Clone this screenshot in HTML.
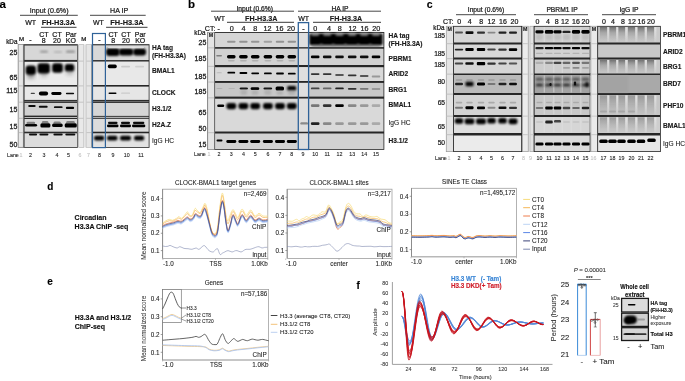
<!DOCTYPE html>
<html><head><meta charset="utf-8"><style>
html,body{margin:0;padding:0;background:#fff;width:685px;height:381px;overflow:hidden}
svg{display:block}
text{font-family:"Liberation Sans", sans-serif}
</style></head><body>
<svg width="685" height="381" viewBox="0 0 685 381" font-family="&quot;Liberation Sans&quot;, sans-serif" style="will-change:transform">
<defs>
<filter id="b0" x="-50%" y="-50%" width="200%" height="200%"><feGaussianBlur stdDeviation="0.35"/></filter>
<filter id="b1" x="-50%" y="-50%" width="200%" height="200%"><feGaussianBlur stdDeviation="0.6"/></filter>
<filter id="b2" x="-50%" y="-50%" width="200%" height="200%"><feGaussianBlur stdDeviation="1.2"/></filter>
<filter id="b3" x="-50%" y="-50%" width="200%" height="200%"><feGaussianBlur stdDeviation="2"/></filter>
<filter id="b4" x="-50%" y="-50%" width="200%" height="200%"><feGaussianBlur stdDeviation="0.8"/></filter>
<linearGradient id="gcol" x1="0" y1="0" x2="0" y2="1"><stop offset="0" stop-color="#666" stop-opacity="0.9"/><stop offset="0.4" stop-color="#888" stop-opacity="0.5"/><stop offset="1" stop-color="#a8a8a8" stop-opacity="0.1"/></linearGradient>
<linearGradient id="glt" x1="0" y1="0" x2="0" y2="1"><stop offset="0" stop-color="#e4e4e4" stop-opacity="0.95"/><stop offset="0.6" stop-color="#e0e0e0" stop-opacity="0.5"/><stop offset="1" stop-color="#e0e0e0" stop-opacity="0.1"/></linearGradient>
<linearGradient id="gcol2" x1="0" y1="0" x2="0" y2="1"><stop offset="0" stop-color="#7a7a7a" stop-opacity="0.6"/><stop offset="1" stop-color="#a0a0a0" stop-opacity="0.1"/></linearGradient>
</defs>
<rect width="685" height="381" fill="#fff"/>
<text x="-0.6" y="7.9" font-size="11.5" font-weight="bold" text-anchor="start" fill="#000" stroke="#000" stroke-width="0.14" >a</text>
<text x="49.2" y="12.7" font-size="7.1" font-weight="normal" text-anchor="middle" fill="#1a1a1a" stroke="#1a1a1a" stroke-width="0.22" >Input (0.6%)</text>
<line x1="20" y1="15.3" x2="77.8" y2="15.3" stroke="#333" stroke-width="0.9" />
<text x="119.1" y="12.7" font-size="7.1" font-weight="normal" text-anchor="middle" fill="#1a1a1a" stroke="#1a1a1a" stroke-width="0.22" >HA IP</text>
<line x1="90" y1="15.3" x2="145.7" y2="15.3" stroke="#333" stroke-width="0.9" />
<text x="30.7" y="25.3" font-size="7.0" font-weight="normal" text-anchor="middle" fill="#1a1a1a" stroke="#1a1a1a" stroke-width="0.22" >WT</text>
<text x="58.4" y="25.3" font-size="7.4" font-weight="bold" text-anchor="middle" fill="#1a1a1a" stroke="#1a1a1a" stroke-width="0.14" >FH-H3.3A</text>
<line x1="41" y1="27.3" x2="76.5" y2="27.3" stroke="#222" stroke-width="0.9" />
<text x="98.4" y="25.3" font-size="7.0" font-weight="normal" text-anchor="middle" fill="#1a1a1a" stroke="#1a1a1a" stroke-width="0.22" >WT</text>
<text x="127" y="25.3" font-size="7.4" font-weight="bold" text-anchor="middle" fill="#1a1a1a" stroke="#1a1a1a" stroke-width="0.14" >FH-H3.3A</text>
<line x1="106.1" y1="27.3" x2="147.5" y2="27.3" stroke="#222" stroke-width="0.9" />
<text x="21.5" y="40.9" font-size="5.3" font-weight="normal" text-anchor="middle" fill="#1a1a1a" stroke="#1a1a1a" stroke-width="0.22" transform="translate(21.5 0) scale(1.15 1) translate(-21.5 0)">M</text>
<text x="30.5" y="42.3" font-size="7" font-weight="normal" text-anchor="middle" fill="#1a1a1a" stroke="#1a1a1a" stroke-width="0.22" >-</text>
<text x="43.8" y="36.7" font-size="7.0" font-weight="normal" text-anchor="middle" fill="#1a1a1a" stroke="#1a1a1a" stroke-width="0.22" >CT</text>
<text x="43.8" y="43.2" font-size="7.0" font-weight="normal" text-anchor="middle" fill="#1a1a1a" stroke="#1a1a1a" stroke-width="0.22" >8</text>
<text x="57" y="36.7" font-size="7.0" font-weight="normal" text-anchor="middle" fill="#1a1a1a" stroke="#1a1a1a" stroke-width="0.22" >CT</text>
<text x="57" y="43.2" font-size="7.0" font-weight="normal" text-anchor="middle" fill="#1a1a1a" stroke="#1a1a1a" stroke-width="0.22" >20</text>
<text x="70.9" y="36.7" font-size="7.0" font-weight="normal" text-anchor="middle" fill="#1a1a1a" stroke="#1a1a1a" stroke-width="0.22" >Par</text>
<text x="70.9" y="43.2" font-size="7.0" font-weight="normal" text-anchor="middle" fill="#1a1a1a" stroke="#1a1a1a" stroke-width="0.22" >KO</text>
<text x="83.8" y="41.0" font-size="5.3" font-weight="normal" text-anchor="middle" fill="#1a1a1a" stroke="#1a1a1a" stroke-width="0.22" transform="translate(83.8 0) scale(1.15 1) translate(-83.8 0)">M</text>
<text x="99.4" y="42.3" font-size="7" font-weight="normal" text-anchor="middle" fill="#1a1a1a" stroke="#1a1a1a" stroke-width="0.22" >-</text>
<text x="113.2" y="36.5" font-size="7.0" font-weight="normal" text-anchor="middle" fill="#1a1a1a" stroke="#1a1a1a" stroke-width="0.22" >CT</text>
<text x="113.2" y="42.5" font-size="7.0" font-weight="normal" text-anchor="middle" fill="#1a1a1a" stroke="#1a1a1a" stroke-width="0.22" >8</text>
<text x="126" y="36.5" font-size="7.0" font-weight="normal" text-anchor="middle" fill="#1a1a1a" stroke="#1a1a1a" stroke-width="0.22" >CT</text>
<text x="126" y="42.5" font-size="7.0" font-weight="normal" text-anchor="middle" fill="#1a1a1a" stroke="#1a1a1a" stroke-width="0.22" >20</text>
<text x="140.2" y="36.5" font-size="7.0" font-weight="normal" text-anchor="middle" fill="#1a1a1a" stroke="#1a1a1a" stroke-width="0.22" >Par</text>
<text x="140.2" y="42.5" font-size="7.0" font-weight="normal" text-anchor="middle" fill="#1a1a1a" stroke="#1a1a1a" stroke-width="0.22" >KO</text>
<text x="17.4" y="44.3" font-size="6.3" font-weight="normal" text-anchor="end" fill="#1a1a1a" stroke="#1a1a1a" stroke-width="0.22" >kDa</text>
<text x="17.3" y="55.2" font-size="7.0" font-weight="normal" text-anchor="end" fill="#1a1a1a" stroke="#1a1a1a" stroke-width="0.26" >25</text>
<text x="17.3" y="79.8" font-size="7.0" font-weight="normal" text-anchor="end" fill="#1a1a1a" stroke="#1a1a1a" stroke-width="0.26" >65</text>
<text x="17.3" y="93.2" font-size="7.0" font-weight="normal" text-anchor="end" fill="#1a1a1a" stroke="#1a1a1a" stroke-width="0.26" >115</text>
<text x="17.3" y="111.7" font-size="7.0" font-weight="normal" text-anchor="end" fill="#1a1a1a" stroke="#1a1a1a" stroke-width="0.26" >15</text>
<text x="17.3" y="129.2" font-size="7.0" font-weight="normal" text-anchor="end" fill="#1a1a1a" stroke="#1a1a1a" stroke-width="0.26" >15</text>
<text x="17.3" y="146.9" font-size="7.0" font-weight="normal" text-anchor="end" fill="#1a1a1a" stroke="#1a1a1a" stroke-width="0.26" >50</text>
<rect x="17.9" y="44.2" width="59.9" height="103.6" fill="#2a2a2a" stroke="none" stroke-width="0" />
<rect x="24.5" y="45.5" width="52.599999999999994" height="14.399999999999999" fill="#d7d7d7" stroke="none" stroke-width="0" />
<rect x="24.5" y="61.8" width="52.599999999999994" height="23.200000000000003" fill="#eaeaea" stroke="none" stroke-width="0" />
<rect x="24.5" y="86.6" width="52.599999999999994" height="13.300000000000011" fill="#e8e8e8" stroke="none" stroke-width="0" />
<rect x="24.5" y="102.9" width="52.599999999999994" height="12.699999999999989" fill="#d0d0d0" stroke="none" stroke-width="0" />
<rect x="24.5" y="119.0" width="52.599999999999994" height="12.699999999999989" fill="#d9d9d9" stroke="none" stroke-width="0" />
<rect x="24.5" y="133.3" width="52.599999999999994" height="13.699999999999989" fill="#dcdcdc" stroke="none" stroke-width="0" />
<rect x="24.5" y="100.9" width="52.599999999999994" height="1.0999999999999943" fill="#6a6a6a" stroke="none" stroke-width="0" />
<rect x="24.5" y="117.0" width="52.599999999999994" height="0.9000000000000057" fill="#cfcfcf" stroke="none" stroke-width="0" />
<rect x="17.9" y="44.2" width="5.9" height="103.6" fill="#a8a8a8" stroke="none" stroke-width="0" />
<rect x="18.9" y="44.9" width="4.0" height="102.0" fill="#e6e6e6" stroke="none" stroke-width="0" />
<rect x="18.9" y="60.599999999999994" width="4.0" height="1.0" fill="#bdbdbd" stroke="none" stroke-width="0" />
<rect x="18.9" y="85.39999999999999" width="4.0" height="1.0" fill="#bdbdbd" stroke="none" stroke-width="0" />
<rect x="18.9" y="101.7" width="4.0" height="1.0" fill="#bdbdbd" stroke="none" stroke-width="0" />
<rect x="18.9" y="117.8" width="4.0" height="1.0" fill="#bdbdbd" stroke="none" stroke-width="0" />
<rect x="18.9" y="132.10000000000002" width="4.0" height="1.0" fill="#bdbdbd" stroke="none" stroke-width="0" />
<rect x="23.2" y="44.2" width="1.0" height="103.6" fill="#6e6e6e" stroke="none" stroke-width="0" />
<rect x="77.2" y="44.2" width="0.8" height="103.6" fill="#6e6e6e" stroke="none" stroke-width="0" />
<rect x="78.3" y="44.4" width="6.0" height="103.2" fill="#a9a9a9" stroke="none" stroke-width="0" />
<rect x="79.0" y="45.0" width="4.6" height="102.0" fill="#e9e9e9" stroke="none" stroke-width="0" />
<rect x="85.6" y="44.4" width="6.2" height="103.2" fill="#a9a9a9" stroke="none" stroke-width="0" />
<rect x="86.3" y="45.0" width="4.8" height="102.0" fill="#e6e6e6" stroke="none" stroke-width="0" />
<rect x="79.0" y="60.599999999999994" width="4.6" height="1.0" fill="#c4c4c4" stroke="none" stroke-width="0" />
<rect x="86.3" y="60.599999999999994" width="4.8" height="1.0" fill="#c4c4c4" stroke="none" stroke-width="0" />
<rect x="79.0" y="85.39999999999999" width="4.6" height="1.0" fill="#c4c4c4" stroke="none" stroke-width="0" />
<rect x="86.3" y="85.39999999999999" width="4.8" height="1.0" fill="#c4c4c4" stroke="none" stroke-width="0" />
<rect x="79.0" y="101.7" width="4.6" height="1.0" fill="#c4c4c4" stroke="none" stroke-width="0" />
<rect x="86.3" y="101.7" width="4.8" height="1.0" fill="#c4c4c4" stroke="none" stroke-width="0" />
<rect x="79.0" y="117.8" width="4.6" height="1.0" fill="#c4c4c4" stroke="none" stroke-width="0" />
<rect x="86.3" y="117.8" width="4.8" height="1.0" fill="#c4c4c4" stroke="none" stroke-width="0" />
<rect x="79.0" y="132.10000000000002" width="4.6" height="1.0" fill="#c4c4c4" stroke="none" stroke-width="0" />
<rect x="86.3" y="132.10000000000002" width="4.8" height="1.0" fill="#c4c4c4" stroke="none" stroke-width="0" />
<rect x="91.8" y="44.2" width="57.7" height="103.6" fill="#262626" stroke="none" stroke-width="0" />
<rect x="92.39999999999999" y="45.3" width="56.300000000000004" height="14.800000000000004" fill="#d8d8d8" stroke="none" stroke-width="0" />
<rect x="92.39999999999999" y="61.5" width="56.300000000000004" height="23.5" fill="#e8e8e8" stroke="none" stroke-width="0" />
<rect x="92.39999999999999" y="86.6" width="56.300000000000004" height="13.300000000000011" fill="#e6e6e6" stroke="none" stroke-width="0" />
<rect x="92.39999999999999" y="102.9" width="56.300000000000004" height="13.0" fill="#d6d6d6" stroke="none" stroke-width="0" />
<rect x="92.39999999999999" y="118.8" width="56.300000000000004" height="12.899999999999991" fill="#dcdcdc" stroke="none" stroke-width="0" />
<rect x="92.39999999999999" y="133.3" width="56.300000000000004" height="13.699999999999989" fill="#e2e2e2" stroke="none" stroke-width="0" />
<rect x="92.39999999999999" y="100.9" width="56.3" height="1.0999999999999943" fill="#6a6a6a" stroke="none" stroke-width="0" />
<rect x="92.39999999999999" y="116.8" width="56.300000000000004" height="1.0" fill="#d4d4d4" stroke="none" stroke-width="0" />
<rect x="40.00" y="50.80" width="8.00" height="1.80" rx="1.50" fill="#777" opacity="0.8" filter="url(#b2)"/>
<rect x="53.50" y="51.20" width="9.00" height="1.60" rx="1.50" fill="#999" opacity="0.7" filter="url(#b2)"/>
<rect x="66.00" y="50.80" width="9.00" height="1.80" rx="1.50" fill="#666" opacity="0.8" filter="url(#b2)"/>
<rect x="28.00" y="71.50" width="6.00" height="6.50" rx="1.50" fill="#555" opacity="0.75" filter="url(#b3)"/>
<rect x="41.00" y="70.00" width="6.00" height="6.50" rx="1.50" fill="#777" opacity="0.6" filter="url(#b3)"/>
<rect x="66.50" y="68.00" width="6.50" height="6.50" rx="1.50" fill="#777" opacity="0.6" filter="url(#b3)"/>
<rect x="25.70" y="65.50" width="10.20" height="9.30" rx="3.00" fill="#000" opacity="1" filter="url(#b4)"/>
<rect x="37.50" y="63.20" width="12.40" height="10.40" rx="3.00" fill="#000" opacity="1" filter="url(#b4)"/>
<rect x="52.10" y="63.20" width="10.80" height="9.50" rx="3.00" fill="#000" opacity="1" filter="url(#b4)"/>
<rect x="64.80" y="63.90" width="9.50" height="7.40" rx="2.60" fill="#000" opacity="1" filter="url(#b4)"/>
<rect x="30.70" y="92.70" width="4.20" height="1.40" rx="0.70" fill="#444" opacity="1" filter="url(#b1)"/>
<rect x="38.90" y="91.50" width="9.20" height="4.00" rx="2.00" fill="#000" opacity="1" filter="url(#b1)"/>
<rect x="51.30" y="92.10" width="10.20" height="2.80" rx="1.40" fill="#000" opacity="1" filter="url(#b1)"/>
<rect x="65.90" y="92.65" width="8.20" height="1.50" rx="0.75" fill="#111" opacity="1" filter="url(#b1)"/>
<rect x="28.20" y="105.00" width="7.40" height="2.00" rx="1.00" fill="#111" opacity="1" filter="url(#b1)"/>
<rect x="38.80" y="105.70" width="8.90" height="2.10" rx="1.00" fill="#111" opacity="1" filter="url(#b1)"/>
<rect x="53.90" y="106.20" width="8.70" height="1.90" rx="1.00" fill="#111" opacity="1" filter="url(#b1)"/>
<rect x="65.90" y="106.70" width="8.20" height="2.30" rx="1.00" fill="#000" opacity="1" filter="url(#b1)"/>
<rect x="25.00" y="124.00" width="12.10" height="2.60" rx="1.50" fill="#000" opacity="1" filter="url(#b1)"/>
<rect x="26.50" y="121.80" width="8.60" height="2.40" rx="1.50" fill="#444" opacity="0.6" filter="url(#b1)"/>
<rect x="40.40" y="123.20" width="10.00" height="4.20" rx="1.50" fill="#000" opacity="1" filter="url(#b1)"/>
<rect x="41.90" y="121.00" width="6.50" height="2.40" rx="1.50" fill="#444" opacity="0.6" filter="url(#b1)"/>
<rect x="52.10" y="123.60" width="10.60" height="3.40" rx="1.50" fill="#000" opacity="1" filter="url(#b1)"/>
<rect x="53.60" y="121.40" width="7.10" height="2.40" rx="1.50" fill="#444" opacity="0.6" filter="url(#b1)"/>
<rect x="64.70" y="123.20" width="12.10" height="4.30" rx="1.50" fill="#000" opacity="1" filter="url(#b1)"/>
<rect x="66.20" y="121.00" width="8.60" height="2.40" rx="1.50" fill="#444" opacity="0.6" filter="url(#b1)"/>
<rect x="29.00" y="133.40" width="8.10" height="2.20" rx="1.00" fill="#111" opacity="1" filter="url(#b1)"/>
<rect x="39.40" y="133.40" width="9.00" height="2.20" rx="1.00" fill="#111" opacity="1" filter="url(#b1)"/>
<rect x="53.40" y="133.40" width="9.30" height="2.20" rx="1.00" fill="#111" opacity="1" filter="url(#b1)"/>
<rect x="65.30" y="133.40" width="10.00" height="2.20" rx="1.00" fill="#111" opacity="1" filter="url(#b1)"/>
<rect x="106.10" y="48.20" width="13.50" height="7.70" rx="3.00" fill="#000" opacity="1" filter="url(#b4)"/>
<rect x="119.00" y="48.60" width="14.40" height="6.80" rx="3.00" fill="#000" opacity="1" filter="url(#b4)"/>
<rect x="133.20" y="48.40" width="12.80" height="7.20" rx="3.00" fill="#000" opacity="1" filter="url(#b4)"/>
<rect x="108.00" y="46.60" width="36.00" height="1.60" rx="1.50" fill="#f2f2f2" opacity="0.7" filter="url(#b1)"/>
<rect x="107.80" y="64.60" width="9.00" height="3.60" rx="1.60" fill="#000" opacity="1" filter="url(#b1)"/>
<rect x="121.10" y="65.70" width="9.00" height="1.80" rx="0.90" fill="#bdbdbd" opacity="0.7" filter="url(#b1)"/>
<rect x="135.10" y="65.70" width="9.00" height="1.80" rx="0.90" fill="#c6c6c6" opacity="0.7" filter="url(#b1)"/>
<rect x="108.50" y="92.45" width="8.00" height="1.50" rx="0.75" fill="#000" opacity="1" filter="url(#b1)"/>
<rect x="121.10" y="92.60" width="9.00" height="1.20" rx="0.60" fill="#b8b8b8" opacity="0.6" filter="url(#b1)"/>
<rect x="108.00" y="121.80" width="9.50" height="2.10" rx="1.00" fill="#111" opacity="1" filter="url(#b1)"/>
<rect x="107.00" y="124.60" width="11.50" height="2.60" rx="1.20" fill="#000" opacity="1" filter="url(#b1)"/>
<rect x="121.00" y="121.80" width="9.00" height="2.10" rx="1.00" fill="#111" opacity="1" filter="url(#b1)"/>
<rect x="120.00" y="124.60" width="11.00" height="2.60" rx="1.20" fill="#000" opacity="1" filter="url(#b1)"/>
<rect x="133.00" y="121.80" width="11.30" height="2.10" rx="1.00" fill="#111" opacity="1" filter="url(#b1)"/>
<rect x="132.00" y="124.60" width="13.30" height="2.60" rx="1.20" fill="#000" opacity="1" filter="url(#b1)"/>
<rect x="94.00" y="135.80" width="10.30" height="4.60" rx="2.00" fill="#000" opacity="1" filter="url(#b4)"/>
<rect x="107.00" y="135.80" width="10.50" height="4.60" rx="2.00" fill="#000" opacity="1" filter="url(#b4)"/>
<rect x="120.00" y="135.80" width="11.00" height="4.60" rx="2.00" fill="#000" opacity="1" filter="url(#b4)"/>
<rect x="134.00" y="135.80" width="10.20" height="4.60" rx="2.00" fill="#000" opacity="1" filter="url(#b4)"/>
<rect x="92.5" y="33.5" width="12.9" height="114.1" fill="none" stroke="#2f6298" stroke-width="1.2" />
<text x="152" y="50" font-size="6.6" font-weight="bold" text-anchor="start" fill="#1a1a1a" stroke="#1a1a1a" stroke-width="0.14" >HA tag</text>
<text x="152" y="57.6" font-size="6.6" font-weight="bold" text-anchor="start" fill="#1a1a1a" stroke="#1a1a1a" stroke-width="0.14" >(FH-H3.3A)</text>
<text x="152" y="73.4" font-size="6.6" font-weight="bold" text-anchor="start" fill="#1a1a1a" stroke="#1a1a1a" stroke-width="0.14" >BMAL1</text>
<text x="152" y="95.2" font-size="6.6" font-weight="bold" text-anchor="start" fill="#1a1a1a" stroke="#1a1a1a" stroke-width="0.14" >CLOCK</text>
<text x="152" y="111.2" font-size="6.6" font-weight="bold" text-anchor="start" fill="#1a1a1a" stroke="#1a1a1a" stroke-width="0.14" >H3.1/2</text>
<text x="152" y="127" font-size="6.6" font-weight="bold" text-anchor="start" fill="#1a1a1a" stroke="#1a1a1a" stroke-width="0.14" >H2A.Z</text>
<text x="152" y="143" font-size="6.6" font-weight="normal" text-anchor="start" fill="#1a1a1a" stroke="#1a1a1a" stroke-width="0.1" >IgG HC</text>
<text x="7" y="156.6" font-size="5.3" font-weight="normal" text-anchor="start" fill="#1a1a1a" stroke="#1a1a1a" stroke-width="0.1" >Lane</text>
<text x="21" y="156.6" font-size="5.3" font-weight="normal" text-anchor="middle" fill="#c4c4c4" stroke="#c4c4c4" stroke-width="0.1" >1</text>
<text x="30.5" y="156.6" font-size="5.3" font-weight="normal" text-anchor="middle" fill="#222" stroke="#222" stroke-width="0.1" >2</text>
<text x="44" y="156.6" font-size="5.3" font-weight="normal" text-anchor="middle" fill="#222" stroke="#222" stroke-width="0.1" >3</text>
<text x="57" y="156.6" font-size="5.3" font-weight="normal" text-anchor="middle" fill="#222" stroke="#222" stroke-width="0.1" >4</text>
<text x="68.5" y="156.6" font-size="5.3" font-weight="normal" text-anchor="middle" fill="#222" stroke="#222" stroke-width="0.1" >5</text>
<text x="80" y="156.6" font-size="5.3" font-weight="normal" text-anchor="middle" fill="#c4c4c4" stroke="#c4c4c4" stroke-width="0.1" >6</text>
<text x="88.5" y="156.6" font-size="5.3" font-weight="normal" text-anchor="middle" fill="#c4c4c4" stroke="#c4c4c4" stroke-width="0.1" >7</text>
<text x="99.5" y="156.6" font-size="5.3" font-weight="normal" text-anchor="middle" fill="#222" stroke="#222" stroke-width="0.1" >8</text>
<text x="113" y="156.6" font-size="5.3" font-weight="normal" text-anchor="middle" fill="#222" stroke="#222" stroke-width="0.1" >9</text>
<text x="126.7" y="156.6" font-size="5.3" font-weight="normal" text-anchor="middle" fill="#222" stroke="#222" stroke-width="0.1" >10</text>
<text x="141" y="156.6" font-size="5.3" font-weight="normal" text-anchor="middle" fill="#222" stroke="#222" stroke-width="0.1" >11</text>
<text x="187.9" y="7.9" font-size="11.5" font-weight="bold" text-anchor="start" fill="#000" stroke="#000" stroke-width="0.14" >b</text>
<text x="254.7" y="10.5" font-size="6.7" font-weight="normal" text-anchor="middle" fill="#1a1a1a" stroke="#1a1a1a" stroke-width="0.22" >Input (0.6%)</text>
<line x1="211" y1="11.2" x2="294" y2="11.2" stroke="#333" stroke-width="0.9" />
<text x="340" y="10.5" font-size="6.7" font-weight="normal" text-anchor="middle" fill="#1a1a1a" stroke="#1a1a1a" stroke-width="0.22" >HA IP</text>
<line x1="298" y1="11.2" x2="381" y2="11.2" stroke="#333" stroke-width="0.9" />
<text x="219.6" y="21.1" font-size="7.0" font-weight="normal" text-anchor="middle" fill="#1a1a1a" stroke="#1a1a1a" stroke-width="0.22" >WT</text>
<text x="261.3" y="21.1" font-size="7.2" font-weight="bold" text-anchor="middle" fill="#1a1a1a" stroke="#1a1a1a" stroke-width="0.14" >FH-H3.3A</text>
<line x1="227" y1="22.3" x2="294" y2="22.3" stroke="#222" stroke-width="0.9" />
<text x="303.6" y="21.1" font-size="7.0" font-weight="normal" text-anchor="middle" fill="#1a1a1a" stroke="#1a1a1a" stroke-width="0.22" >WT</text>
<text x="346" y="21.1" font-size="7.2" font-weight="bold" text-anchor="middle" fill="#1a1a1a" stroke="#1a1a1a" stroke-width="0.14" >FH-H3.3A</text>
<line x1="313" y1="22.3" x2="381" y2="22.3" stroke="#222" stroke-width="0.9" />
<text x="204.8" y="30.7" font-size="7.1" font-weight="normal" text-anchor="start" fill="#1a1a1a" stroke="#1a1a1a" stroke-width="0.22" >CT: -</text>
<text x="231.7" y="30.7" font-size="7.2" font-weight="normal" text-anchor="middle" fill="#1a1a1a" stroke="#1a1a1a" stroke-width="0.22" >0</text>
<text x="243.4" y="30.7" font-size="7.2" font-weight="normal" text-anchor="middle" fill="#1a1a1a" stroke="#1a1a1a" stroke-width="0.22" >4</text>
<text x="255.2" y="30.7" font-size="7.2" font-weight="normal" text-anchor="middle" fill="#1a1a1a" stroke="#1a1a1a" stroke-width="0.22" >8</text>
<text x="267.5" y="30.7" font-size="7.2" font-weight="normal" text-anchor="middle" fill="#1a1a1a" stroke="#1a1a1a" stroke-width="0.22" >12</text>
<text x="279.5" y="30.7" font-size="7.2" font-weight="normal" text-anchor="middle" fill="#1a1a1a" stroke="#1a1a1a" stroke-width="0.22" >16</text>
<text x="291" y="30.7" font-size="7.2" font-weight="normal" text-anchor="middle" fill="#1a1a1a" stroke="#1a1a1a" stroke-width="0.22" >20</text>
<text x="303.4" y="30.7" font-size="7.2" font-weight="normal" text-anchor="middle" fill="#1a1a1a" stroke="#1a1a1a" stroke-width="0.22" >-</text>
<text x="315.3" y="30.7" font-size="7.2" font-weight="normal" text-anchor="middle" fill="#1a1a1a" stroke="#1a1a1a" stroke-width="0.22" >0</text>
<text x="329" y="30.7" font-size="7.2" font-weight="normal" text-anchor="middle" fill="#1a1a1a" stroke="#1a1a1a" stroke-width="0.22" >4</text>
<text x="339.7" y="30.7" font-size="7.2" font-weight="normal" text-anchor="middle" fill="#1a1a1a" stroke="#1a1a1a" stroke-width="0.22" >8</text>
<text x="352.5" y="30.7" font-size="7.2" font-weight="normal" text-anchor="middle" fill="#1a1a1a" stroke="#1a1a1a" stroke-width="0.22" >12</text>
<text x="364.5" y="30.7" font-size="7.2" font-weight="normal" text-anchor="middle" fill="#1a1a1a" stroke="#1a1a1a" stroke-width="0.22" >16</text>
<text x="376.3" y="30.7" font-size="7.2" font-weight="normal" text-anchor="middle" fill="#1a1a1a" stroke="#1a1a1a" stroke-width="0.22" >20</text>
<text x="205.5" y="35.2" font-size="6.3" font-weight="normal" text-anchor="end" fill="#1a1a1a" stroke="#1a1a1a" stroke-width="0.22" >kDa</text>
<text x="206.3" y="45.3" font-size="7.0" font-weight="normal" text-anchor="end" fill="#1a1a1a" stroke="#1a1a1a" stroke-width="0.26" >25</text>
<text x="206.3" y="61.2" font-size="7.0" font-weight="normal" text-anchor="end" fill="#1a1a1a" stroke="#1a1a1a" stroke-width="0.26" >185</text>
<text x="206.3" y="79" font-size="7.0" font-weight="normal" text-anchor="end" fill="#1a1a1a" stroke="#1a1a1a" stroke-width="0.26" >185</text>
<text x="206.3" y="94.2" font-size="7.0" font-weight="normal" text-anchor="end" fill="#1a1a1a" stroke="#1a1a1a" stroke-width="0.26" >185</text>
<text x="206.3" y="115.3" font-size="7.0" font-weight="normal" text-anchor="end" fill="#1a1a1a" stroke="#1a1a1a" stroke-width="0.26" >65</text>
<text x="206.3" y="131.2" font-size="7.0" font-weight="normal" text-anchor="end" fill="#1a1a1a" stroke="#1a1a1a" stroke-width="0.26" >50</text>
<text x="206.3" y="146.5" font-size="7.0" font-weight="normal" text-anchor="end" fill="#1a1a1a" stroke="#1a1a1a" stroke-width="0.26" >15</text>
<rect x="207.4" y="32.0" width="176.9" height="117.8" fill="#262626" stroke="none" stroke-width="0" />
<rect x="214.9" y="32.9" width="168.6" height="14.200000000000003" fill="#d6d6d6" stroke="none" stroke-width="0" />
<rect x="214.9" y="48.7" width="168.6" height="16.299999999999997" fill="#d1d1d1" stroke="none" stroke-width="0" />
<rect x="214.9" y="67.2" width="168.6" height="13.799999999999997" fill="#d9d9d9" stroke="none" stroke-width="0" />
<rect x="214.9" y="82.9" width="168.6" height="13.699999999999989" fill="#c7c7c7" stroke="none" stroke-width="0" />
<rect x="214.9" y="98.7" width="168.6" height="32.8" fill="#d9d9d9" stroke="none" stroke-width="0" />
<rect x="214.9" y="133.5" width="168.6" height="15.5" fill="#d2d2d2" stroke="none" stroke-width="0" />
<rect x="207.4" y="32.0" width="7.4" height="117.8" fill="#9a9a9a" stroke="none" stroke-width="0" />
<rect x="208.1" y="32.8" width="6.0" height="116.4" fill="#e4e4e4" stroke="none" stroke-width="0" />
<rect x="208.1" y="47.300000000000004" width="6.0" height="1.1" fill="#c2c2c2" stroke="none" stroke-width="0" />
<rect x="208.1" y="65.8" width="6.0" height="1.1" fill="#c2c2c2" stroke="none" stroke-width="0" />
<rect x="208.1" y="81.5" width="6.0" height="1.1" fill="#c2c2c2" stroke="none" stroke-width="0" />
<rect x="208.1" y="97.3" width="6.0" height="1.1" fill="#c2c2c2" stroke="none" stroke-width="0" />
<rect x="208.1" y="132.1" width="6.0" height="1.1" fill="#c2c2c2" stroke="none" stroke-width="0" />
<rect x="214.2" y="32.0" width="0.9" height="117.8" fill="#6a6a6a" stroke="none" stroke-width="0" />
<text x="210.9" y="37.3" font-size="5.3" font-weight="bold" text-anchor="middle" fill="#222" stroke="#222" stroke-width="0.14" >M</text>
<rect x="298.5" y="32.9" width="10" height="14.200000000000003" fill="#dfdfdf" stroke="none" stroke-width="0" />
<rect x="298.5" y="48.7" width="10" height="16.299999999999997" fill="#dfdfdf" stroke="none" stroke-width="0" />
<rect x="298.5" y="67.2" width="10" height="13.799999999999997" fill="#dfdfdf" stroke="none" stroke-width="0" />
<rect x="298.5" y="82.9" width="10" height="13.699999999999989" fill="#dfdfdf" stroke="none" stroke-width="0" />
<rect x="298.5" y="98.7" width="10" height="32.8" fill="#dfdfdf" stroke="none" stroke-width="0" />
<rect x="298.5" y="133.5" width="10" height="15.5" fill="#dfdfdf" stroke="none" stroke-width="0" />
<rect x="227.05" y="40.80" width="8.50" height="2.00" rx="1.00" fill="#8a8a8a" opacity="0.85" filter="url(#b1)"/>
<rect x="239.15" y="40.80" width="8.50" height="2.00" rx="1.00" fill="#888" opacity="0.85" filter="url(#b1)"/>
<rect x="250.95" y="40.80" width="8.50" height="2.00" rx="1.00" fill="#8c8c8c" opacity="0.85" filter="url(#b1)"/>
<rect x="263.65" y="40.80" width="8.50" height="2.00" rx="1.00" fill="#999" opacity="0.85" filter="url(#b1)"/>
<rect x="275.75" y="40.80" width="8.50" height="2.00" rx="1.00" fill="#888" opacity="0.85" filter="url(#b1)"/>
<rect x="287.55" y="40.80" width="8.50" height="2.00" rx="1.00" fill="#888" opacity="0.85" filter="url(#b1)"/>
<rect x="309.40" y="33.60" width="73.20" height="11.60" rx="2.00" fill="#000" opacity="1" filter="url(#b4)"/>
<rect x="311.20" y="33.00" width="8.00" height="3.00" rx="1.50" fill="#c8c8c8" opacity="0.6" filter="url(#b2)"/>
<rect x="323.20" y="33.00" width="8.00" height="3.00" rx="1.50" fill="#c8c8c8" opacity="0.6" filter="url(#b2)"/>
<rect x="335.50" y="33.00" width="8.00" height="3.00" rx="1.50" fill="#c8c8c8" opacity="0.6" filter="url(#b2)"/>
<rect x="348.20" y="33.00" width="8.00" height="3.00" rx="1.50" fill="#c8c8c8" opacity="0.6" filter="url(#b2)"/>
<rect x="360.20" y="33.00" width="8.00" height="3.00" rx="1.50" fill="#c8c8c8" opacity="0.6" filter="url(#b2)"/>
<rect x="372.00" y="33.00" width="8.00" height="3.00" rx="1.50" fill="#c8c8c8" opacity="0.6" filter="url(#b2)"/>
<rect x="319.70" y="43.50" width="3.00" height="2.50" rx="1.50" fill="#888" opacity="0.6" filter="url(#b2)"/>
<rect x="331.70" y="43.50" width="3.00" height="2.50" rx="1.50" fill="#888" opacity="0.6" filter="url(#b2)"/>
<rect x="344.00" y="43.50" width="3.00" height="2.50" rx="1.50" fill="#888" opacity="0.6" filter="url(#b2)"/>
<rect x="356.70" y="43.50" width="3.00" height="2.50" rx="1.50" fill="#888" opacity="0.6" filter="url(#b2)"/>
<rect x="368.70" y="43.50" width="3.00" height="2.50" rx="1.50" fill="#888" opacity="0.6" filter="url(#b2)"/>
<rect x="312.00" y="44.50" width="68.00" height="2.50" rx="1.50" fill="#555" opacity="0.5" filter="url(#b2)"/>
<rect x="216.20" y="55.00" width="5.80" height="1.60" rx="0.80" fill="#777" opacity="0.9" filter="url(#b1)"/>
<rect x="227.00" y="54.90" width="8.60" height="3.50" rx="1.60" fill="#000" opacity="1" filter="url(#b1)"/>
<rect x="227.80" y="60.10" width="7.00" height="1.30" rx="1.50" fill="#9a9a9a" opacity="0.6" filter="url(#b1)"/>
<rect x="239.10" y="54.90" width="8.60" height="3.50" rx="1.60" fill="#000" opacity="1" filter="url(#b1)"/>
<rect x="239.90" y="60.10" width="7.00" height="1.30" rx="1.50" fill="#9a9a9a" opacity="0.6" filter="url(#b1)"/>
<rect x="250.90" y="54.90" width="8.60" height="3.50" rx="1.60" fill="#000" opacity="1" filter="url(#b1)"/>
<rect x="251.70" y="60.10" width="7.00" height="1.30" rx="1.50" fill="#9a9a9a" opacity="0.6" filter="url(#b1)"/>
<rect x="263.60" y="54.90" width="8.60" height="3.50" rx="1.60" fill="#000" opacity="1" filter="url(#b1)"/>
<rect x="264.40" y="60.10" width="7.00" height="1.30" rx="1.50" fill="#9a9a9a" opacity="0.6" filter="url(#b1)"/>
<rect x="275.70" y="54.90" width="8.60" height="3.50" rx="1.60" fill="#000" opacity="1" filter="url(#b1)"/>
<rect x="276.50" y="60.10" width="7.00" height="1.30" rx="1.50" fill="#9a9a9a" opacity="0.6" filter="url(#b1)"/>
<rect x="287.50" y="54.90" width="8.60" height="3.50" rx="1.60" fill="#000" opacity="1" filter="url(#b1)"/>
<rect x="288.30" y="60.10" width="7.00" height="1.30" rx="1.50" fill="#9a9a9a" opacity="0.6" filter="url(#b1)"/>
<rect x="310.90" y="55.50" width="8.60" height="2.70" rx="1.20" fill="#000" opacity="1" filter="url(#b1)"/>
<rect x="322.90" y="55.50" width="8.60" height="2.70" rx="1.20" fill="#111" opacity="1" filter="url(#b1)"/>
<rect x="335.20" y="55.50" width="8.60" height="2.70" rx="1.20" fill="#111" opacity="1" filter="url(#b1)"/>
<rect x="347.90" y="55.50" width="8.60" height="2.70" rx="1.20" fill="#111" opacity="1" filter="url(#b1)"/>
<rect x="359.90" y="55.50" width="8.60" height="2.70" rx="1.20" fill="#111" opacity="1" filter="url(#b1)"/>
<rect x="371.70" y="55.50" width="8.60" height="2.70" rx="1.20" fill="#000" opacity="1" filter="url(#b1)"/>
<rect x="216.50" y="72.20" width="5.50" height="1.00" rx="1.50" fill="#aaa" opacity="0.7" filter="url(#b1)"/>
<rect x="227.40" y="71.80" width="7.80" height="1.80" rx="0.90" fill="#000" opacity="1" filter="url(#b1)"/>
<rect x="239.50" y="72.10" width="7.80" height="1.80" rx="0.90" fill="#000" opacity="1" filter="url(#b1)"/>
<rect x="251.30" y="72.40" width="7.80" height="1.80" rx="0.90" fill="#000" opacity="1" filter="url(#b1)"/>
<rect x="264.00" y="72.50" width="7.80" height="1.80" rx="0.90" fill="#000" opacity="1" filter="url(#b1)"/>
<rect x="276.10" y="72.60" width="7.80" height="1.80" rx="0.90" fill="#000" opacity="1" filter="url(#b1)"/>
<rect x="287.90" y="72.80" width="7.80" height="1.80" rx="0.90" fill="#000" opacity="1" filter="url(#b1)"/>
<rect x="310.90" y="73.20" width="8.60" height="1.80" rx="0.90" fill="#333" opacity="1" filter="url(#b1)"/>
<rect x="322.90" y="73.20" width="8.60" height="1.80" rx="0.90" fill="#333" opacity="1" filter="url(#b1)"/>
<rect x="335.20" y="74.10" width="8.60" height="1.80" rx="0.90" fill="#555" opacity="1" filter="url(#b1)"/>
<rect x="347.90" y="74.40" width="8.60" height="1.80" rx="0.90" fill="#333" opacity="1" filter="url(#b1)"/>
<rect x="359.90" y="75.10" width="8.60" height="1.80" rx="0.90" fill="#555" opacity="1" filter="url(#b1)"/>
<rect x="371.70" y="75.60" width="8.60" height="1.80" rx="0.90" fill="#999" opacity="1" filter="url(#b1)"/>
<rect x="216.30" y="87.90" width="6.20" height="1.20" rx="1.50" fill="#aaa" opacity="0.8" filter="url(#b1)"/>
<rect x="228.30" y="88.10" width="6.70" height="1.00" rx="1.50" fill="#b0b0b0" opacity="0.8" filter="url(#b1)"/>
<rect x="239.60" y="87.50" width="8.40" height="2.10" rx="1.60" fill="#111" opacity="1" filter="url(#b1)"/>
<rect x="240.60" y="89.60" width="6.40" height="5.40" rx="1.50" fill="#999" opacity="0.45" filter="url(#b2)"/>
<rect x="250.60" y="87.30" width="8.70" height="2.80" rx="1.60" fill="#000" opacity="1" filter="url(#b1)"/>
<rect x="251.60" y="90.10" width="6.70" height="4.90" rx="1.50" fill="#999" opacity="0.45" filter="url(#b2)"/>
<rect x="263.40" y="87.60" width="8.80" height="2.00" rx="1.60" fill="#111" opacity="1" filter="url(#b1)"/>
<rect x="264.40" y="89.60" width="6.80" height="5.40" rx="1.50" fill="#999" opacity="0.45" filter="url(#b2)"/>
<rect x="275.60" y="86.40" width="8.40" height="4.20" rx="1.60" fill="#000" opacity="1" filter="url(#b1)"/>
<rect x="276.60" y="90.60" width="6.40" height="4.40" rx="1.50" fill="#999" opacity="0.45" filter="url(#b2)"/>
<rect x="287.20" y="86.00" width="9.00" height="4.60" rx="1.60" fill="#000" opacity="1" filter="url(#b4)"/>
<rect x="288.20" y="90.60" width="7.00" height="4.40" rx="1.50" fill="#999" opacity="0.45" filter="url(#b2)"/>
<rect x="310.90" y="87.50" width="8.60" height="1.80" rx="0.90" fill="#444" opacity="1" filter="url(#b1)"/>
<rect x="322.90" y="87.50" width="8.60" height="1.80" rx="0.90" fill="#666" opacity="1" filter="url(#b1)"/>
<rect x="335.20" y="87.50" width="8.60" height="1.80" rx="0.90" fill="#222" opacity="1" filter="url(#b1)"/>
<rect x="347.90" y="87.90" width="8.60" height="1.80" rx="0.90" fill="#333" opacity="1" filter="url(#b1)"/>
<rect x="359.90" y="87.90" width="8.60" height="1.80" rx="0.90" fill="#777" opacity="1" filter="url(#b1)"/>
<rect x="371.70" y="88.10" width="8.60" height="1.80" rx="0.90" fill="#999" opacity="1" filter="url(#b1)"/>
<rect x="217.20" y="104.40" width="7.00" height="2.60" rx="1.20" fill="#000" opacity="1" filter="url(#b1)"/>
<rect x="226.40" y="102.90" width="9.80" height="6.30" rx="2.40" fill="#000" opacity="1" filter="url(#b4)"/>
<rect x="238.50" y="102.90" width="9.80" height="6.30" rx="2.40" fill="#000" opacity="1" filter="url(#b4)"/>
<rect x="250.30" y="102.90" width="9.80" height="6.30" rx="2.40" fill="#000" opacity="1" filter="url(#b4)"/>
<rect x="263.00" y="102.90" width="9.80" height="6.30" rx="2.40" fill="#000" opacity="1" filter="url(#b4)"/>
<rect x="275.10" y="102.90" width="9.80" height="6.30" rx="2.40" fill="#000" opacity="1" filter="url(#b4)"/>
<rect x="286.90" y="102.90" width="9.80" height="6.30" rx="2.40" fill="#000" opacity="1" filter="url(#b4)"/>
<rect x="310.90" y="104.20" width="8.60" height="2.80" rx="1.20" fill="#777" opacity="1" filter="url(#b1)"/>
<rect x="322.90" y="104.20" width="8.60" height="2.80" rx="1.20" fill="#333" opacity="1" filter="url(#b1)"/>
<rect x="335.20" y="104.20" width="8.60" height="2.80" rx="1.20" fill="#000" opacity="1" filter="url(#b1)"/>
<rect x="347.90" y="104.20" width="8.60" height="2.80" rx="1.20" fill="#888" opacity="1" filter="url(#b1)"/>
<rect x="359.90" y="104.20" width="8.60" height="2.80" rx="1.20" fill="#999" opacity="1" filter="url(#b1)"/>
<rect x="371.70" y="104.20" width="8.60" height="2.80" rx="1.20" fill="#aaa" opacity="1" filter="url(#b1)"/>
<rect x="300.30" y="122.20" width="7.70" height="2.40" rx="1.20" fill="#8a8a8a" opacity="1" filter="url(#b1)"/>
<rect x="310.90" y="122.20" width="8.60" height="2.80" rx="1.20" fill="#222" opacity="1" filter="url(#b1)"/>
<rect x="322.90" y="122.20" width="8.60" height="2.80" rx="1.20" fill="#888" opacity="1" filter="url(#b1)"/>
<rect x="335.20" y="122.20" width="8.60" height="2.80" rx="1.20" fill="#999" opacity="1" filter="url(#b1)"/>
<rect x="347.90" y="122.20" width="8.60" height="2.80" rx="1.20" fill="#999" opacity="1" filter="url(#b1)"/>
<rect x="359.90" y="122.20" width="8.60" height="2.80" rx="1.20" fill="#999" opacity="1" filter="url(#b1)"/>
<rect x="371.70" y="122.20" width="8.60" height="2.80" rx="1.20" fill="#aaa" opacity="1" filter="url(#b1)"/>
<rect x="216.50" y="139.60" width="6.00" height="2.00" rx="1.00" fill="#000" opacity="1" filter="url(#b1)"/>
<rect x="226.30" y="140.10" width="10.00" height="2.80" rx="1.30" fill="#000" opacity="1" filter="url(#b1)"/>
<rect x="238.40" y="140.10" width="10.00" height="2.80" rx="1.30" fill="#000" opacity="1" filter="url(#b1)"/>
<rect x="250.20" y="140.10" width="10.00" height="2.80" rx="1.30" fill="#000" opacity="1" filter="url(#b1)"/>
<rect x="262.90" y="140.10" width="10.00" height="2.80" rx="1.30" fill="#000" opacity="1" filter="url(#b1)"/>
<rect x="275.00" y="140.10" width="10.00" height="2.80" rx="1.30" fill="#000" opacity="1" filter="url(#b1)"/>
<rect x="286.80" y="140.10" width="10.00" height="2.80" rx="1.30" fill="#000" opacity="1" filter="url(#b1)"/>
<rect x="298.3" y="22.6" width="10.3" height="126.9" fill="none" stroke="#2f6298" stroke-width="1.3" />
<text x="388.5" y="38.3" font-size="6.6" font-weight="bold" text-anchor="start" fill="#1a1a1a" stroke="#1a1a1a" stroke-width="0.14" >HA tag</text>
<text x="388.5" y="45.9" font-size="6.6" font-weight="bold" text-anchor="start" fill="#1a1a1a" stroke="#1a1a1a" stroke-width="0.14" >(FH-H3.3A)</text>
<text x="388.5" y="60.8" font-size="6.6" font-weight="bold" text-anchor="start" fill="#1a1a1a" stroke="#1a1a1a" stroke-width="0.14" >PBRM1</text>
<text x="388.5" y="76.3" font-size="6.6" font-weight="bold" text-anchor="start" fill="#1a1a1a" stroke="#1a1a1a" stroke-width="0.14" >ARID2</text>
<text x="388.5" y="91.8" font-size="6.6" font-weight="bold" text-anchor="start" fill="#1a1a1a" stroke="#1a1a1a" stroke-width="0.14" >BRG1</text>
<text x="388.5" y="107.0" font-size="6.6" font-weight="bold" text-anchor="start" fill="#1a1a1a" stroke="#1a1a1a" stroke-width="0.14" >BMAL1</text>
<text x="388.5" y="124.8" font-size="6.6" font-weight="normal" text-anchor="start" fill="#1a1a1a" stroke="#1a1a1a" stroke-width="0.1" >IgG HC</text>
<text x="388.5" y="143.0" font-size="6.6" font-weight="bold" text-anchor="start" fill="#1a1a1a" stroke="#1a1a1a" stroke-width="0.14" >H3.1/2</text>
<text x="194" y="156.2" font-size="5.3" font-weight="normal" text-anchor="start" fill="#1a1a1a" stroke="#1a1a1a" stroke-width="0.1" >Lane</text>
<text x="209" y="156.2" font-size="5.3" font-weight="normal" text-anchor="middle" fill="#c4c4c4" stroke="#c4c4c4" stroke-width="0.1" >1</text>
<text x="219" y="156.2" font-size="5.3" font-weight="normal" text-anchor="middle" fill="#222" stroke="#222" stroke-width="0.1" >2</text>
<text x="231.3" y="156.2" font-size="5.3" font-weight="normal" text-anchor="middle" fill="#222" stroke="#222" stroke-width="0.1" >3</text>
<text x="243.4" y="156.2" font-size="5.3" font-weight="normal" text-anchor="middle" fill="#222" stroke="#222" stroke-width="0.1" >4</text>
<text x="255.2" y="156.2" font-size="5.3" font-weight="normal" text-anchor="middle" fill="#222" stroke="#222" stroke-width="0.1" >5</text>
<text x="267.9" y="156.2" font-size="5.3" font-weight="normal" text-anchor="middle" fill="#222" stroke="#222" stroke-width="0.1" >6</text>
<text x="280.0" y="156.2" font-size="5.3" font-weight="normal" text-anchor="middle" fill="#222" stroke="#222" stroke-width="0.1" >7</text>
<text x="291.8" y="156.2" font-size="5.3" font-weight="normal" text-anchor="middle" fill="#222" stroke="#222" stroke-width="0.1" >8</text>
<text x="303" y="156.2" font-size="5.3" font-weight="normal" text-anchor="middle" fill="#222" stroke="#222" stroke-width="0.1" >9</text>
<text x="315.2" y="156.2" font-size="5.3" font-weight="normal" text-anchor="middle" fill="#222" stroke="#222" stroke-width="0.1" >10</text>
<text x="327.2" y="156.2" font-size="5.3" font-weight="normal" text-anchor="middle" fill="#222" stroke="#222" stroke-width="0.1" >11</text>
<text x="339.5" y="156.2" font-size="5.3" font-weight="normal" text-anchor="middle" fill="#222" stroke="#222" stroke-width="0.1" >12</text>
<text x="352.2" y="156.2" font-size="5.3" font-weight="normal" text-anchor="middle" fill="#222" stroke="#222" stroke-width="0.1" >13</text>
<text x="364.2" y="156.2" font-size="5.3" font-weight="normal" text-anchor="middle" fill="#222" stroke="#222" stroke-width="0.1" >14</text>
<text x="376.0" y="156.2" font-size="5.3" font-weight="normal" text-anchor="middle" fill="#222" stroke="#222" stroke-width="0.1" >15</text>
<text x="426.8" y="8" font-size="10.5" font-weight="bold" text-anchor="start" fill="#000" stroke="#000" stroke-width="0.14" >c</text>
<text x="486" y="12.4" font-size="6.7" font-weight="normal" text-anchor="middle" fill="#1a1a1a" stroke="#1a1a1a" stroke-width="0.22" >Input (0.6%)</text>
<line x1="456" y1="14.7" x2="516" y2="14.7" stroke="#333" stroke-width="0.9" />
<text x="562" y="12.4" font-size="6.7" font-weight="normal" text-anchor="middle" fill="#1a1a1a" stroke="#1a1a1a" stroke-width="0.22" >PBRM1 IP</text>
<line x1="534" y1="14.7" x2="588" y2="14.7" stroke="#333" stroke-width="0.9" />
<text x="629" y="12.4" font-size="6.7" font-weight="normal" text-anchor="middle" fill="#1a1a1a" stroke="#1a1a1a" stroke-width="0.22" >IgG IP</text>
<line x1="602" y1="14.7" x2="656" y2="14.7" stroke="#333" stroke-width="0.9" />
<text x="443" y="24.3" font-size="7.0" font-weight="normal" text-anchor="start" fill="#1a1a1a" stroke="#1a1a1a" stroke-width="0.22" >CT:</text>
<text x="459.2" y="24.3" font-size="7.0" font-weight="normal" text-anchor="middle" fill="#1a1a1a" stroke="#1a1a1a" stroke-width="0.22" >0</text>
<text x="469.7" y="24.3" font-size="7.0" font-weight="normal" text-anchor="middle" fill="#1a1a1a" stroke="#1a1a1a" stroke-width="0.22" >4</text>
<text x="481.3" y="24.3" font-size="7.0" font-weight="normal" text-anchor="middle" fill="#1a1a1a" stroke="#1a1a1a" stroke-width="0.22" >8</text>
<text x="491.5" y="24.3" font-size="7.0" font-weight="normal" text-anchor="middle" fill="#1a1a1a" stroke="#1a1a1a" stroke-width="0.22" >12</text>
<text x="503" y="24.3" font-size="7.0" font-weight="normal" text-anchor="middle" fill="#1a1a1a" stroke="#1a1a1a" stroke-width="0.22" >16</text>
<text x="514.5" y="24.3" font-size="7.0" font-weight="normal" text-anchor="middle" fill="#1a1a1a" stroke="#1a1a1a" stroke-width="0.22" >20</text>
<text x="537.5" y="24.3" font-size="7.0" font-weight="normal" text-anchor="middle" fill="#1a1a1a" stroke="#1a1a1a" stroke-width="0.22" >0</text>
<text x="548" y="24.3" font-size="7.0" font-weight="normal" text-anchor="middle" fill="#1a1a1a" stroke="#1a1a1a" stroke-width="0.22" >4</text>
<text x="556.7" y="24.3" font-size="7.0" font-weight="normal" text-anchor="middle" fill="#1a1a1a" stroke="#1a1a1a" stroke-width="0.22" >8</text>
<text x="565" y="24.3" font-size="7.0" font-weight="normal" text-anchor="middle" fill="#1a1a1a" stroke="#1a1a1a" stroke-width="0.22" >12</text>
<text x="576" y="24.3" font-size="7.0" font-weight="normal" text-anchor="middle" fill="#1a1a1a" stroke="#1a1a1a" stroke-width="0.22" >16</text>
<text x="585.5" y="24.3" font-size="7.0" font-weight="normal" text-anchor="middle" fill="#1a1a1a" stroke="#1a1a1a" stroke-width="0.22" >20</text>
<text x="604" y="24.3" font-size="7.0" font-weight="normal" text-anchor="middle" fill="#1a1a1a" stroke="#1a1a1a" stroke-width="0.22" >0</text>
<text x="613" y="24.3" font-size="7.0" font-weight="normal" text-anchor="middle" fill="#1a1a1a" stroke="#1a1a1a" stroke-width="0.22" >4</text>
<text x="623" y="24.3" font-size="7.0" font-weight="normal" text-anchor="middle" fill="#1a1a1a" stroke="#1a1a1a" stroke-width="0.22" >8</text>
<text x="632" y="24.3" font-size="7.0" font-weight="normal" text-anchor="middle" fill="#1a1a1a" stroke="#1a1a1a" stroke-width="0.22" >12</text>
<text x="641.5" y="24.3" font-size="7.0" font-weight="normal" text-anchor="middle" fill="#1a1a1a" stroke="#1a1a1a" stroke-width="0.22" >16</text>
<text x="651" y="24.3" font-size="7.0" font-weight="normal" text-anchor="middle" fill="#1a1a1a" stroke="#1a1a1a" stroke-width="0.22" >20</text>
<text x="444.5" y="29.8" font-size="6.3" font-weight="normal" text-anchor="end" fill="#1a1a1a" stroke="#1a1a1a" stroke-width="0.22" >kDa</text>
<text x="444.6" y="38.2" font-size="6.7" font-weight="normal" text-anchor="end" fill="#1a1a1a" stroke="#1a1a1a" stroke-width="0.22" letter-spacing="-0.3">185</text>
<text x="444.6" y="56.2" font-size="6.7" font-weight="normal" text-anchor="end" fill="#1a1a1a" stroke="#1a1a1a" stroke-width="0.22" letter-spacing="-0.3">185</text>
<text x="444.6" y="67.2" font-size="6.7" font-weight="normal" text-anchor="end" fill="#1a1a1a" stroke="#1a1a1a" stroke-width="0.22" letter-spacing="-0.3">185</text>
<text x="444.6" y="84.2" font-size="6.7" font-weight="normal" text-anchor="end" fill="#1a1a1a" stroke="#1a1a1a" stroke-width="0.22" letter-spacing="-0.3">80</text>
<text x="444.6" y="105.2" font-size="6.7" font-weight="normal" text-anchor="end" fill="#1a1a1a" stroke="#1a1a1a" stroke-width="0.22" letter-spacing="-0.3">65</text>
<text x="444.6" y="129.2" font-size="6.7" font-weight="normal" text-anchor="end" fill="#1a1a1a" stroke="#1a1a1a" stroke-width="0.22" letter-spacing="-0.3">65</text>
<text x="444.6" y="145.2" font-size="6.7" font-weight="normal" text-anchor="end" fill="#1a1a1a" stroke="#1a1a1a" stroke-width="0.22" letter-spacing="-0.3">50</text>
<rect x="445.9" y="25.9" width="8.0" height="126.1" fill="#9a9a9a" stroke="none" stroke-width="0" />
<rect x="446.6" y="26.599999999999998" width="6.4" height="124.69999999999999" fill="#e4e4e4" stroke="none" stroke-width="0" />
<rect x="446.6" y="43.1" width="6.4" height="1.1" fill="#c4c4c4" stroke="none" stroke-width="0" />
<rect x="446.6" y="58.1" width="6.4" height="1.1" fill="#c4c4c4" stroke="none" stroke-width="0" />
<rect x="446.6" y="73.6" width="6.4" height="1.1" fill="#c4c4c4" stroke="none" stroke-width="0" />
<rect x="446.6" y="93.6" width="6.4" height="1.1" fill="#c4c4c4" stroke="none" stroke-width="0" />
<rect x="446.6" y="115.6" width="6.4" height="1.1" fill="#c4c4c4" stroke="none" stroke-width="0" />
<rect x="446.6" y="134.1" width="6.4" height="1.1" fill="#c4c4c4" stroke="none" stroke-width="0" />
<text x="449.8" y="30.8" font-size="5.3" font-weight="bold" text-anchor="middle" fill="#222" stroke="#222" stroke-width="0.14" >M</text>
<rect x="453.2" y="25.9" width="68.80000000000001" height="126.1" fill="#262626" stroke="none" stroke-width="0" />
<rect x="454.0" y="26.7" width="67.20000000000002" height="15.8" fill="#d6d6d6" stroke="none" stroke-width="0" />
<rect x="454.0" y="44.5" width="67.20000000000002" height="13.0" fill="#d8d8d8" stroke="none" stroke-width="0" />
<rect x="454.0" y="59.5" width="67.20000000000002" height="14.0" fill="#d6d6d6" stroke="none" stroke-width="0" />
<rect x="454.0" y="75.0" width="67.20000000000002" height="18.0" fill="#bababa" stroke="none" stroke-width="0" />
<rect x="454.0" y="95.0" width="67.20000000000002" height="20.0" fill="#d3d3d3" stroke="none" stroke-width="0" />
<rect x="454.0" y="117.0" width="67.20000000000002" height="16.0" fill="#dedede" stroke="none" stroke-width="0" />
<rect x="454.0" y="135.5" width="67.20000000000002" height="15.699999999999989" fill="#ebebeb" stroke="none" stroke-width="0" />
<rect x="522.0" y="25.9" width="6.6" height="126.1" fill="#8e8e8e" stroke="none" stroke-width="0" />
<rect x="522.7" y="26.5" width="5.2" height="124.89999999999999" fill="#ececec" stroke="none" stroke-width="0" />
<text x="525.3" y="30.8" font-size="5.3" font-weight="bold" text-anchor="middle" fill="#222" stroke="#222" stroke-width="0.14" >M</text>
<rect x="529.6" y="25.9" width="4.4" height="126.1" fill="#9a9a9a" stroke="none" stroke-width="0" />
<rect x="530.2" y="26.5" width="3.2" height="124.89999999999999" fill="#e2e2e2" stroke="none" stroke-width="0" />
<rect x="533.8" y="25.9" width="56.700000000000045" height="126.1" fill="#262626" stroke="none" stroke-width="0" />
<rect x="534.5999999999999" y="26.7" width="55.100000000000044" height="15.8" fill="#cfcfcf" stroke="none" stroke-width="0" />
<rect x="534.5999999999999" y="44.5" width="55.100000000000044" height="13.0" fill="#d2d2d2" stroke="none" stroke-width="0" />
<rect x="534.5999999999999" y="59.5" width="55.100000000000044" height="14.0" fill="#cdcdcd" stroke="none" stroke-width="0" />
<rect x="534.5999999999999" y="75.0" width="55.100000000000044" height="18.0" fill="#a2a2a2" stroke="none" stroke-width="0" />
<rect x="534.5999999999999" y="95.0" width="55.100000000000044" height="20.0" fill="#c8c8c8" stroke="none" stroke-width="0" />
<rect x="534.5999999999999" y="117.0" width="55.100000000000044" height="16.0" fill="#d6d6d6" stroke="none" stroke-width="0" />
<rect x="534.5999999999999" y="135.5" width="55.100000000000044" height="15.699999999999989" fill="#dcdcdc" stroke="none" stroke-width="0" />
<rect x="590.5" y="25.9" width="7.2" height="126.1" fill="#8e8e8e" stroke="none" stroke-width="0" />
<rect x="591.2" y="26.5" width="5.8" height="124.89999999999999" fill="#eaeaea" stroke="none" stroke-width="0" />
<rect x="522.7" y="43.1" width="5.2" height="1.1" fill="#cacaca" stroke="none" stroke-width="0" />
<rect x="591.2" y="43.1" width="5.8" height="1.1" fill="#cacaca" stroke="none" stroke-width="0" />
<rect x="530.2" y="43.1" width="3.2" height="1.1" fill="#cacaca" stroke="none" stroke-width="0" />
<rect x="522.7" y="58.1" width="5.2" height="1.1" fill="#cacaca" stroke="none" stroke-width="0" />
<rect x="591.2" y="58.1" width="5.8" height="1.1" fill="#cacaca" stroke="none" stroke-width="0" />
<rect x="530.2" y="58.1" width="3.2" height="1.1" fill="#cacaca" stroke="none" stroke-width="0" />
<rect x="522.7" y="73.6" width="5.2" height="1.1" fill="#cacaca" stroke="none" stroke-width="0" />
<rect x="591.2" y="73.6" width="5.8" height="1.1" fill="#cacaca" stroke="none" stroke-width="0" />
<rect x="530.2" y="73.6" width="3.2" height="1.1" fill="#cacaca" stroke="none" stroke-width="0" />
<rect x="522.7" y="93.6" width="5.2" height="1.1" fill="#cacaca" stroke="none" stroke-width="0" />
<rect x="591.2" y="93.6" width="5.8" height="1.1" fill="#cacaca" stroke="none" stroke-width="0" />
<rect x="530.2" y="93.6" width="3.2" height="1.1" fill="#cacaca" stroke="none" stroke-width="0" />
<rect x="522.7" y="115.6" width="5.2" height="1.1" fill="#cacaca" stroke="none" stroke-width="0" />
<rect x="591.2" y="115.6" width="5.8" height="1.1" fill="#cacaca" stroke="none" stroke-width="0" />
<rect x="530.2" y="115.6" width="3.2" height="1.1" fill="#cacaca" stroke="none" stroke-width="0" />
<rect x="522.7" y="134.1" width="5.2" height="1.1" fill="#cacaca" stroke="none" stroke-width="0" />
<rect x="591.2" y="134.1" width="5.8" height="1.1" fill="#cacaca" stroke="none" stroke-width="0" />
<rect x="530.2" y="134.1" width="3.2" height="1.1" fill="#cacaca" stroke="none" stroke-width="0" />
<text x="594" y="30.8" font-size="5.3" font-weight="bold" text-anchor="middle" fill="#222" stroke="#222" stroke-width="0.14" >M</text>
<rect x="597.3" y="25.9" width="63.5" height="126.1" fill="#262626" stroke="none" stroke-width="0" />
<rect x="598.0999999999999" y="26.7" width="61.9" height="15.8" fill="#cacaca" stroke="none" stroke-width="0" />
<rect x="598.0999999999999" y="44.5" width="61.9" height="13.0" fill="#c8c8c8" stroke="none" stroke-width="0" />
<rect x="598.0999999999999" y="59.5" width="61.9" height="14.0" fill="#c8c8c8" stroke="none" stroke-width="0" />
<rect x="598.0999999999999" y="75.0" width="61.9" height="18.0" fill="#a9a9a9" stroke="none" stroke-width="0" />
<rect x="598.0999999999999" y="95.0" width="61.9" height="20.0" fill="#c6c6c6" stroke="none" stroke-width="0" />
<rect x="598.0999999999999" y="117.0" width="61.9" height="16.0" fill="#cecece" stroke="none" stroke-width="0" />
<rect x="598.0999999999999" y="135.5" width="61.9" height="15.699999999999989" fill="#e6e6e6" stroke="none" stroke-width="0" />
<rect x="599.9" y="27.0" width="7.2" height="15.200000000000001" fill="url(#gcol)" stroke="none" stroke-width="0" filter="url(#b1)"/>
<rect x="608.9" y="27.0" width="7.2" height="15.200000000000001" fill="url(#gcol)" stroke="none" stroke-width="0" filter="url(#b1)"/>
<rect x="617.9" y="27.0" width="7.2" height="15.200000000000001" fill="url(#gcol)" stroke="none" stroke-width="0" filter="url(#b1)"/>
<rect x="627.9" y="27.0" width="7.2" height="15.200000000000001" fill="url(#gcol)" stroke="none" stroke-width="0" filter="url(#b1)"/>
<rect x="637.4" y="27.0" width="7.2" height="15.200000000000001" fill="url(#gcol)" stroke="none" stroke-width="0" filter="url(#b1)"/>
<rect x="646.9" y="27.0" width="7.2" height="15.200000000000001" fill="url(#gcol)" stroke="none" stroke-width="0" filter="url(#b1)"/>
<rect x="607.4" y="27.2" width="2.0" height="14.8" fill="url(#glt)" stroke="none" stroke-width="0" filter="url(#b1)"/>
<rect x="616.4" y="27.2" width="2.0" height="14.8" fill="url(#glt)" stroke="none" stroke-width="0" filter="url(#b1)"/>
<rect x="625.4" y="27.2" width="2.0" height="14.8" fill="url(#glt)" stroke="none" stroke-width="0" filter="url(#b1)"/>
<rect x="635.4" y="27.2" width="2.0" height="14.8" fill="url(#glt)" stroke="none" stroke-width="0" filter="url(#b1)"/>
<rect x="644.9" y="27.2" width="2.0" height="14.8" fill="url(#glt)" stroke="none" stroke-width="0" filter="url(#b1)"/>
<rect x="654.4" y="27.2" width="2.0" height="14.8" fill="url(#glt)" stroke="none" stroke-width="0" filter="url(#b1)"/>
<rect x="599.9" y="59.8" width="7.2" height="13.4" fill="url(#gcol)" stroke="none" stroke-width="0" filter="url(#b1)"/>
<rect x="608.9" y="59.8" width="7.2" height="13.4" fill="url(#gcol)" stroke="none" stroke-width="0" filter="url(#b1)"/>
<rect x="617.9" y="59.8" width="7.2" height="13.4" fill="url(#gcol)" stroke="none" stroke-width="0" filter="url(#b1)"/>
<rect x="627.9" y="59.8" width="7.2" height="13.4" fill="url(#gcol)" stroke="none" stroke-width="0" filter="url(#b1)"/>
<rect x="637.4" y="59.8" width="7.2" height="13.4" fill="url(#gcol)" stroke="none" stroke-width="0" filter="url(#b1)"/>
<rect x="646.9" y="59.8" width="7.2" height="13.4" fill="url(#gcol)" stroke="none" stroke-width="0" filter="url(#b1)"/>
<rect x="607.4" y="60.0" width="2.0" height="13.0" fill="url(#glt)" stroke="none" stroke-width="0" filter="url(#b1)"/>
<rect x="616.4" y="60.0" width="2.0" height="13.0" fill="url(#glt)" stroke="none" stroke-width="0" filter="url(#b1)"/>
<rect x="625.4" y="60.0" width="2.0" height="13.0" fill="url(#glt)" stroke="none" stroke-width="0" filter="url(#b1)"/>
<rect x="635.4" y="60.0" width="2.0" height="13.0" fill="url(#glt)" stroke="none" stroke-width="0" filter="url(#b1)"/>
<rect x="644.9" y="60.0" width="2.0" height="13.0" fill="url(#glt)" stroke="none" stroke-width="0" filter="url(#b1)"/>
<rect x="654.4" y="60.0" width="2.0" height="13.0" fill="url(#glt)" stroke="none" stroke-width="0" filter="url(#b1)"/>
<rect x="599.9" y="95.3" width="7.2" height="19.4" fill="url(#gcol2)" stroke="none" stroke-width="0" filter="url(#b1)"/>
<rect x="608.9" y="95.3" width="7.2" height="19.4" fill="url(#gcol2)" stroke="none" stroke-width="0" filter="url(#b1)"/>
<rect x="617.9" y="95.3" width="7.2" height="19.4" fill="url(#gcol2)" stroke="none" stroke-width="0" filter="url(#b1)"/>
<rect x="627.9" y="95.3" width="7.2" height="19.4" fill="url(#gcol2)" stroke="none" stroke-width="0" filter="url(#b1)"/>
<rect x="637.4" y="95.3" width="7.2" height="19.4" fill="url(#gcol2)" stroke="none" stroke-width="0" filter="url(#b1)"/>
<rect x="646.9" y="95.3" width="7.2" height="19.4" fill="url(#gcol2)" stroke="none" stroke-width="0" filter="url(#b1)"/>
<rect x="607.4" y="95.5" width="2.0" height="19.0" fill="url(#glt)" stroke="none" stroke-width="0" filter="url(#b1)"/>
<rect x="616.4" y="95.5" width="2.0" height="19.0" fill="url(#glt)" stroke="none" stroke-width="0" filter="url(#b1)"/>
<rect x="625.4" y="95.5" width="2.0" height="19.0" fill="url(#glt)" stroke="none" stroke-width="0" filter="url(#b1)"/>
<rect x="635.4" y="95.5" width="2.0" height="19.0" fill="url(#glt)" stroke="none" stroke-width="0" filter="url(#b1)"/>
<rect x="644.9" y="95.5" width="2.0" height="19.0" fill="url(#glt)" stroke="none" stroke-width="0" filter="url(#b1)"/>
<rect x="654.4" y="95.5" width="2.0" height="19.0" fill="url(#glt)" stroke="none" stroke-width="0" filter="url(#b1)"/>
<rect x="599.9" y="117.3" width="7.2" height="15.4" fill="url(#gcol2)" stroke="none" stroke-width="0" filter="url(#b1)"/>
<rect x="608.9" y="117.3" width="7.2" height="15.4" fill="url(#gcol2)" stroke="none" stroke-width="0" filter="url(#b1)"/>
<rect x="617.9" y="117.3" width="7.2" height="15.4" fill="url(#gcol2)" stroke="none" stroke-width="0" filter="url(#b1)"/>
<rect x="627.9" y="117.3" width="7.2" height="15.4" fill="url(#gcol2)" stroke="none" stroke-width="0" filter="url(#b1)"/>
<rect x="637.4" y="117.3" width="7.2" height="15.4" fill="url(#gcol2)" stroke="none" stroke-width="0" filter="url(#b1)"/>
<rect x="646.9" y="117.3" width="7.2" height="15.4" fill="url(#gcol2)" stroke="none" stroke-width="0" filter="url(#b1)"/>
<rect x="607.4" y="117.5" width="2.0" height="15.0" fill="url(#glt)" stroke="none" stroke-width="0" filter="url(#b1)"/>
<rect x="616.4" y="117.5" width="2.0" height="15.0" fill="url(#glt)" stroke="none" stroke-width="0" filter="url(#b1)"/>
<rect x="625.4" y="117.5" width="2.0" height="15.0" fill="url(#glt)" stroke="none" stroke-width="0" filter="url(#b1)"/>
<rect x="635.4" y="117.5" width="2.0" height="15.0" fill="url(#glt)" stroke="none" stroke-width="0" filter="url(#b1)"/>
<rect x="644.9" y="117.5" width="2.0" height="15.0" fill="url(#glt)" stroke="none" stroke-width="0" filter="url(#b1)"/>
<rect x="654.4" y="117.5" width="2.0" height="15.0" fill="url(#glt)" stroke="none" stroke-width="0" filter="url(#b1)"/>
<rect x="598.5" y="75.5" width="30" height="17.0" fill="#a0a0a0" stroke="none" stroke-width="0" filter="url(#b2)" opacity="0.6"/>
<rect x="543.7" y="27.2" width="1.2" height="14.8" fill="#e2e2e2" stroke="none" stroke-width="0" filter="url(#b1)" opacity="0.55"/>
<rect x="553.2" y="27.2" width="1.2" height="14.8" fill="#e2e2e2" stroke="none" stroke-width="0" filter="url(#b1)" opacity="0.55"/>
<rect x="561.7" y="27.2" width="1.2" height="14.8" fill="#e2e2e2" stroke="none" stroke-width="0" filter="url(#b1)" opacity="0.55"/>
<rect x="570.7" y="27.2" width="1.2" height="14.8" fill="#e2e2e2" stroke="none" stroke-width="0" filter="url(#b1)" opacity="0.55"/>
<rect x="580.2" y="27.2" width="1.2" height="14.8" fill="#e2e2e2" stroke="none" stroke-width="0" filter="url(#b1)" opacity="0.55"/>
<rect x="589.7" y="27.2" width="1.2" height="14.8" fill="#e2e2e2" stroke="none" stroke-width="0" filter="url(#b1)" opacity="0.55"/>
<rect x="543.7" y="60.0" width="1.2" height="13.0" fill="#e2e2e2" stroke="none" stroke-width="0" filter="url(#b1)" opacity="0.55"/>
<rect x="553.2" y="60.0" width="1.2" height="13.0" fill="#e2e2e2" stroke="none" stroke-width="0" filter="url(#b1)" opacity="0.55"/>
<rect x="561.7" y="60.0" width="1.2" height="13.0" fill="#e2e2e2" stroke="none" stroke-width="0" filter="url(#b1)" opacity="0.55"/>
<rect x="570.7" y="60.0" width="1.2" height="13.0" fill="#e2e2e2" stroke="none" stroke-width="0" filter="url(#b1)" opacity="0.55"/>
<rect x="580.2" y="60.0" width="1.2" height="13.0" fill="#e2e2e2" stroke="none" stroke-width="0" filter="url(#b1)" opacity="0.55"/>
<rect x="589.7" y="60.0" width="1.2" height="13.0" fill="#e2e2e2" stroke="none" stroke-width="0" filter="url(#b1)" opacity="0.55"/>
<rect x="543.7" y="75.5" width="1.2" height="17.0" fill="#e2e2e2" stroke="none" stroke-width="0" filter="url(#b1)" opacity="0.55"/>
<rect x="553.2" y="75.5" width="1.2" height="17.0" fill="#e2e2e2" stroke="none" stroke-width="0" filter="url(#b1)" opacity="0.55"/>
<rect x="561.7" y="75.5" width="1.2" height="17.0" fill="#e2e2e2" stroke="none" stroke-width="0" filter="url(#b1)" opacity="0.55"/>
<rect x="570.7" y="75.5" width="1.2" height="17.0" fill="#e2e2e2" stroke="none" stroke-width="0" filter="url(#b1)" opacity="0.55"/>
<rect x="580.2" y="75.5" width="1.2" height="17.0" fill="#e2e2e2" stroke="none" stroke-width="0" filter="url(#b1)" opacity="0.55"/>
<rect x="589.7" y="75.5" width="1.2" height="17.0" fill="#e2e2e2" stroke="none" stroke-width="0" filter="url(#b1)" opacity="0.55"/>
<rect x="543.7" y="95.5" width="1.2" height="19.0" fill="#e2e2e2" stroke="none" stroke-width="0" filter="url(#b1)" opacity="0.55"/>
<rect x="553.2" y="95.5" width="1.2" height="19.0" fill="#e2e2e2" stroke="none" stroke-width="0" filter="url(#b1)" opacity="0.55"/>
<rect x="561.7" y="95.5" width="1.2" height="19.0" fill="#e2e2e2" stroke="none" stroke-width="0" filter="url(#b1)" opacity="0.55"/>
<rect x="570.7" y="95.5" width="1.2" height="19.0" fill="#e2e2e2" stroke="none" stroke-width="0" filter="url(#b1)" opacity="0.55"/>
<rect x="580.2" y="95.5" width="1.2" height="19.0" fill="#e2e2e2" stroke="none" stroke-width="0" filter="url(#b1)" opacity="0.55"/>
<rect x="589.7" y="95.5" width="1.2" height="19.0" fill="#e2e2e2" stroke="none" stroke-width="0" filter="url(#b1)" opacity="0.55"/>
<rect x="543.7" y="117.5" width="1.2" height="15.0" fill="#e2e2e2" stroke="none" stroke-width="0" filter="url(#b1)" opacity="0.55"/>
<rect x="553.2" y="117.5" width="1.2" height="15.0" fill="#e2e2e2" stroke="none" stroke-width="0" filter="url(#b1)" opacity="0.55"/>
<rect x="561.7" y="117.5" width="1.2" height="15.0" fill="#e2e2e2" stroke="none" stroke-width="0" filter="url(#b1)" opacity="0.55"/>
<rect x="570.7" y="117.5" width="1.2" height="15.0" fill="#e2e2e2" stroke="none" stroke-width="0" filter="url(#b1)" opacity="0.55"/>
<rect x="580.2" y="117.5" width="1.2" height="15.0" fill="#e2e2e2" stroke="none" stroke-width="0" filter="url(#b1)" opacity="0.55"/>
<rect x="589.7" y="117.5" width="1.2" height="15.0" fill="#e2e2e2" stroke="none" stroke-width="0" filter="url(#b1)" opacity="0.55"/>
<rect x="455.00" y="31.60" width="8.00" height="2.00" rx="1.00" fill="#555" opacity="1" filter="url(#b1)"/>
<rect x="465.50" y="31.30" width="8.00" height="2.60" rx="1.00" fill="#111" opacity="1" filter="url(#b1)"/>
<rect x="477.00" y="31.45" width="8.00" height="2.30" rx="1.00" fill="#333" opacity="1" filter="url(#b1)"/>
<rect x="487.50" y="31.70" width="8.00" height="1.80" rx="1.00" fill="#888" opacity="1" filter="url(#b1)"/>
<rect x="498.50" y="31.40" width="8.00" height="2.40" rx="1.00" fill="#222" opacity="1" filter="url(#b1)"/>
<rect x="509.00" y="31.40" width="8.00" height="2.40" rx="1.00" fill="#222" opacity="1" filter="url(#b1)"/>
<rect x="535.40" y="30.30" width="8.20" height="3.20" rx="1.40" fill="#000" opacity="1" filter="url(#b1)"/>
<rect x="536.00" y="34.00" width="7.00" height="6.00" rx="1.50" fill="#aaa" opacity="0.45" filter="url(#b2)"/>
<rect x="544.90" y="30.00" width="8.20" height="3.80" rx="1.40" fill="#000" opacity="1" filter="url(#b1)"/>
<rect x="545.50" y="34.00" width="7.00" height="6.00" rx="1.50" fill="#aaa" opacity="0.45" filter="url(#b2)"/>
<rect x="553.40" y="30.30" width="8.20" height="3.20" rx="1.40" fill="#000" opacity="1" filter="url(#b1)"/>
<rect x="554.00" y="34.00" width="7.00" height="6.00" rx="1.50" fill="#aaa" opacity="0.45" filter="url(#b2)"/>
<rect x="562.40" y="30.70" width="8.20" height="2.40" rx="1.40" fill="#222" opacity="1" filter="url(#b1)"/>
<rect x="563.00" y="34.00" width="7.00" height="6.00" rx="1.50" fill="#aaa" opacity="0.45" filter="url(#b2)"/>
<rect x="571.90" y="30.10" width="8.20" height="3.60" rx="1.40" fill="#000" opacity="1" filter="url(#b1)"/>
<rect x="572.50" y="34.00" width="7.00" height="6.00" rx="1.50" fill="#aaa" opacity="0.45" filter="url(#b2)"/>
<rect x="581.40" y="30.10" width="8.20" height="3.60" rx="1.40" fill="#000" opacity="1" filter="url(#b1)"/>
<rect x="582.00" y="34.00" width="7.00" height="6.00" rx="1.50" fill="#aaa" opacity="0.45" filter="url(#b2)"/>
<rect x="454.80" y="48.70" width="8.40" height="1.80" rx="1.00" fill="#222" opacity="1" filter="url(#b1)"/>
<rect x="465.30" y="48.10" width="8.40" height="3.00" rx="1.00" fill="#000" opacity="1" filter="url(#b1)"/>
<rect x="476.80" y="48.10" width="8.40" height="3.00" rx="1.00" fill="#000" opacity="1" filter="url(#b1)"/>
<rect x="487.30" y="48.60" width="8.40" height="2.00" rx="1.00" fill="#444" opacity="1" filter="url(#b1)"/>
<rect x="498.30" y="48.50" width="8.40" height="2.20" rx="1.00" fill="#333" opacity="1" filter="url(#b1)"/>
<rect x="508.80" y="48.30" width="8.40" height="2.60" rx="1.00" fill="#000" opacity="1" filter="url(#b1)"/>
<rect x="535.40" y="47.10" width="8.20" height="2.20" rx="1.00" fill="#222" opacity="1" filter="url(#b1)"/>
<rect x="536.00" y="52.75" width="7.00" height="1.30" rx="0.65" fill="#a0a0a0" opacity="0.6" filter="url(#b1)"/>
<rect x="544.90" y="47.10" width="8.20" height="2.20" rx="1.00" fill="#000" opacity="1" filter="url(#b1)"/>
<rect x="545.50" y="52.75" width="7.00" height="1.30" rx="0.65" fill="#a0a0a0" opacity="0.6" filter="url(#b1)"/>
<rect x="553.40" y="47.10" width="8.20" height="2.20" rx="1.00" fill="#000" opacity="1" filter="url(#b1)"/>
<rect x="554.00" y="52.75" width="7.00" height="1.30" rx="0.65" fill="#a0a0a0" opacity="0.6" filter="url(#b1)"/>
<rect x="562.40" y="47.10" width="8.20" height="2.20" rx="1.00" fill="#111" opacity="1" filter="url(#b1)"/>
<rect x="563.00" y="52.75" width="7.00" height="1.30" rx="0.65" fill="#a0a0a0" opacity="0.6" filter="url(#b1)"/>
<rect x="571.90" y="47.10" width="8.20" height="2.20" rx="1.00" fill="#000" opacity="1" filter="url(#b1)"/>
<rect x="572.50" y="52.75" width="7.00" height="1.30" rx="0.65" fill="#a0a0a0" opacity="0.6" filter="url(#b1)"/>
<rect x="581.40" y="47.10" width="8.20" height="2.20" rx="1.00" fill="#111" opacity="1" filter="url(#b1)"/>
<rect x="582.00" y="52.75" width="7.00" height="1.30" rx="0.65" fill="#a0a0a0" opacity="0.6" filter="url(#b1)"/>
<rect x="454.80" y="62.60" width="8.40" height="2.00" rx="1.00" fill="#444" opacity="1" filter="url(#b1)"/>
<rect x="465.30" y="62.35" width="8.40" height="2.50" rx="1.00" fill="#111" opacity="1" filter="url(#b1)"/>
<rect x="476.80" y="62.00" width="8.40" height="3.20" rx="1.00" fill="#000" opacity="1" filter="url(#b1)"/>
<rect x="487.30" y="62.50" width="8.40" height="2.20" rx="1.00" fill="#333" opacity="1" filter="url(#b1)"/>
<rect x="498.30" y="62.60" width="8.40" height="2.00" rx="1.00" fill="#444" opacity="1" filter="url(#b1)"/>
<rect x="508.80" y="62.60" width="8.40" height="2.00" rx="1.00" fill="#555" opacity="1" filter="url(#b1)"/>
<rect x="535.60" y="61.80" width="7.80" height="2.20" rx="1.00" fill="#b0b0b0" opacity="1" filter="url(#b1)"/>
<rect x="545.10" y="61.80" width="7.80" height="2.20" rx="1.00" fill="#888" opacity="1" filter="url(#b1)"/>
<rect x="553.60" y="61.80" width="7.80" height="2.20" rx="1.00" fill="#444" opacity="1" filter="url(#b1)"/>
<rect x="562.60" y="61.80" width="7.80" height="2.20" rx="1.00" fill="#666" opacity="1" filter="url(#b1)"/>
<rect x="572.10" y="61.80" width="7.80" height="2.20" rx="1.00" fill="#555" opacity="1" filter="url(#b1)"/>
<rect x="581.60" y="61.80" width="7.80" height="2.20" rx="1.00" fill="#777" opacity="1" filter="url(#b1)"/>
<rect x="563.00" y="67.10" width="7.00" height="1.60" rx="0.80" fill="#999" opacity="0.8" filter="url(#b1)"/>
<rect x="572.50" y="67.10" width="7.00" height="1.60" rx="0.80" fill="#777" opacity="0.8" filter="url(#b1)"/>
<rect x="582.00" y="67.10" width="7.00" height="1.60" rx="0.80" fill="#999" opacity="0.8" filter="url(#b1)"/>
<rect x="455.00" y="82.80" width="8.00" height="2.40" rx="1.20" fill="#222" opacity="1" filter="url(#b1)"/>
<rect x="455.75" y="79.20" width="6.50" height="1.60" rx="0.80" fill="#888" opacity="0.6" filter="url(#b1)"/>
<rect x="465.50" y="81.70" width="8.00" height="4.60" rx="1.20" fill="#000" opacity="1" filter="url(#b4)"/>
<rect x="466.25" y="79.20" width="6.50" height="1.60" rx="0.80" fill="#888" opacity="0.6" filter="url(#b1)"/>
<rect x="477.00" y="82.60" width="8.00" height="2.80" rx="1.20" fill="#000" opacity="1" filter="url(#b1)"/>
<rect x="477.75" y="79.20" width="6.50" height="1.60" rx="0.80" fill="#888" opacity="0.6" filter="url(#b1)"/>
<rect x="487.50" y="83.00" width="8.00" height="2.00" rx="1.20" fill="#777" opacity="1" filter="url(#b1)"/>
<rect x="488.25" y="79.20" width="6.50" height="1.60" rx="0.80" fill="#888" opacity="0.6" filter="url(#b1)"/>
<rect x="498.50" y="82.70" width="8.00" height="2.60" rx="1.20" fill="#222" opacity="1" filter="url(#b1)"/>
<rect x="499.25" y="79.20" width="6.50" height="1.60" rx="0.80" fill="#888" opacity="0.6" filter="url(#b1)"/>
<rect x="509.00" y="82.70" width="8.00" height="2.60" rx="1.20" fill="#111" opacity="1" filter="url(#b1)"/>
<rect x="509.75" y="79.20" width="6.50" height="1.60" rx="0.80" fill="#888" opacity="0.6" filter="url(#b1)"/>
<rect x="535.75" y="77.70" width="7.50" height="3.00" rx="1.50" fill="#444" opacity="0.8" filter="url(#b2)"/>
<rect x="535.75" y="83.40" width="7.50" height="3.20" rx="1.60" fill="#222" opacity="0.85" filter="url(#b2)"/>
<rect x="545.25" y="77.70" width="7.50" height="3.00" rx="1.50" fill="#444" opacity="0.8" filter="url(#b2)"/>
<rect x="545.25" y="83.40" width="7.50" height="3.20" rx="1.60" fill="#222" opacity="0.85" filter="url(#b2)"/>
<rect x="553.75" y="77.70" width="7.50" height="3.00" rx="1.50" fill="#444" opacity="0.8" filter="url(#b2)"/>
<rect x="553.75" y="83.40" width="7.50" height="3.20" rx="1.60" fill="#222" opacity="0.85" filter="url(#b2)"/>
<rect x="562.75" y="77.70" width="7.50" height="3.00" rx="1.50" fill="#444" opacity="0.8" filter="url(#b2)"/>
<rect x="562.75" y="83.40" width="7.50" height="3.20" rx="1.60" fill="#222" opacity="0.85" filter="url(#b2)"/>
<rect x="572.25" y="77.70" width="7.50" height="3.00" rx="1.50" fill="#444" opacity="0.8" filter="url(#b2)"/>
<rect x="572.25" y="83.40" width="7.50" height="3.20" rx="1.60" fill="#222" opacity="0.85" filter="url(#b2)"/>
<rect x="581.75" y="77.70" width="7.50" height="3.00" rx="1.50" fill="#444" opacity="0.8" filter="url(#b2)"/>
<rect x="581.75" y="83.40" width="7.50" height="3.20" rx="1.60" fill="#222" opacity="0.85" filter="url(#b2)"/>
<rect x="585.70" y="82.00" width="2.60" height="5.00" rx="1.30" fill="#000" opacity="1" filter="url(#b4)"/>
<rect x="573.90" y="81.50" width="2.20" height="4.00" rx="1.10" fill="#111" opacity="1" filter="url(#b1)"/>
<rect x="549.40" y="83.00" width="2.20" height="3.00" rx="1.10" fill="#111" opacity="1" filter="url(#b1)"/>
<rect x="455.00" y="106.80" width="8.00" height="2.00" rx="1.00" fill="#777" opacity="1" filter="url(#b1)"/>
<rect x="455.75" y="101.70" width="6.50" height="1.80" rx="0.90" fill="#999" opacity="0.7" filter="url(#b1)"/>
<rect x="465.50" y="106.30" width="8.00" height="3.00" rx="1.00" fill="#000" opacity="1" filter="url(#b1)"/>
<rect x="466.25" y="101.70" width="6.50" height="1.80" rx="0.90" fill="#999" opacity="0.7" filter="url(#b1)"/>
<rect x="477.00" y="106.40" width="8.00" height="2.80" rx="1.00" fill="#000" opacity="1" filter="url(#b1)"/>
<rect x="477.75" y="101.70" width="6.50" height="1.80" rx="0.90" fill="#999" opacity="0.7" filter="url(#b1)"/>
<rect x="487.50" y="106.80" width="8.00" height="2.00" rx="1.00" fill="#888" opacity="1" filter="url(#b1)"/>
<rect x="488.25" y="101.70" width="6.50" height="1.80" rx="0.90" fill="#999" opacity="0.7" filter="url(#b1)"/>
<rect x="498.50" y="106.50" width="8.00" height="2.60" rx="1.00" fill="#111" opacity="1" filter="url(#b1)"/>
<rect x="499.25" y="101.70" width="6.50" height="1.80" rx="0.90" fill="#999" opacity="0.7" filter="url(#b1)"/>
<rect x="509.00" y="106.70" width="8.00" height="2.20" rx="1.00" fill="#333" opacity="1" filter="url(#b1)"/>
<rect x="509.75" y="101.70" width="6.50" height="1.80" rx="0.90" fill="#999" opacity="0.7" filter="url(#b1)"/>
<rect x="535.75" y="107.00" width="7.50" height="2.00" rx="1.00" fill="#777" opacity="1" filter="url(#b1)"/>
<rect x="536.50" y="101.80" width="6.00" height="1.40" rx="0.70" fill="#999" opacity="0.6" filter="url(#b1)"/>
<rect x="545.25" y="106.60" width="7.50" height="2.80" rx="1.00" fill="#000" opacity="1" filter="url(#b1)"/>
<rect x="546.00" y="101.80" width="6.00" height="1.40" rx="0.70" fill="#999" opacity="0.6" filter="url(#b1)"/>
<rect x="553.75" y="106.50" width="7.50" height="3.00" rx="1.00" fill="#000" opacity="1" filter="url(#b1)"/>
<rect x="554.50" y="101.80" width="6.00" height="1.40" rx="0.70" fill="#999" opacity="0.6" filter="url(#b1)"/>
<rect x="562.75" y="106.80" width="7.50" height="2.40" rx="1.00" fill="#444" opacity="1" filter="url(#b1)"/>
<rect x="563.50" y="101.80" width="6.00" height="1.40" rx="0.70" fill="#999" opacity="0.6" filter="url(#b1)"/>
<rect x="572.25" y="106.90" width="7.50" height="2.20" rx="1.00" fill="#666" opacity="1" filter="url(#b1)"/>
<rect x="573.00" y="101.80" width="6.00" height="1.40" rx="0.70" fill="#999" opacity="0.6" filter="url(#b1)"/>
<rect x="581.75" y="106.70" width="7.50" height="2.60" rx="1.00" fill="#222" opacity="1" filter="url(#b1)"/>
<rect x="582.50" y="101.80" width="6.00" height="1.40" rx="0.70" fill="#999" opacity="0.6" filter="url(#b1)"/>
<rect x="600.00" y="110.50" width="7.00" height="2.00" rx="1.00" fill="#999" opacity="0.6" filter="url(#b1)"/>
<rect x="609.00" y="110.50" width="7.00" height="2.00" rx="1.00" fill="#999" opacity="0.6" filter="url(#b1)"/>
<rect x="618.00" y="110.50" width="7.00" height="2.00" rx="1.00" fill="#999" opacity="0.6" filter="url(#b1)"/>
<rect x="628.00" y="110.50" width="7.00" height="2.00" rx="1.00" fill="#999" opacity="0.6" filter="url(#b1)"/>
<rect x="454.75" y="118.20" width="8.50" height="5.60" rx="2.20" fill="#000" opacity="1" filter="url(#b4)"/>
<rect x="464.60" y="118.60" width="9.80" height="5.60" rx="2.20" fill="#000" opacity="1" filter="url(#b4)"/>
<rect x="476.00" y="118.60" width="10.00" height="5.60" rx="2.20" fill="#000" opacity="1" filter="url(#b4)"/>
<rect x="487.25" y="118.00" width="8.50" height="5.60" rx="2.20" fill="#000" opacity="1" filter="url(#b4)"/>
<rect x="498.25" y="118.00" width="8.50" height="5.60" rx="2.20" fill="#000" opacity="1" filter="url(#b4)"/>
<rect x="508.50" y="118.60" width="9.00" height="5.60" rx="2.20" fill="#000" opacity="1" filter="url(#b4)"/>
<rect x="545.25" y="120.50" width="7.50" height="3.00" rx="1.20" fill="#222" opacity="1" filter="url(#b1)"/>
<rect x="554.00" y="120.00" width="7.00" height="2.60" rx="1.20" fill="#444" opacity="1" filter="url(#b1)"/>
<rect x="536.00" y="121.00" width="7.00" height="2.00" rx="1.00" fill="#c0c0c0" opacity="0.6" filter="url(#b1)"/>
<rect x="563.00" y="121.00" width="7.00" height="2.00" rx="1.00" fill="#c0c0c0" opacity="0.6" filter="url(#b1)"/>
<rect x="572.50" y="121.00" width="7.00" height="2.00" rx="1.00" fill="#c0c0c0" opacity="0.6" filter="url(#b1)"/>
<rect x="582.00" y="121.00" width="7.00" height="2.00" rx="1.00" fill="#c0c0c0" opacity="0.6" filter="url(#b1)"/>
<rect x="535.50" y="142.40" width="8.00" height="3.20" rx="1.30" fill="#000" opacity="1" filter="url(#b1)"/>
<rect x="545.00" y="142.40" width="8.00" height="3.20" rx="1.30" fill="#000" opacity="1" filter="url(#b1)"/>
<rect x="553.50" y="142.40" width="8.00" height="3.20" rx="1.30" fill="#000" opacity="1" filter="url(#b1)"/>
<rect x="562.50" y="142.40" width="8.00" height="3.20" rx="1.30" fill="#000" opacity="1" filter="url(#b1)"/>
<rect x="572.00" y="142.40" width="8.00" height="3.20" rx="1.30" fill="#000" opacity="1" filter="url(#b1)"/>
<rect x="581.50" y="142.40" width="8.00" height="3.20" rx="1.30" fill="#000" opacity="1" filter="url(#b1)"/>
<rect x="599.25" y="139.50" width="8.50" height="3.40" rx="1.50" fill="#000" opacity="1" filter="url(#b1)"/>
<rect x="608.25" y="139.50" width="8.50" height="3.40" rx="1.50" fill="#000" opacity="1" filter="url(#b1)"/>
<rect x="617.25" y="139.50" width="8.50" height="3.40" rx="1.50" fill="#000" opacity="1" filter="url(#b1)"/>
<rect x="627.25" y="139.50" width="8.50" height="3.40" rx="1.50" fill="#000" opacity="1" filter="url(#b1)"/>
<rect x="636.75" y="139.50" width="8.50" height="3.40" rx="1.50" fill="#000" opacity="1" filter="url(#b1)"/>
<rect x="647.25" y="138.50" width="8.50" height="3.40" rx="1.50" fill="#000" opacity="1" filter="url(#b1)"/>
<text x="663" y="37.2" font-size="6.6" font-weight="bold" text-anchor="start" fill="#1a1a1a" stroke="#1a1a1a" stroke-width="0.14" >PBRM1</text>
<text x="663" y="54.2" font-size="6.6" font-weight="bold" text-anchor="start" fill="#1a1a1a" stroke="#1a1a1a" stroke-width="0.14" >ARID2</text>
<text x="663" y="68.6" font-size="6.6" font-weight="bold" text-anchor="start" fill="#1a1a1a" stroke="#1a1a1a" stroke-width="0.14" >BRG1</text>
<text x="663" y="86" font-size="6.6" font-weight="bold" text-anchor="start" fill="#1a1a1a" stroke="#1a1a1a" stroke-width="0.14" >BRD7</text>
<text x="663" y="108" font-size="6.6" font-weight="bold" text-anchor="start" fill="#1a1a1a" stroke="#1a1a1a" stroke-width="0.14" >PHF10</text>
<text x="663" y="127.5" font-size="6.6" font-weight="bold" text-anchor="start" fill="#1a1a1a" stroke="#1a1a1a" stroke-width="0.14" >BMAL1</text>
<text x="663" y="145.8" font-size="6.6" font-weight="normal" text-anchor="start" fill="#1a1a1a" stroke="#1a1a1a" stroke-width="0.1" >IgG HC</text>
<text x="435" y="160" font-size="5.3" font-weight="normal" text-anchor="start" fill="#1a1a1a" stroke="#1a1a1a" stroke-width="0.1" >Lane</text>
<text x="449" y="160" font-size="5.3" font-weight="normal" text-anchor="middle" fill="#c4c4c4" stroke="#c4c4c4" stroke-width="0.1" >1</text>
<text x="459" y="160" font-size="5.3" font-weight="normal" text-anchor="middle" fill="#222" stroke="#222" stroke-width="0.1" >2</text>
<text x="469.5" y="160" font-size="5.3" font-weight="normal" text-anchor="middle" fill="#222" stroke="#222" stroke-width="0.1" >3</text>
<text x="481" y="160" font-size="5.3" font-weight="normal" text-anchor="middle" fill="#222" stroke="#222" stroke-width="0.1" >4</text>
<text x="491.5" y="160" font-size="5.3" font-weight="normal" text-anchor="middle" fill="#222" stroke="#222" stroke-width="0.1" >5</text>
<text x="502.5" y="160" font-size="5.3" font-weight="normal" text-anchor="middle" fill="#222" stroke="#222" stroke-width="0.1" >6</text>
<text x="513" y="160" font-size="5.3" font-weight="normal" text-anchor="middle" fill="#222" stroke="#222" stroke-width="0.1" >7</text>
<text x="523.5" y="160" font-size="5.3" font-weight="normal" text-anchor="middle" fill="#c4c4c4" stroke="#c4c4c4" stroke-width="0.1" >8</text>
<text x="530.5" y="160" font-size="5.3" font-weight="normal" text-anchor="middle" fill="#c4c4c4" stroke="#c4c4c4" stroke-width="0.1" >9</text>
<text x="539.5" y="160" font-size="5.3" font-weight="normal" text-anchor="middle" fill="#222" stroke="#222" stroke-width="0.1" >10</text>
<text x="549" y="160" font-size="5.3" font-weight="normal" text-anchor="middle" fill="#222" stroke="#222" stroke-width="0.1" >11</text>
<text x="557.5" y="160" font-size="5.3" font-weight="normal" text-anchor="middle" fill="#222" stroke="#222" stroke-width="0.1" >12</text>
<text x="566.5" y="160" font-size="5.3" font-weight="normal" text-anchor="middle" fill="#222" stroke="#222" stroke-width="0.1" >13</text>
<text x="576" y="160" font-size="5.3" font-weight="normal" text-anchor="middle" fill="#222" stroke="#222" stroke-width="0.1" >14</text>
<text x="585.5" y="160" font-size="5.3" font-weight="normal" text-anchor="middle" fill="#222" stroke="#222" stroke-width="0.1" >15</text>
<text x="593.5" y="160" font-size="5.3" font-weight="normal" text-anchor="middle" fill="#c4c4c4" stroke="#c4c4c4" stroke-width="0.1" >16</text>
<text x="603.5" y="160" font-size="5.3" font-weight="normal" text-anchor="middle" fill="#222" stroke="#222" stroke-width="0.1" >17</text>
<text x="612.5" y="160" font-size="5.3" font-weight="normal" text-anchor="middle" fill="#222" stroke="#222" stroke-width="0.1" >18</text>
<text x="621.5" y="160" font-size="5.3" font-weight="normal" text-anchor="middle" fill="#222" stroke="#222" stroke-width="0.1" >19</text>
<text x="631.5" y="160" font-size="5.3" font-weight="normal" text-anchor="middle" fill="#222" stroke="#222" stroke-width="0.1" >20</text>
<text x="641" y="160" font-size="5.3" font-weight="normal" text-anchor="middle" fill="#222" stroke="#222" stroke-width="0.1" >21</text>
<text x="650.5" y="160" font-size="5.3" font-weight="normal" text-anchor="middle" fill="#222" stroke="#222" stroke-width="0.1" >22</text>
<text x="47.3" y="190" font-size="10" font-weight="bold" text-anchor="start" fill="#000" stroke="#000" stroke-width="0.14" >d</text>
<text x="74.6" y="220" font-size="7.0" font-weight="bold" text-anchor="start" fill="#111" stroke="#111" stroke-width="0.14" >Circadian</text>
<text x="74.6" y="229.2" font-size="7.0" font-weight="bold" text-anchor="start" fill="#111" stroke="#111" stroke-width="0.14" >H3.3A ChIP -seq</text>
<rect x="162.6" y="189.2" width="105.20000000000002" height="69.30000000000001" fill="none" stroke="#a0a0a0" stroke-width="0.8"/>
<line x1="162.6" y1="189.2" x2="162.6" y2="258.5" stroke="#888" stroke-width="0.9" />
<line x1="162.6" y1="258.5" x2="267.8" y2="258.5" stroke="#b0b0b0" stroke-width="0.9" />
<line x1="160.79999999999998" y1="198.54999999999998" x2="162.6" y2="198.54999999999998" stroke="#777" stroke-width="0.7" />
<text x="159.6" y="200.74999999999997" font-size="6.3" font-weight="normal" text-anchor="end" fill="#222" stroke="#222" stroke-width="0.08" >0.4</text>
<line x1="160.79999999999998" y1="215.9" x2="162.6" y2="215.9" stroke="#777" stroke-width="0.7" />
<text x="159.6" y="218.1" font-size="6.3" font-weight="normal" text-anchor="end" fill="#222" stroke="#222" stroke-width="0.08" >0.3</text>
<line x1="160.79999999999998" y1="233.25" x2="162.6" y2="233.25" stroke="#777" stroke-width="0.7" />
<text x="159.6" y="235.45" font-size="6.3" font-weight="normal" text-anchor="end" fill="#222" stroke="#222" stroke-width="0.08" >0.2</text>
<line x1="160.79999999999998" y1="250.6" x2="162.6" y2="250.6" stroke="#777" stroke-width="0.7" />
<text x="159.6" y="252.79999999999998" font-size="6.3" font-weight="normal" text-anchor="end" fill="#222" stroke="#222" stroke-width="0.08" >0.1</text>
<line x1="162.9" y1="258.5" x2="162.9" y2="260.0" stroke="#999" stroke-width="0.6" />
<text x="162.9" y="265.5" font-size="6.3" font-weight="normal" text-anchor="start" fill="#222" stroke="#222" stroke-width="0.08" >-1.0</text>
<line x1="215.5" y1="258.5" x2="215.5" y2="260.0" stroke="#999" stroke-width="0.6" />
<text x="215.5" y="265.5" font-size="6.3" font-weight="normal" text-anchor="middle" fill="#222" stroke="#222" stroke-width="0.08" >TSS</text>
<line x1="267.8" y1="258.5" x2="267.8" y2="260.0" stroke="#999" stroke-width="0.6" />
<text x="267.8" y="265.5" font-size="6.3" font-weight="normal" text-anchor="end" fill="#222" stroke="#222" stroke-width="0.08" >1.0Kb</text>
<text x="266.6" y="195.89999999999998" font-size="6.3" font-weight="normal" text-anchor="end" fill="#222" stroke="#222" stroke-width="0.08" >n=2,469</text>
<text x="215.6" y="184.5" font-size="6.3" font-weight="normal" text-anchor="middle" fill="#1a1a1a" stroke="#1a1a1a" stroke-width="0.08" >CLOCK-BMAL1 target genes</text>
<text x="146.4" y="225.5" font-size="6.6" text-anchor="middle" fill="#222" transform="rotate(-90 146.4 225.5)">Mean normalized score</text>
<path d="M163.00,228.20 C163.50,227.97 164.83,227.22 166.00,226.80 C167.17,226.38 168.67,226.03 170.00,225.70 C171.33,225.37 172.67,225.22 174.00,224.80 C175.33,224.38 176.83,223.32 178.00,223.20 C179.17,223.08 180.00,224.28 181.00,224.10 C182.00,223.92 182.92,222.83 184.00,222.10 C185.08,221.37 186.50,219.77 187.50,219.70 C188.50,219.63 189.08,221.60 190.00,221.70 C190.92,221.80 192.08,221.22 193.00,220.30 C193.92,219.38 194.67,216.58 195.50,216.20 C196.33,215.82 197.08,217.70 198.00,218.00 C198.92,218.30 199.92,219.25 201.00,218.00 C202.08,216.75 203.50,210.73 204.50,210.50 C205.50,210.27 206.17,213.98 207.00,216.60 C207.83,219.22 208.67,223.13 209.50,226.20 C210.33,229.27 211.08,233.08 212.00,235.00 C212.92,236.92 214.08,237.92 215.00,237.70 C215.92,237.48 216.67,237.55 217.50,233.70 C218.33,229.85 219.22,219.65 220.00,214.60 C220.78,209.55 221.53,204.32 222.20,203.40 C222.87,202.48 223.37,205.63 224.00,209.10 C224.63,212.57 225.33,220.22 226.00,224.20 C226.67,228.18 227.25,232.67 228.00,233.00 C228.75,233.33 229.67,228.82 230.50,226.20 C231.33,223.58 232.08,217.75 233.00,217.30 C233.92,216.85 235.17,222.02 236.00,223.50 C236.83,224.98 237.00,227.23 238.00,226.20 C239.00,225.17 240.67,217.87 242.00,217.30 C243.33,216.73 244.92,222.30 246.00,222.80 C247.08,223.30 247.67,221.08 248.50,220.28 C249.33,219.48 249.92,217.58 251.00,218.00 C252.08,218.42 253.67,222.35 255.00,222.80 C256.33,223.25 257.67,220.70 259.00,220.70 C260.33,220.70 261.62,222.57 263.00,222.80 C264.38,223.03 266.58,222.22 267.30,222.10" fill="none" stroke="#bcd4f4" stroke-width="0.72" stroke-linejoin="round" stroke-linecap="round" />
<path d="M163.00,222.80 C163.50,222.45 164.92,221.27 166.00,220.70 C167.08,220.13 168.42,219.47 169.50,219.40 C170.58,219.33 171.33,220.48 172.50,220.30 C173.67,220.12 175.42,218.92 176.50,218.30 C177.58,217.68 178.17,216.60 179.00,216.60 C179.83,216.60 180.50,218.63 181.50,218.30 C182.50,217.97 184.00,215.67 185.00,214.60 C186.00,213.53 186.67,211.78 187.50,211.90 C188.33,212.02 189.17,214.85 190.00,215.30 C190.83,215.75 191.67,215.73 192.50,214.60 C193.33,213.47 194.25,209.25 195.00,208.50 C195.75,207.75 196.17,209.42 197.00,210.10 C197.83,210.78 199.00,213.10 200.00,212.60 C201.00,212.10 202.17,208.65 203.00,207.10 C203.83,205.55 204.33,203.07 205.00,203.30 C205.67,203.53 206.25,205.37 207.00,208.50 C207.75,211.63 208.67,218.28 209.50,222.10 C210.33,225.92 211.08,229.47 212.00,231.40 C212.92,233.33 214.08,234.33 215.00,233.70 C215.92,233.07 216.67,232.22 217.50,227.60 C218.33,222.98 219.22,211.73 220.00,206.00 C220.78,200.27 221.53,194.15 222.20,193.20 C222.87,192.25 223.37,196.62 224.00,200.30 C224.63,203.98 225.33,211.88 226.00,215.30 C226.67,218.72 227.33,220.80 228.00,220.80 C228.67,220.80 229.17,217.17 230.00,215.30 C230.83,213.43 232.00,209.72 233.00,209.60 C234.00,209.48 235.17,213.30 236.00,214.60 C236.83,215.90 237.00,218.30 238.00,217.40 C239.00,216.50 240.67,209.55 242.00,209.20 C243.33,208.85 244.92,214.76 246.00,215.30 C247.08,215.84 247.67,213.32 248.50,212.46 C249.33,211.59 249.92,209.51 251.00,210.10 C252.08,210.69 253.67,215.47 255.00,216.00 C256.33,216.53 257.67,213.30 259.00,213.30 C260.33,213.30 261.62,215.55 263.00,216.00 C264.38,216.45 266.58,216.00 267.30,216.00" fill="none" stroke="#f7dc7a" stroke-width="0.72" stroke-linejoin="round" stroke-linecap="round" />
<path d="M163.00,223.82 C163.50,223.51 164.92,222.44 166.00,221.93 C167.08,221.42 168.83,220.92 169.50,220.73 C170.17,220.54 169.50,220.73 170.00,220.80 C170.50,220.86 171.83,221.20 172.50,221.15 C173.17,221.11 173.33,220.83 174.00,220.53 C174.67,220.22 175.83,219.69 176.50,219.35 C177.17,219.01 177.58,218.67 178.00,218.46 C178.42,218.24 178.50,217.95 179.00,218.07 C179.50,218.19 180.58,218.99 181.00,219.20 C181.42,219.41 181.00,219.71 181.50,219.34 C182.00,218.97 183.42,217.54 184.00,216.99 C184.58,216.44 184.42,216.60 185.00,216.04 C185.58,215.49 186.67,213.54 187.50,213.64 C188.33,213.74 189.17,216.26 190.00,216.62 C190.83,216.98 192.00,216.07 192.50,215.78 C193.00,215.49 192.58,215.74 193.00,214.86 C193.42,213.97 194.58,211.18 195.00,210.46 C195.42,209.73 195.17,210.29 195.50,210.49 C195.83,210.69 196.58,211.33 197.00,211.65 C197.42,211.98 197.50,212.13 198.00,212.45 C198.50,212.78 199.50,213.64 200.00,213.62 C200.50,213.60 200.50,213.19 201.00,212.34 C201.50,211.48 202.42,209.62 203.00,208.48 C203.58,207.35 204.17,206.07 204.50,205.53 C204.83,204.98 204.58,204.43 205.00,205.23 C205.42,206.03 206.25,207.41 207.00,210.33 C207.75,213.25 208.67,219.14 209.50,222.73 C210.33,226.32 211.08,229.95 212.00,231.88 C212.92,233.81 214.08,234.81 215.00,234.30 C215.92,233.79 216.67,233.22 217.50,228.83 C218.33,224.44 219.22,213.51 220.00,207.98 C220.78,202.45 221.53,196.60 222.20,195.66 C222.87,194.72 223.37,198.72 224.00,202.34 C224.63,205.96 225.33,213.78 226.00,217.37 C226.67,220.96 227.33,223.69 228.00,223.86 C228.67,224.03 229.58,219.47 230.00,218.38 C230.42,217.29 230.00,218.48 230.50,217.31 C231.00,216.13 232.08,211.42 233.00,211.31 C233.92,211.20 235.17,215.31 236.00,216.67 C236.83,218.02 237.00,220.38 238.00,219.44 C239.00,218.50 240.67,211.45 242.00,211.03 C243.33,210.62 244.92,216.37 246.00,216.95 C247.08,217.53 247.67,215.36 248.50,214.52 C249.33,213.67 249.92,211.38 251.00,211.87 C252.08,212.36 253.67,216.93 255.00,217.44 C256.33,217.95 257.67,214.92 259.00,214.92 C260.33,214.92 261.62,217.05 263.00,217.44 C264.38,217.82 266.58,217.26 267.30,217.23" fill="none" stroke="#f6b757" stroke-width="0.72" stroke-linejoin="round" stroke-linecap="round" />
<path d="M163.00,225.30 C163.50,225.07 164.83,224.32 166.00,223.90 C167.17,223.48 168.67,223.13 170.00,222.80 C171.33,222.47 172.67,222.32 174.00,221.90 C175.33,221.48 176.83,220.42 178.00,220.30 C179.17,220.18 180.00,221.38 181.00,221.20 C182.00,221.02 182.92,219.93 184.00,219.20 C185.08,218.47 186.50,216.87 187.50,216.80 C188.50,216.73 189.08,218.70 190.00,218.80 C190.92,218.90 192.08,218.32 193.00,217.40 C193.92,216.48 194.67,213.68 195.50,213.30 C196.33,212.92 197.08,214.80 198.00,215.10 C198.92,215.40 199.92,216.35 201.00,215.10 C202.08,213.85 203.50,207.83 204.50,207.60 C205.50,207.37 206.17,211.08 207.00,213.70 C207.83,216.32 208.67,220.23 209.50,223.30 C210.33,226.37 211.08,230.18 212.00,232.10 C212.92,234.02 214.08,235.02 215.00,234.80 C215.92,234.58 216.67,234.65 217.50,230.80 C218.33,226.95 219.22,216.75 220.00,211.70 C220.78,206.65 221.53,201.42 222.20,200.50 C222.87,199.58 223.37,202.73 224.00,206.20 C224.63,209.67 225.33,217.32 226.00,221.30 C226.67,225.28 227.25,229.77 228.00,230.10 C228.75,230.43 229.67,225.92 230.50,223.30 C231.33,220.68 232.08,214.85 233.00,214.40 C233.92,213.95 235.17,219.12 236.00,220.60 C236.83,222.08 237.00,224.33 238.00,223.30 C239.00,222.27 240.67,214.97 242.00,214.40 C243.33,213.83 244.92,219.43 246.00,219.90 C247.08,220.37 247.67,218.00 248.50,217.20 C249.33,216.40 249.92,214.65 251.00,215.10 C252.08,215.55 253.67,219.45 255.00,219.90 C256.33,220.35 257.67,217.80 259.00,217.80 C260.33,217.80 261.62,219.67 263.00,219.90 C264.38,220.13 266.58,219.32 267.30,219.20" fill="none" stroke="#ee7d4c" stroke-width="0.72" stroke-linejoin="round" stroke-linecap="round" />
<path d="M163.00,227.20 C163.50,226.97 164.83,226.22 166.00,225.80 C167.17,225.38 168.67,225.03 170.00,224.70 C171.33,224.37 172.67,224.22 174.00,223.80 C175.33,223.38 176.83,222.32 178.00,222.20 C179.17,222.08 180.00,223.28 181.00,223.10 C182.00,222.92 182.92,221.83 184.00,221.10 C185.08,220.37 186.50,218.77 187.50,218.70 C188.50,218.63 189.08,220.60 190.00,220.70 C190.92,220.80 192.08,220.22 193.00,219.30 C193.92,218.38 194.67,215.58 195.50,215.20 C196.33,214.82 197.08,216.70 198.00,217.00 C198.92,217.30 199.92,218.25 201.00,217.00 C202.08,215.75 203.50,209.73 204.50,209.50 C205.50,209.27 206.17,212.98 207.00,215.60 C207.83,218.22 208.67,222.13 209.50,225.20 C210.33,228.27 211.08,232.08 212.00,234.00 C212.92,235.92 214.08,236.92 215.00,236.70 C215.92,236.48 216.67,236.55 217.50,232.70 C218.33,228.85 219.22,218.65 220.00,213.60 C220.78,208.55 221.53,203.32 222.20,202.40 C222.87,201.48 223.37,204.63 224.00,208.10 C224.63,211.57 225.33,219.22 226.00,223.20 C226.67,227.18 227.25,231.67 228.00,232.00 C228.75,232.33 229.67,227.82 230.50,225.20 C231.33,222.58 232.08,216.75 233.00,216.30 C233.92,215.85 235.17,221.02 236.00,222.50 C236.83,223.98 237.00,226.23 238.00,225.20 C239.00,224.17 240.67,216.87 242.00,216.30 C243.33,215.73 244.92,221.28 246.00,221.80 C247.08,222.32 247.67,220.23 248.50,219.43 C249.33,218.63 249.92,216.60 251.00,217.00 C252.08,217.40 253.67,221.35 255.00,221.80 C256.33,222.25 257.67,219.70 259.00,219.70 C260.33,219.70 261.62,221.57 263.00,221.80 C264.38,222.03 266.58,221.22 267.30,221.10" fill="none" stroke="#5b86e6" stroke-width="0.72" stroke-linejoin="round" stroke-linecap="round" />
<path d="M163.00,226.20 C163.50,225.97 164.83,225.22 166.00,224.80 C167.17,224.38 168.67,224.03 170.00,223.70 C171.33,223.37 172.67,223.22 174.00,222.80 C175.33,222.38 176.83,221.32 178.00,221.20 C179.17,221.08 180.00,222.28 181.00,222.10 C182.00,221.92 182.92,220.83 184.00,220.10 C185.08,219.37 186.50,217.77 187.50,217.70 C188.50,217.63 189.08,219.60 190.00,219.70 C190.92,219.80 192.08,219.22 193.00,218.30 C193.92,217.38 194.67,214.58 195.50,214.20 C196.33,213.82 197.08,215.70 198.00,216.00 C198.92,216.30 199.92,217.25 201.00,216.00 C202.08,214.75 203.50,208.73 204.50,208.50 C205.50,208.27 206.17,211.98 207.00,214.60 C207.83,217.22 208.67,221.13 209.50,224.20 C210.33,227.27 211.08,231.08 212.00,233.00 C212.92,234.92 214.08,235.92 215.00,235.70 C215.92,235.48 216.67,235.55 217.50,231.70 C218.33,227.85 219.22,217.65 220.00,212.60 C220.78,207.55 221.53,202.32 222.20,201.40 C222.87,200.48 223.37,203.63 224.00,207.10 C224.63,210.57 225.33,218.22 226.00,222.20 C226.67,226.18 227.25,230.67 228.00,231.00 C228.75,231.33 229.67,226.82 230.50,224.20 C231.33,221.58 232.08,215.75 233.00,215.30 C233.92,214.85 235.17,220.02 236.00,221.50 C236.83,222.98 237.00,225.23 238.00,224.20 C239.00,223.17 240.67,215.87 242.00,215.30 C243.33,214.73 244.92,220.30 246.00,220.80 C247.08,221.30 247.67,219.11 248.50,218.31 C249.33,217.51 249.92,215.58 251.00,216.00 C252.08,216.42 253.67,220.35 255.00,220.80 C256.33,221.25 257.67,218.70 259.00,218.70 C260.33,218.70 261.62,220.57 263.00,220.80 C264.38,221.03 266.58,220.22 267.30,220.10" fill="none" stroke="#3c4478" stroke-width="0.72" stroke-linejoin="round" stroke-linecap="round" />
<path d="M163.00,246.00 C163.42,246.08 164.67,246.45 165.50,246.50 C166.33,246.55 167.25,246.48 168.00,246.30 C168.75,246.12 169.17,245.33 170.00,245.40 C170.83,245.47 171.83,246.27 173.00,246.70 C174.17,247.13 175.83,248.00 177.00,248.00 C178.17,248.00 178.83,246.63 180.00,246.70 C181.17,246.77 182.67,248.07 184.00,248.40 C185.33,248.73 186.67,248.55 188.00,248.70 C189.33,248.85 190.67,249.42 192.00,249.30 C193.33,249.18 194.83,248.00 196.00,248.00 C197.17,248.00 197.83,249.63 199.00,249.30 C200.17,248.97 202.00,246.55 203.00,246.00 C204.00,245.45 204.00,245.23 205.00,246.00 C206.00,246.77 207.67,249.60 209.00,250.60 C210.33,251.60 211.96,252.09 213.00,252.00 C214.04,251.91 214.50,250.63 215.25,250.08 C216.00,249.53 216.71,247.98 217.50,248.70 C218.29,249.42 219.19,253.65 220.00,254.40 C220.81,255.15 221.57,253.60 222.35,253.20 C223.13,252.80 223.76,252.43 224.70,252.00 C225.64,251.57 226.78,250.60 228.00,250.60 C229.22,250.60 230.92,251.93 232.00,252.00 C233.08,252.07 233.67,251.26 234.50,251.02 C235.33,250.79 235.92,250.44 237.00,250.60 C238.08,250.76 239.92,252.00 241.00,252.00 C242.08,252.00 242.67,251.06 243.50,250.61 C244.33,250.16 244.92,249.52 246.00,249.30 C247.08,249.08 248.67,249.52 250.00,249.30 C251.33,249.08 252.92,248.37 254.00,248.00 C255.08,247.63 255.67,247.31 256.50,247.09 C257.33,246.88 258.08,246.55 259.00,246.70 C259.92,246.85 261.08,247.88 262.00,248.00 C262.92,248.12 263.67,247.52 264.50,247.40 C265.33,247.29 266.58,247.32 267.00,247.30" fill="none" stroke="#7d88ae" stroke-width="0.6" stroke-linejoin="round" stroke-linecap="round" />
<text x="266.3" y="229" font-size="6.4" font-weight="normal" text-anchor="end" fill="#222" stroke="#222" stroke-width="0.08" >ChIP</text>
<text x="266.3" y="256.8" font-size="6.4" font-weight="normal" text-anchor="end" fill="#222" stroke="#222" stroke-width="0.08" >input</text>
<rect x="287.2" y="189.2" width="104.80000000000001" height="69.30000000000001" fill="none" stroke="#a0a0a0" stroke-width="0.8"/>
<line x1="287.2" y1="189.2" x2="287.2" y2="258.5" stroke="#888" stroke-width="0.9" />
<line x1="287.2" y1="258.5" x2="392" y2="258.5" stroke="#b0b0b0" stroke-width="0.9" />
<line x1="285.4" y1="197.3" x2="287.2" y2="197.3" stroke="#777" stroke-width="0.7" />
<text x="284.2" y="199.5" font-size="6.3" font-weight="normal" text-anchor="end" fill="#222" stroke="#222" stroke-width="0.08" >0.4</text>
<line x1="285.4" y1="215.4" x2="287.2" y2="215.4" stroke="#777" stroke-width="0.7" />
<text x="284.2" y="217.6" font-size="6.3" font-weight="normal" text-anchor="end" fill="#222" stroke="#222" stroke-width="0.08" >0.3</text>
<line x1="285.4" y1="233" x2="287.2" y2="233" stroke="#777" stroke-width="0.7" />
<text x="284.2" y="235.2" font-size="6.3" font-weight="normal" text-anchor="end" fill="#222" stroke="#222" stroke-width="0.08" >0.2</text>
<line x1="285.4" y1="250.5" x2="287.2" y2="250.5" stroke="#777" stroke-width="0.7" />
<text x="284.2" y="252.7" font-size="6.3" font-weight="normal" text-anchor="end" fill="#222" stroke="#222" stroke-width="0.08" >0.1</text>
<line x1="285.7" y1="258.5" x2="285.7" y2="260.0" stroke="#999" stroke-width="0.6" />
<text x="285.7" y="265.5" font-size="6.3" font-weight="normal" text-anchor="start" fill="#222" stroke="#222" stroke-width="0.08" >-1.0</text>
<line x1="339" y1="258.5" x2="339" y2="260.0" stroke="#999" stroke-width="0.6" />
<text x="339" y="265.5" font-size="6.3" font-weight="normal" text-anchor="middle" fill="#222" stroke="#222" stroke-width="0.08" >center</text>
<line x1="392" y1="258.5" x2="392" y2="260.0" stroke="#999" stroke-width="0.6" />
<text x="392" y="265.5" font-size="6.3" font-weight="normal" text-anchor="end" fill="#222" stroke="#222" stroke-width="0.08" >1.0Kb</text>
<text x="390.8" y="195.89999999999998" font-size="6.3" font-weight="normal" text-anchor="end" fill="#222" stroke="#222" stroke-width="0.08" >n=3,217</text>
<text x="339" y="184.5" font-size="6.3" font-weight="normal" text-anchor="middle" fill="#1a1a1a" stroke="#1a1a1a" stroke-width="0.08" >CLOCK-BMAL1 sites</text>
<path d="M287.50,228.00 C287.88,227.95 289.00,227.77 289.75,227.68 C290.50,227.60 291.12,227.56 292.00,227.50 C292.88,227.44 294.00,227.46 295.00,227.29 C296.00,227.13 297.00,226.86 298.00,226.50 C299.00,226.14 300.00,225.46 301.00,225.11 C302.00,224.76 303.00,224.71 304.00,224.40 C305.00,224.09 306.00,223.55 307.00,223.25 C308.00,222.95 309.00,222.81 310.00,222.60 C311.00,222.39 312.00,222.25 313.00,222.01 C314.00,221.78 315.00,221.44 316.00,221.20 C317.00,220.96 318.00,220.90 319.00,220.55 C320.00,220.20 320.83,219.69 322.00,219.10 C323.17,218.51 324.83,218.40 326.00,217.00 C327.17,215.60 328.08,211.32 329.00,210.70 C329.92,210.08 330.67,211.82 331.50,213.30 C332.33,214.78 333.08,217.15 334.00,219.60 C334.92,222.05 336.00,226.77 337.00,228.00 C338.00,229.23 339.00,227.52 340.00,227.00 C341.00,226.48 342.00,227.18 343.00,224.90 C344.00,222.62 345.08,215.67 346.00,213.30 C346.92,210.93 347.67,210.70 348.50,210.70 C349.33,210.70 350.08,212.07 351.00,213.30 C351.92,214.53 353.00,216.95 354.00,218.10 C355.00,219.25 355.83,219.68 357.00,220.20 C358.17,220.72 359.83,221.20 361.00,221.20 C362.17,221.20 362.83,220.12 364.00,220.20 C365.17,220.28 366.67,221.35 368.00,221.70 C369.33,222.05 370.67,222.12 372.00,222.30 C373.33,222.48 374.67,222.55 376.00,222.80 C377.33,223.05 378.83,223.18 380.00,223.80 C381.17,224.42 382.08,225.96 383.00,226.50 C383.92,227.04 384.67,226.90 385.50,227.07 C386.33,227.24 387.00,227.34 388.00,227.50 C389.00,227.66 390.92,227.92 391.50,228.00" fill="none" stroke="#bcd4f4" stroke-width="0.72" stroke-linejoin="round" stroke-linecap="round" />
<path d="M287.50,221.20 C287.92,221.18 289.17,221.11 290.00,221.11 C290.83,221.11 291.42,221.50 292.50,221.20 C293.58,220.90 295.42,219.38 296.50,219.30 C297.58,219.22 298.08,220.77 299.00,220.70 C299.92,220.63 301.12,219.33 302.00,218.90 C302.88,218.47 303.50,218.53 304.25,218.13 C305.00,217.73 305.71,216.59 306.50,216.50 C307.29,216.41 308.21,217.71 309.00,217.60 C309.79,217.49 310.50,216.29 311.25,215.84 C312.00,215.39 312.54,214.96 313.50,214.90 C314.46,214.84 316.00,215.65 317.00,215.50 C318.00,215.35 318.67,214.59 319.50,213.97 C320.33,213.36 321.00,212.20 322.00,211.80 C323.00,211.40 324.42,212.73 325.50,211.60 C326.58,210.47 327.58,205.60 328.50,205.00 C329.42,204.40 330.08,206.43 331.00,208.00 C331.92,209.57 333.08,211.85 334.00,214.40 C334.92,216.95 335.50,222.07 336.50,223.30 C337.50,224.53 338.92,222.52 340.00,221.80 C341.08,221.08 342.00,221.55 343.00,219.00 C344.00,216.45 345.08,209.10 346.00,206.50 C346.92,203.90 347.67,203.48 348.50,203.40 C349.33,203.32 350.08,204.60 351.00,206.00 C351.92,207.40 353.00,210.48 354.00,211.80 C355.00,213.12 356.00,213.55 357.00,213.90 C358.00,214.25 359.00,213.47 360.00,213.90 C361.00,214.33 362.00,216.33 363.00,216.50 C364.00,216.67 364.83,214.90 366.00,214.90 C367.17,214.90 368.67,216.15 370.00,216.50 C371.33,216.85 372.83,217.00 374.00,217.00 C375.17,217.00 375.83,216.15 377.00,216.50 C378.17,216.85 379.67,218.57 381.00,219.10 C382.33,219.63 383.67,219.08 385.00,219.70 C386.33,220.32 387.92,222.23 389.00,222.80 C390.08,223.37 391.08,223.05 391.50,223.10" fill="none" stroke="#f7dc7a" stroke-width="0.72" stroke-linejoin="round" stroke-linecap="round" />
<path d="M287.50,223.51 C287.88,223.46 289.00,223.23 289.75,223.18 C290.50,223.14 291.54,223.23 292.00,223.24 C292.46,223.24 291.75,223.40 292.50,223.19 C293.25,222.98 295.58,222.13 296.50,221.97 C297.42,221.80 297.58,222.16 298.00,222.21 C298.42,222.26 298.33,222.49 299.00,222.27 C299.67,222.05 301.17,221.26 302.00,220.88 C302.83,220.50 303.25,220.33 304.00,220.02 C304.75,219.70 305.67,219.16 306.50,219.00 C307.33,218.85 308.42,219.14 309.00,219.08 C309.58,219.03 309.25,218.95 310.00,218.65 C310.75,218.35 312.50,217.51 313.50,217.26 C314.50,217.00 315.42,217.17 316.00,217.13 C316.58,217.09 316.42,217.30 317.00,217.01 C317.58,216.72 318.67,215.82 319.50,215.38 C320.33,214.94 321.00,214.73 322.00,214.39 C323.00,214.04 324.83,213.57 325.50,213.28 C326.17,212.99 325.50,213.65 326.00,212.65 C326.50,211.64 328.00,208.23 328.50,207.28 C329.00,206.34 328.58,206.66 329.00,206.98 C329.42,207.29 330.58,208.70 331.00,209.20 C331.42,209.70 331.00,208.86 331.50,209.96 C332.00,211.07 333.17,213.54 334.00,215.83 C334.83,218.12 336.00,222.26 336.50,223.68 C337.00,225.11 336.42,224.43 337.00,224.36 C337.58,224.28 339.00,223.82 340.00,223.23 C341.00,222.64 342.00,223.22 343.00,220.82 C344.00,218.41 345.08,211.28 346.00,208.81 C346.92,206.34 347.67,206.02 348.50,205.99 C349.33,205.95 350.08,207.28 351.00,208.58 C351.92,209.89 353.00,212.61 354.00,213.83 C355.00,215.06 356.00,215.52 357.00,215.93 C358.00,216.35 359.33,216.19 360.00,216.35 C360.67,216.50 360.50,216.72 361.00,216.87 C361.50,217.03 362.50,217.29 363.00,217.29 C363.50,217.29 363.50,216.95 364.00,216.87 C364.50,216.78 365.33,216.68 366.00,216.80 C366.67,216.92 367.33,217.35 368.00,217.57 C368.67,217.79 369.33,217.96 370.00,218.09 C370.67,218.23 371.33,218.28 372.00,218.37 C372.67,218.46 373.33,218.58 374.00,218.62 C374.67,218.66 375.50,218.60 376.00,218.61 C376.50,218.62 376.33,218.45 377.00,218.67 C377.67,218.90 379.33,219.62 380.00,219.96 C380.67,220.31 380.50,220.43 381.00,220.75 C381.50,221.07 382.33,221.63 383.00,221.87 C383.67,222.12 384.17,221.94 385.00,222.23 C385.83,222.52 387.33,223.31 388.00,223.61 C388.67,223.91 388.42,223.91 389.00,224.03 C389.58,224.16 391.08,224.31 391.50,224.36" fill="none" stroke="#f6b757" stroke-width="0.72" stroke-linejoin="round" stroke-linecap="round" />
<path d="M287.50,226.40 C287.88,226.30 289.00,225.89 289.75,225.81 C290.50,225.72 291.12,226.00 292.00,225.90 C292.88,225.80 294.00,225.39 295.00,225.23 C296.00,225.06 297.00,225.08 298.00,224.90 C299.00,224.72 300.00,224.48 301.00,224.13 C302.00,223.78 303.00,223.22 304.00,222.80 C305.00,222.38 306.00,221.91 307.00,221.61 C308.00,221.31 309.00,221.21 310.00,221.00 C311.00,220.79 312.00,220.61 313.00,220.37 C314.00,220.14 315.00,219.88 316.00,219.60 C317.00,219.32 318.00,219.03 319.00,218.68 C320.00,218.33 320.83,218.05 322.00,217.50 C323.17,216.95 324.83,216.80 326.00,215.40 C327.17,214.00 328.08,209.72 329.00,209.10 C329.92,208.48 330.67,210.22 331.50,211.70 C332.33,213.18 333.08,215.18 334.00,218.00 C334.92,220.82 336.00,227.00 337.00,228.60 C338.00,230.20 339.00,228.48 340.00,227.60 C341.00,226.72 342.00,225.95 343.00,223.30 C344.00,220.65 345.08,214.07 346.00,211.70 C346.92,209.33 347.67,209.10 348.50,209.10 C349.33,209.10 350.08,210.47 351.00,211.70 C351.92,212.93 353.00,215.35 354.00,216.50 C355.00,217.65 355.83,218.08 357.00,218.60 C358.17,219.12 359.83,219.60 361.00,219.60 C362.17,219.60 362.83,218.52 364.00,218.60 C365.17,218.68 366.67,219.75 368.00,220.10 C369.33,220.45 370.67,220.52 372.00,220.70 C373.33,220.88 374.67,220.95 376.00,221.20 C377.33,221.45 378.83,221.58 380.00,222.20 C381.17,222.82 382.08,224.39 383.00,224.90 C383.92,225.41 384.67,225.12 385.50,225.29 C386.33,225.45 387.00,225.71 388.00,225.90 C389.00,226.09 390.92,226.32 391.50,226.40" fill="none" stroke="#ee7d4c" stroke-width="0.72" stroke-linejoin="round" stroke-linecap="round" />
<path d="M287.50,226.70 C287.88,226.67 289.00,226.58 289.75,226.49 C290.50,226.41 291.12,226.40 292.00,226.20 C292.88,226.00 294.00,225.47 295.00,225.31 C296.00,225.14 297.00,225.46 298.00,225.20 C299.00,224.94 300.00,224.10 301.00,223.75 C302.00,223.40 303.00,223.40 304.00,223.10 C305.00,222.80 306.00,222.24 307.00,221.94 C308.00,221.64 309.00,221.50 310.00,221.30 C311.00,221.10 312.00,221.00 313.00,220.76 C314.00,220.53 315.00,220.23 316.00,219.90 C317.00,219.57 318.00,219.13 319.00,218.78 C320.00,218.43 320.83,218.31 322.00,217.80 C323.17,217.29 324.83,217.10 326.00,215.70 C327.17,214.30 328.08,210.02 329.00,209.40 C329.92,208.78 330.67,210.52 331.50,212.00 C332.33,213.48 333.08,215.85 334.00,218.30 C334.92,220.75 336.00,225.47 337.00,226.70 C338.00,227.93 339.00,226.22 340.00,225.70 C341.00,225.18 342.00,225.88 343.00,223.60 C344.00,221.32 345.08,214.37 346.00,212.00 C346.92,209.63 347.67,209.40 348.50,209.40 C349.33,209.40 350.08,210.77 351.00,212.00 C351.92,213.23 353.00,215.65 354.00,216.80 C355.00,217.95 355.83,218.38 357.00,218.90 C358.17,219.42 359.83,219.90 361.00,219.90 C362.17,219.90 362.83,218.82 364.00,218.90 C365.17,218.98 366.67,220.05 368.00,220.40 C369.33,220.75 370.67,220.82 372.00,221.00 C373.33,221.18 374.67,221.25 376.00,221.50 C377.33,221.75 378.83,221.88 380.00,222.50 C381.17,223.12 382.08,224.69 383.00,225.20 C383.92,225.71 384.67,225.37 385.50,225.53 C386.33,225.70 387.00,226.01 388.00,226.20 C389.00,226.39 390.92,226.62 391.50,226.70" fill="none" stroke="#5b86e6" stroke-width="0.72" stroke-linejoin="round" stroke-linecap="round" />
<path d="M287.50,225.40 C287.88,225.37 289.00,225.31 289.75,225.23 C290.50,225.14 291.12,225.04 292.00,224.90 C292.88,224.76 294.00,224.52 295.00,224.36 C296.00,224.19 297.00,224.18 298.00,223.90 C299.00,223.62 300.00,223.02 301.00,222.67 C302.00,222.32 303.00,222.05 304.00,221.80 C305.00,221.55 306.00,221.46 307.00,221.16 C308.00,220.86 309.00,220.28 310.00,220.00 C311.00,219.72 312.00,219.71 313.00,219.48 C314.00,219.25 315.00,218.96 316.00,218.60 C317.00,218.24 318.00,217.67 319.00,217.32 C320.00,216.97 320.83,216.99 322.00,216.50 C323.17,216.01 324.83,215.80 326.00,214.40 C327.17,213.00 328.08,208.72 329.00,208.10 C329.92,207.48 330.67,209.22 331.50,210.70 C332.33,212.18 333.08,214.55 334.00,217.00 C334.92,219.45 336.00,224.17 337.00,225.40 C338.00,226.63 339.00,224.92 340.00,224.40 C341.00,223.88 342.00,224.58 343.00,222.30 C344.00,220.02 345.08,213.07 346.00,210.70 C346.92,208.33 347.67,208.10 348.50,208.10 C349.33,208.10 350.08,209.47 351.00,210.70 C351.92,211.93 353.00,214.35 354.00,215.50 C355.00,216.65 355.83,217.08 357.00,217.60 C358.17,218.12 359.83,218.60 361.00,218.60 C362.17,218.60 362.83,217.52 364.00,217.60 C365.17,217.68 366.67,218.75 368.00,219.10 C369.33,219.45 370.67,219.52 372.00,219.70 C373.33,219.88 374.67,219.95 376.00,220.20 C377.33,220.45 378.83,220.58 380.00,221.20 C381.17,221.82 382.08,223.36 383.00,223.90 C383.92,224.44 384.67,224.30 385.50,224.47 C386.33,224.63 387.00,224.74 388.00,224.90 C389.00,225.06 390.92,225.32 391.50,225.40" fill="none" stroke="#3c4478" stroke-width="0.72" stroke-linejoin="round" stroke-linecap="round" />
<path d="M287.50,246.50 C287.88,246.53 289.00,246.62 289.75,246.67 C290.50,246.72 290.96,246.86 292.00,246.80 C293.04,246.74 294.67,246.27 296.00,246.30 C297.33,246.33 298.92,246.89 300.00,247.00 C301.08,247.11 301.67,247.06 302.50,246.98 C303.33,246.89 304.17,246.53 305.00,246.50 C305.83,246.47 306.67,246.74 307.50,246.79 C308.33,246.84 309.17,246.86 310.00,246.80 C310.83,246.74 311.67,246.51 312.50,246.42 C313.33,246.34 314.17,246.30 315.00,246.30 C315.83,246.30 316.67,246.49 317.50,246.44 C318.33,246.39 319.17,246.19 320.00,246.00 C320.83,245.81 321.67,245.44 322.50,245.27 C323.33,245.10 324.21,245.12 325.00,245.00 C325.79,244.88 326.50,244.68 327.25,244.55 C328.00,244.42 328.54,243.71 329.50,244.20 C330.46,244.69 331.75,246.33 333.00,247.50 C334.25,248.67 335.67,251.03 337.00,251.20 C338.33,251.37 339.67,249.62 341.00,248.50 C342.33,247.38 343.75,245.32 345.00,244.50 C346.25,243.68 347.33,243.48 348.50,243.60 C349.67,243.72 351.00,244.84 352.00,245.20 C353.00,245.56 353.67,245.62 354.50,245.75 C355.33,245.89 356.17,245.95 357.00,246.00 C357.83,246.05 358.67,245.96 359.50,246.04 C360.33,246.12 361.08,246.44 362.00,246.50 C362.92,246.56 364.00,246.43 365.00,246.39 C366.00,246.36 367.00,246.32 368.00,246.30 C369.00,246.28 370.00,246.19 371.00,246.27 C372.00,246.36 373.00,246.74 374.00,246.80 C375.00,246.86 376.00,246.73 377.00,246.65 C378.00,246.57 379.00,246.31 380.00,246.30 C381.00,246.29 382.00,246.56 383.00,246.61 C384.00,246.66 385.04,246.61 386.00,246.60 C386.96,246.59 387.83,246.58 388.75,246.54 C389.67,246.51 391.04,246.42 391.50,246.40" fill="none" stroke="#7d88ae" stroke-width="0.6" stroke-linejoin="round" stroke-linecap="round" />
<text x="390.8" y="232.3" font-size="6.4" font-weight="normal" text-anchor="end" fill="#222" stroke="#222" stroke-width="0.08" >ChIP</text>
<text x="390.8" y="256.6" font-size="6.4" font-weight="normal" text-anchor="end" fill="#222" stroke="#222" stroke-width="0.08" >input</text>
<rect x="411.5" y="188.3" width="105.0" height="68.5" fill="none" stroke="#a0a0a0" stroke-width="0.8"/>
<line x1="411.5" y1="188.3" x2="411.5" y2="256.8" stroke="#888" stroke-width="0.9" />
<line x1="411.5" y1="256.8" x2="516.5" y2="256.8" stroke="#b0b0b0" stroke-width="0.9" />
<line x1="409.7" y1="196.3" x2="411.5" y2="196.3" stroke="#777" stroke-width="0.7" />
<text x="408.5" y="198.5" font-size="6.3" font-weight="normal" text-anchor="end" fill="#222" stroke="#222" stroke-width="0.08" >0.4</text>
<line x1="409.7" y1="214.2" x2="411.5" y2="214.2" stroke="#777" stroke-width="0.7" />
<text x="408.5" y="216.39999999999998" font-size="6.3" font-weight="normal" text-anchor="end" fill="#222" stroke="#222" stroke-width="0.08" >0.3</text>
<line x1="409.7" y1="231.8" x2="411.5" y2="231.8" stroke="#777" stroke-width="0.7" />
<text x="408.5" y="234.0" font-size="6.3" font-weight="normal" text-anchor="end" fill="#222" stroke="#222" stroke-width="0.08" >0.2</text>
<line x1="409.7" y1="249.6" x2="411.5" y2="249.6" stroke="#777" stroke-width="0.7" />
<text x="408.5" y="251.79999999999998" font-size="6.3" font-weight="normal" text-anchor="end" fill="#222" stroke="#222" stroke-width="0.08" >0.1</text>
<line x1="411.0" y1="256.8" x2="411.0" y2="258.3" stroke="#999" stroke-width="0.6" />
<text x="411.0" y="263.8" font-size="6.3" font-weight="normal" text-anchor="start" fill="#222" stroke="#222" stroke-width="0.08" >-1.0</text>
<line x1="464" y1="256.8" x2="464" y2="258.3" stroke="#999" stroke-width="0.6" />
<text x="464" y="263.8" font-size="6.3" font-weight="normal" text-anchor="middle" fill="#222" stroke="#222" stroke-width="0.08" >center</text>
<line x1="516.5" y1="256.8" x2="516.5" y2="258.3" stroke="#999" stroke-width="0.6" />
<text x="516.5" y="263.8" font-size="6.3" font-weight="normal" text-anchor="end" fill="#222" stroke="#222" stroke-width="0.08" >1.0Kb</text>
<text x="515.3" y="195.0" font-size="6.3" font-weight="normal" text-anchor="end" fill="#222" stroke="#222" stroke-width="0.08" >n=1,495,172</text>
<text x="464.5" y="183.60000000000002" font-size="6.3" font-weight="normal" text-anchor="middle" fill="#1a1a1a" stroke="#1a1a1a" stroke-width="0.08" >SINEs TE Class</text>
<path d="M412.00,236.10 C413.33,236.12 417.33,236.22 420.00,236.20 C422.67,236.18 426.00,236.08 428.00,236.00 C430.00,235.92 430.67,235.68 432.00,235.70 C433.33,235.72 434.00,236.08 436.00,236.10 C438.00,236.12 441.67,235.77 444.00,235.80 C446.33,235.83 448.33,236.27 450.00,236.30 C451.67,236.33 453.00,235.93 454.00,236.00 C455.00,236.07 455.17,236.87 456.00,236.70 C456.83,236.53 458.17,235.33 459.00,235.00 C459.83,234.67 460.33,234.37 461.00,234.70 C461.67,235.03 462.25,236.48 463.00,237.00 C463.75,237.52 464.67,237.83 465.50,237.80 C466.33,237.77 467.17,236.88 468.00,236.80 C468.83,236.72 469.67,237.13 470.50,237.30 C471.33,237.47 472.08,237.97 473.00,237.80 C473.92,237.63 474.83,236.62 476.00,236.30 C477.17,235.98 478.50,235.88 480.00,235.90 C481.50,235.92 483.33,236.38 485.00,236.40 C486.67,236.42 488.33,236.00 490.00,236.00 C491.67,236.00 493.33,236.40 495.00,236.40 C496.67,236.40 497.83,236.02 500.00,236.00 C502.17,235.98 505.33,236.28 508.00,236.30 C510.67,236.32 514.67,236.13 516.00,236.10" fill="none" stroke="#f7dc7a" stroke-width="0.8" stroke-linejoin="round" stroke-linecap="round" />
<path d="M412.00,235.70 C413.33,235.72 417.33,235.82 420.00,235.80 C422.67,235.78 426.00,235.68 428.00,235.60 C430.00,235.52 430.67,235.28 432.00,235.30 C433.33,235.32 434.00,235.68 436.00,235.70 C438.00,235.72 441.67,235.37 444.00,235.40 C446.33,235.43 448.33,235.87 450.00,235.90 C451.67,235.93 453.00,235.53 454.00,235.60 C455.00,235.67 455.17,236.47 456.00,236.30 C456.83,236.13 458.17,234.93 459.00,234.60 C459.83,234.27 460.33,233.97 461.00,234.30 C461.67,234.63 462.25,236.08 463.00,236.60 C463.75,237.12 464.67,237.43 465.50,237.40 C466.33,237.37 467.17,236.48 468.00,236.40 C468.83,236.32 469.67,236.73 470.50,236.90 C471.33,237.07 472.08,237.57 473.00,237.40 C473.92,237.23 474.83,236.22 476.00,235.90 C477.17,235.58 478.50,235.48 480.00,235.50 C481.50,235.52 483.33,235.98 485.00,236.00 C486.67,236.02 488.33,235.60 490.00,235.60 C491.67,235.60 493.33,236.00 495.00,236.00 C496.67,236.00 497.83,235.62 500.00,235.60 C502.17,235.58 505.33,235.88 508.00,235.90 C510.67,235.92 514.67,235.73 516.00,235.70" fill="none" stroke="#f6b757" stroke-width="0.8" stroke-linejoin="round" stroke-linecap="round" />
<path d="M412.00,236.00 C413.33,236.02 417.33,236.12 420.00,236.10 C422.67,236.08 426.00,235.98 428.00,235.90 C430.00,235.82 430.67,235.58 432.00,235.60 C433.33,235.62 434.00,235.98 436.00,236.00 C438.00,236.02 441.67,235.67 444.00,235.70 C446.33,235.73 448.33,236.17 450.00,236.20 C451.67,236.23 453.00,235.83 454.00,235.90 C455.00,235.97 455.17,236.77 456.00,236.60 C456.83,236.43 458.17,235.23 459.00,234.90 C459.83,234.57 460.33,234.27 461.00,234.60 C461.67,234.93 462.25,236.38 463.00,236.90 C463.75,237.42 464.67,237.73 465.50,237.70 C466.33,237.67 467.17,236.78 468.00,236.70 C468.83,236.62 469.67,237.03 470.50,237.20 C471.33,237.37 472.08,237.87 473.00,237.70 C473.92,237.53 474.83,236.52 476.00,236.20 C477.17,235.88 478.50,235.78 480.00,235.80 C481.50,235.82 483.33,236.28 485.00,236.30 C486.67,236.32 488.33,235.90 490.00,235.90 C491.67,235.90 493.33,236.30 495.00,236.30 C496.67,236.30 497.83,235.92 500.00,235.90 C502.17,235.88 505.33,236.18 508.00,236.20 C510.67,236.22 514.67,236.03 516.00,236.00" fill="none" stroke="#ee7d4c" stroke-width="0.8" stroke-linejoin="round" stroke-linecap="round" />
<path d="M412.00,236.90 C413.33,236.92 417.33,237.02 420.00,237.00 C422.67,236.98 426.00,236.88 428.00,236.80 C430.00,236.72 430.67,236.48 432.00,236.50 C433.33,236.52 434.00,236.88 436.00,236.90 C438.00,236.92 441.67,236.57 444.00,236.60 C446.33,236.63 448.33,237.07 450.00,237.10 C451.67,237.13 453.00,236.73 454.00,236.80 C455.00,236.87 455.17,237.67 456.00,237.50 C456.83,237.33 458.17,236.13 459.00,235.80 C459.83,235.47 460.33,235.17 461.00,235.50 C461.67,235.83 462.25,237.28 463.00,237.80 C463.75,238.32 464.67,238.63 465.50,238.60 C466.33,238.57 467.17,237.68 468.00,237.60 C468.83,237.52 469.67,237.93 470.50,238.10 C471.33,238.27 472.08,238.77 473.00,238.60 C473.92,238.43 474.83,237.42 476.00,237.10 C477.17,236.78 478.50,236.68 480.00,236.70 C481.50,236.72 483.33,237.18 485.00,237.20 C486.67,237.22 488.33,236.80 490.00,236.80 C491.67,236.80 493.33,237.20 495.00,237.20 C496.67,237.20 497.83,236.82 500.00,236.80 C502.17,236.78 505.33,237.08 508.00,237.10 C510.67,237.12 514.67,236.93 516.00,236.90" fill="none" stroke="#bcd4f4" stroke-width="0.8" stroke-linejoin="round" stroke-linecap="round" />
<path d="M412.00,237.00 C413.33,237.02 417.33,237.12 420.00,237.10 C422.67,237.08 426.00,236.98 428.00,236.90 C430.00,236.82 430.67,236.58 432.00,236.60 C433.33,236.62 434.00,236.98 436.00,237.00 C438.00,237.02 441.67,236.67 444.00,236.70 C446.33,236.73 448.33,237.17 450.00,237.20 C451.67,237.23 453.00,236.83 454.00,236.90 C455.00,236.97 455.17,237.77 456.00,237.60 C456.83,237.43 458.17,236.23 459.00,235.90 C459.83,235.57 460.33,235.27 461.00,235.60 C461.67,235.93 462.25,237.38 463.00,237.90 C463.75,238.42 464.67,238.73 465.50,238.70 C466.33,238.67 467.17,237.78 468.00,237.70 C468.83,237.62 469.67,238.03 470.50,238.20 C471.33,238.37 472.08,238.87 473.00,238.70 C473.92,238.53 474.83,237.52 476.00,237.20 C477.17,236.88 478.50,236.78 480.00,236.80 C481.50,236.82 483.33,237.28 485.00,237.30 C486.67,237.32 488.33,236.90 490.00,236.90 C491.67,236.90 493.33,237.30 495.00,237.30 C496.67,237.30 497.83,236.92 500.00,236.90 C502.17,236.88 505.33,237.18 508.00,237.20 C510.67,237.22 514.67,237.03 516.00,237.00" fill="none" stroke="#5b86e6" stroke-width="0.8" stroke-linejoin="round" stroke-linecap="round" />
<path d="M412.00,237.20 C413.33,237.22 417.33,237.32 420.00,237.30 C422.67,237.28 426.00,237.18 428.00,237.10 C430.00,237.02 430.67,236.78 432.00,236.80 C433.33,236.82 434.00,237.18 436.00,237.20 C438.00,237.22 441.67,236.87 444.00,236.90 C446.33,236.93 448.33,237.37 450.00,237.40 C451.67,237.43 453.00,237.03 454.00,237.10 C455.00,237.17 455.17,237.97 456.00,237.80 C456.83,237.63 458.17,236.43 459.00,236.10 C459.83,235.77 460.33,235.47 461.00,235.80 C461.67,236.13 462.25,237.58 463.00,238.10 C463.75,238.62 464.67,238.93 465.50,238.90 C466.33,238.87 467.17,237.98 468.00,237.90 C468.83,237.82 469.67,238.23 470.50,238.40 C471.33,238.57 472.08,239.07 473.00,238.90 C473.92,238.73 474.83,237.72 476.00,237.40 C477.17,237.08 478.50,236.98 480.00,237.00 C481.50,237.02 483.33,237.48 485.00,237.50 C486.67,237.52 488.33,237.10 490.00,237.10 C491.67,237.10 493.33,237.50 495.00,237.50 C496.67,237.50 497.83,237.12 500.00,237.10 C502.17,237.08 505.33,237.38 508.00,237.40 C510.67,237.42 514.67,237.23 516.00,237.20" fill="none" stroke="#3c4478" stroke-width="0.8" stroke-linejoin="round" stroke-linecap="round" />
<line x1="523.2" y1="199.4" x2="530" y2="199.4" stroke="#f7dc7a" stroke-width="1.0" />
<text x="532" y="201.6" font-size="6.3" font-weight="normal" text-anchor="start" fill="#222" stroke="#222" stroke-width="0.08" >CT0</text>
<line x1="523.2" y1="207.70000000000002" x2="530" y2="207.70000000000002" stroke="#f6b757" stroke-width="1.0" />
<text x="532" y="209.9" font-size="6.3" font-weight="normal" text-anchor="start" fill="#222" stroke="#222" stroke-width="0.08" >CT4</text>
<line x1="523.2" y1="216.0" x2="530" y2="216.0" stroke="#ee7d4c" stroke-width="1.0" />
<text x="532" y="218.2" font-size="6.3" font-weight="normal" text-anchor="start" fill="#222" stroke="#222" stroke-width="0.08" >CT8</text>
<line x1="523.2" y1="224.3" x2="530" y2="224.3" stroke="#bcd4f4" stroke-width="1.0" />
<text x="532" y="226.5" font-size="6.3" font-weight="normal" text-anchor="start" fill="#222" stroke="#222" stroke-width="0.08" >CT12</text>
<line x1="523.2" y1="232.60000000000002" x2="530" y2="232.60000000000002" stroke="#5b86e6" stroke-width="1.0" />
<text x="532" y="234.8" font-size="6.3" font-weight="normal" text-anchor="start" fill="#222" stroke="#222" stroke-width="0.08" >CT16</text>
<line x1="523.2" y1="240.9" x2="530" y2="240.9" stroke="#3c4478" stroke-width="1.0" />
<text x="532" y="243.1" font-size="6.3" font-weight="normal" text-anchor="start" fill="#222" stroke="#222" stroke-width="0.08" >CT20</text>
<line x1="523.2" y1="249.20000000000002" x2="530" y2="249.20000000000002" stroke="#7d88ae" stroke-width="1.0" />
<text x="532" y="251.4" font-size="6.3" font-weight="normal" text-anchor="start" fill="#222" stroke="#222" stroke-width="0.08" >Input</text>
<text x="47.3" y="284.9" font-size="10" font-weight="bold" text-anchor="start" fill="#000" stroke="#000" stroke-width="0.14" >e</text>
<text x="74.7" y="320" font-size="7.0" font-weight="bold" text-anchor="start" fill="#111" stroke="#111" stroke-width="0.14" >H3.3A and H3.1/2</text>
<text x="74.7" y="329.2" font-size="7.0" font-weight="bold" text-anchor="start" fill="#111" stroke="#111" stroke-width="0.14" >ChIP-seq</text>
<rect x="162.5" y="289.5" width="106.10000000000002" height="70.5" fill="none" stroke="#a0a0a0" stroke-width="0.8"/>
<line x1="162.5" y1="289.5" x2="162.5" y2="360" stroke="#888" stroke-width="0.9" />
<line x1="162.5" y1="360" x2="268.6" y2="360" stroke="#b0b0b0" stroke-width="0.9" />
<line x1="160.7" y1="298.9" x2="162.5" y2="298.9" stroke="#777" stroke-width="0.7" />
<text x="159.5" y="301.09999999999997" font-size="6.3" font-weight="normal" text-anchor="end" fill="#222" stroke="#222" stroke-width="0.08" >0.4</text>
<line x1="160.7" y1="316.7" x2="162.5" y2="316.7" stroke="#777" stroke-width="0.7" />
<text x="159.5" y="318.9" font-size="6.3" font-weight="normal" text-anchor="end" fill="#222" stroke="#222" stroke-width="0.08" >0.3</text>
<line x1="160.7" y1="334.5" x2="162.5" y2="334.5" stroke="#777" stroke-width="0.7" />
<text x="159.5" y="336.7" font-size="6.3" font-weight="normal" text-anchor="end" fill="#222" stroke="#222" stroke-width="0.08" >0.2</text>
<line x1="160.7" y1="352.3" x2="162.5" y2="352.3" stroke="#777" stroke-width="0.7" />
<text x="159.5" y="354.5" font-size="6.3" font-weight="normal" text-anchor="end" fill="#222" stroke="#222" stroke-width="0.08" >0.1</text>
<line x1="162.6" y1="360" x2="162.6" y2="361.5" stroke="#999" stroke-width="0.6" />
<text x="162.6" y="367" font-size="6.3" font-weight="normal" text-anchor="start" fill="#222" stroke="#222" stroke-width="0.08" >-1.0</text>
<line x1="216" y1="360" x2="216" y2="361.5" stroke="#999" stroke-width="0.6" />
<text x="216" y="367" font-size="6.3" font-weight="normal" text-anchor="middle" fill="#222" stroke="#222" stroke-width="0.08" >TSS</text>
<line x1="268.6" y1="360" x2="268.6" y2="361.5" stroke="#999" stroke-width="0.6" />
<text x="268.6" y="367" font-size="6.3" font-weight="normal" text-anchor="end" fill="#222" stroke="#222" stroke-width="0.08" >1.0Kb</text>
<text x="267.40000000000003" y="296.2" font-size="6.3" font-weight="normal" text-anchor="end" fill="#222" stroke="#222" stroke-width="0.08" >n=57,186</text>
<text x="214" y="284.8" font-size="6.3" font-weight="normal" text-anchor="middle" fill="#1a1a1a" stroke="#1a1a1a" stroke-width="0.08" >Genes</text>
<text x="146" y="328.5" font-size="6.3" text-anchor="middle" fill="#222" transform="rotate(-90 146 328.5)">Mean normalized score</text>
<text x="266.8" y="357.1" font-size="6.4" font-weight="normal" text-anchor="end" fill="#222" stroke="#222" stroke-width="0.08" >ChIP</text>
<path d="M163.00,345.50 C164.17,345.53 167.83,345.63 170.00,345.70 C172.17,345.77 173.00,345.80 176.00,345.90 C179.00,346.00 184.00,346.18 188.00,346.30 C192.00,346.42 197.00,346.47 200.00,346.60 C203.00,346.73 204.50,346.67 206.00,347.10 C207.50,347.53 207.67,348.67 209.00,349.20 C210.33,349.73 212.50,350.17 214.00,350.30 C215.50,350.43 217.00,350.13 218.00,350.00 C219.00,349.87 219.25,349.80 220.00,349.50 C220.75,349.20 221.67,348.15 222.50,348.20 C223.33,348.25 224.00,349.32 225.00,349.80 C226.00,350.28 227.50,350.97 228.50,351.10 C229.50,351.23 229.92,350.82 231.00,350.60 C232.08,350.38 233.50,350.03 235.00,349.80 C236.50,349.57 238.33,349.38 240.00,349.20 C241.67,349.02 243.33,348.87 245.00,348.70 C246.67,348.53 248.33,348.38 250.00,348.20 C251.67,348.02 253.17,347.80 255.00,347.60 C256.83,347.40 258.83,347.22 261.00,347.00 C263.17,346.78 266.83,346.42 268.00,346.30" fill="none" stroke="#f0c684" stroke-width="0.85" stroke-linejoin="round" stroke-linecap="round" />
<path d="M163.00,344.90 C164.17,344.93 167.83,345.03 170.00,345.10 C172.17,345.17 173.00,345.20 176.00,345.30 C179.00,345.40 184.00,345.58 188.00,345.70 C192.00,345.82 197.00,345.68 200.00,346.00 C203.00,346.32 204.50,346.98 206.00,347.60 C207.50,348.22 207.67,349.17 209.00,349.70 C210.33,350.23 212.50,350.67 214.00,350.80 C215.50,350.93 217.00,350.63 218.00,350.50 C219.00,350.37 219.25,350.30 220.00,350.00 C220.75,349.70 221.67,348.65 222.50,348.70 C223.33,348.75 224.00,349.82 225.00,350.30 C226.00,350.78 227.50,351.47 228.50,351.60 C229.50,351.73 229.92,351.32 231.00,351.10 C232.08,350.88 233.50,350.53 235.00,350.30 C236.50,350.07 238.33,349.88 240.00,349.70 C241.67,349.52 243.33,349.37 245.00,349.20 C246.67,349.03 248.33,348.88 250.00,348.70 C251.67,348.52 253.17,348.30 255.00,348.10 C256.83,347.90 258.83,347.72 261.00,347.50 C263.17,347.28 266.83,346.92 268.00,346.80" fill="none" stroke="#a9c3ee" stroke-width="0.85" stroke-linejoin="round" stroke-linecap="round" />
<path d="M163.20,340.20 C164.33,340.10 167.87,339.78 170.00,339.60 C172.13,339.42 173.83,339.28 176.00,339.10 C178.17,338.92 180.85,338.72 183.00,338.50 C185.15,338.28 187.23,338.02 188.90,337.80 C190.57,337.58 191.80,337.43 193.00,337.20 C194.20,336.97 195.18,336.38 196.10,336.40 C197.02,336.42 197.68,337.27 198.50,337.30 C199.32,337.33 199.98,337.10 201.00,336.60 C202.02,336.10 203.68,334.37 204.60,334.30 C205.52,334.23 205.90,335.35 206.50,336.20 C207.10,337.05 207.53,338.30 208.20,339.40 C208.87,340.50 209.83,341.98 210.50,342.80 C211.17,343.62 211.45,344.00 212.20,344.30 C212.95,344.60 214.20,344.60 215.00,344.60 C215.80,344.60 216.42,344.82 217.00,344.30 C217.58,343.78 218.05,342.45 218.50,341.50 C218.95,340.55 219.07,339.88 219.70,338.60 C220.33,337.32 221.62,334.23 222.30,333.80 C222.98,333.37 223.35,335.07 223.80,336.00 C224.25,336.93 224.55,338.40 225.00,339.40 C225.45,340.40 225.97,341.32 226.50,342.00 C227.03,342.68 227.53,343.58 228.20,343.50 C228.87,343.42 229.62,342.32 230.50,341.50 C231.38,340.68 232.67,338.88 233.50,338.60 C234.33,338.32 234.78,339.33 235.50,339.80 C236.22,340.27 237.05,341.28 237.80,341.40 C238.55,341.52 239.18,340.83 240.00,340.50 C240.82,340.17 241.87,339.45 242.70,339.40 C243.53,339.35 244.20,339.98 245.00,340.20 C245.80,340.42 246.67,340.77 247.50,340.70 C248.33,340.63 249.20,340.07 250.00,339.80 C250.80,339.53 251.47,339.12 252.30,339.10 C253.13,339.08 254.07,339.52 255.00,339.70 C255.93,339.88 257.07,340.18 257.90,340.20 C258.73,340.22 259.20,339.93 260.00,339.80 C260.80,339.67 261.78,339.37 262.70,339.40 C263.62,339.43 264.57,339.78 265.50,340.00 C266.43,340.22 267.83,340.58 268.30,340.70" fill="none" stroke="#333" stroke-width="0.75" stroke-linejoin="round" stroke-linecap="round" />
<rect x="162.5" y="289.5" width="18.8" height="33" fill="#fff" stroke="#777" stroke-width="0.7"/>
<path d="M162.80,308.50 C163.17,307.75 164.22,305.75 165.00,304.00 C165.78,302.25 166.70,299.80 167.50,298.00 C168.30,296.20 169.13,294.17 169.80,293.20 C170.47,292.23 170.93,292.15 171.50,292.20 C172.07,292.25 172.58,292.45 173.20,293.50 C173.82,294.55 174.53,296.83 175.20,298.50 C175.87,300.17 176.53,302.12 177.20,303.50 C177.87,304.88 178.53,306.05 179.20,306.80 C179.87,307.55 180.87,307.80 181.20,308.00" fill="none" stroke="#333" stroke-width="0.8" stroke-linejoin="round" stroke-linecap="round" />
<path d="M162.80,318.50 C163.33,318.28 164.88,317.73 166.00,317.20 C167.12,316.67 168.50,315.77 169.50,315.30 C170.50,314.83 171.08,314.37 172.00,314.40 C172.92,314.43 173.92,315.02 175.00,315.50 C176.08,315.98 177.47,316.83 178.50,317.30 C179.53,317.77 180.75,318.13 181.20,318.30" fill="none" stroke="#f0c684" stroke-width="0.8" stroke-linejoin="round" stroke-linecap="round" />
<path d="M162.80,319.40 C163.33,319.18 164.88,318.63 166.00,318.10 C167.12,317.57 168.50,316.67 169.50,316.20 C170.50,315.73 171.08,315.27 172.00,315.30 C172.92,315.33 173.92,315.92 175.00,316.40 C176.08,316.88 177.47,317.73 178.50,318.20 C179.53,318.67 180.75,319.03 181.20,319.20" fill="none" stroke="#a9c3ee" stroke-width="0.8" stroke-linejoin="round" stroke-linecap="round" />
<line x1="181.2" y1="308" x2="186" y2="308" stroke="#444" stroke-width="0.6" />
<line x1="181.2" y1="318.3" x2="186" y2="315" stroke="#444" stroke-width="0.5" />
<line x1="181.2" y1="319" x2="186" y2="321" stroke="#444" stroke-width="0.5" />
<text x="186.5" y="310.2" font-size="4.8" font-weight="normal" text-anchor="start" fill="#222" stroke="#222" stroke-width="0.08" >H3.3</text>
<text x="186.5" y="316.8" font-size="4.8" font-weight="normal" text-anchor="start" fill="#222" stroke="#222" stroke-width="0.08" >H3.1/2 CT8</text>
<text x="186.5" y="323.2" font-size="4.8" font-weight="normal" text-anchor="start" fill="#222" stroke="#222" stroke-width="0.08" >H3.1/2 CT20</text>
<line x1="270.8" y1="315.5" x2="277.4" y2="315.5" stroke="#444" stroke-width="1.0" />
<text x="280" y="317.6" font-size="5.95" font-weight="normal" text-anchor="start" fill="#222" stroke="#222" stroke-width="0.08" >H3.3 (average CT8, CT20)</text>
<line x1="270.8" y1="324.3" x2="277.4" y2="324.3" stroke="#f3c27a" stroke-width="1.0" />
<text x="280" y="326.40000000000003" font-size="5.95" font-weight="normal" text-anchor="start" fill="#222" stroke="#222" stroke-width="0.08" >H3.1/2 CT8</text>
<line x1="270.8" y1="332.3" x2="277.4" y2="332.3" stroke="#bcd0f0" stroke-width="1.0" />
<text x="280" y="334.40000000000003" font-size="5.95" font-weight="normal" text-anchor="start" fill="#222" stroke="#222" stroke-width="0.08" >H3.1/2 CT20</text>
<text x="356.4" y="288.8" font-size="10" font-weight="bold" text-anchor="start" fill="#000" stroke="#000" stroke-width="0.14" >f</text>
<line x1="392.4" y1="282" x2="392.4" y2="364.4" stroke="#888" stroke-width="0.8" />
<line x1="392.4" y1="364.4" x2="552.5" y2="364.4" stroke="#888" stroke-width="0.8" />
<text x="388.2" y="285.0" font-size="5.4" font-weight="normal" text-anchor="end" fill="#333" stroke="#333" stroke-width="0.08" >80</text>
<text x="388.2" y="295.15" font-size="5.4" font-weight="normal" text-anchor="end" fill="#333" stroke="#333" stroke-width="0.08" >60</text>
<text x="388.2" y="305.29999999999995" font-size="5.4" font-weight="normal" text-anchor="end" fill="#333" stroke="#333" stroke-width="0.08" >40</text>
<text x="388.2" y="315.45" font-size="5.4" font-weight="normal" text-anchor="end" fill="#333" stroke="#333" stroke-width="0.08" >20</text>
<text x="388.2" y="325.59999999999997" font-size="5.4" font-weight="normal" text-anchor="end" fill="#333" stroke="#333" stroke-width="0.08" >0</text>
<text x="388.2" y="335.74999999999994" font-size="5.4" font-weight="normal" text-anchor="end" fill="#333" stroke="#333" stroke-width="0.08" >-20</text>
<text x="388.2" y="345.9" font-size="5.4" font-weight="normal" text-anchor="end" fill="#333" stroke="#333" stroke-width="0.08" >-40</text>
<text x="388.2" y="356.04999999999995" font-size="5.4" font-weight="normal" text-anchor="end" fill="#333" stroke="#333" stroke-width="0.08" >-60</text>
<text x="388.2" y="366.19999999999993" font-size="5.4" font-weight="normal" text-anchor="end" fill="#333" stroke="#333" stroke-width="0.08" >-80</text>
<text x="408.5" y="370.9" font-size="5.4" font-weight="normal" text-anchor="middle" fill="#333" stroke="#333" stroke-width="0.08" >24</text>
<text x="432.7" y="370.9" font-size="5.4" font-weight="normal" text-anchor="middle" fill="#333" stroke="#333" stroke-width="0.08" >48</text>
<text x="454.6" y="370.9" font-size="5.4" font-weight="normal" text-anchor="middle" fill="#333" stroke="#333" stroke-width="0.08" >72</text>
<text x="478.7" y="370.9" font-size="5.4" font-weight="normal" text-anchor="middle" fill="#333" stroke="#333" stroke-width="0.08" >96</text>
<text x="502.8" y="370.9" font-size="5.4" font-weight="normal" text-anchor="middle" fill="#333" stroke="#333" stroke-width="0.08" >120</text>
<text x="524" y="370.9" font-size="5.4" font-weight="normal" text-anchor="middle" fill="#333" stroke="#333" stroke-width="0.08" >144</text>
<text x="544.4" y="370.9" font-size="5.4" font-weight="normal" text-anchor="middle" fill="#333" stroke="#333" stroke-width="0.08" >168</text>
<text x="475.3" y="379.4" font-size="5.8" font-weight="normal" text-anchor="middle" fill="#333" stroke="#333" stroke-width="0.08" >Time (hours)</text>
<text x="377" y="322" font-size="6.2" text-anchor="middle" fill="#333" stroke="#333" stroke-width="0.06" transform="rotate(-90 377 322)">Amplitude</text>
<path d="M402.00,316.60 L402.51,316.87 L403.01,317.65 L403.52,318.93 L404.03,320.63 L404.53,322.70 L405.04,325.03 L405.55,327.52 L406.05,330.07 L406.56,332.56 L407.07,334.89 L407.57,336.95 L408.08,338.66 L408.59,339.93 L409.09,340.72 L409.60,340.99 L410.11,340.80 L410.63,340.23 L411.14,339.30 L411.65,338.03 L412.17,336.42 L412.68,334.53 L413.19,332.38 L413.70,330.00 L414.22,327.46 L414.73,324.79 L415.24,322.03 L415.76,319.26 L416.27,316.51 L416.78,313.84 L417.30,311.29 L417.81,308.92 L418.32,306.76 L418.83,304.87 L419.35,303.27 L419.86,301.99 L420.37,301.06 L420.89,300.50 L421.40,300.31 L421.90,300.51 L422.41,301.12 L422.91,302.12 L423.42,303.48 L423.92,305.19 L424.43,307.19 L424.93,309.45 L425.44,311.91 L425.94,314.52 L426.45,317.22 L426.95,319.95 L427.46,322.65 L427.96,325.26 L428.47,327.72 L428.97,329.98 L429.48,331.98 L429.98,333.68 L430.49,335.05 L430.99,336.05 L431.50,336.65 L432.00,336.86 L432.51,336.75 L433.03,336.44 L433.54,335.93 L434.05,335.23 L434.57,334.35 L435.08,333.31 L435.59,332.13 L436.10,330.82 L436.62,329.42 L437.13,327.95 L437.64,326.44 L438.16,324.92 L438.67,323.40 L439.18,321.93 L439.70,320.53 L440.21,319.23 L440.72,318.05 L441.23,317.01 L441.75,316.13 L442.26,315.42 L442.77,314.91 L443.29,314.60 L443.80,314.50 L444.30,314.55 L444.80,314.71 L445.30,314.96 L445.80,315.32 L446.30,315.76 L446.80,316.29 L447.30,316.90 L447.80,317.58 L448.30,318.32 L448.80,319.10 L449.30,319.93 L449.80,320.78 L450.30,321.64 L450.80,322.50 L451.30,323.34 L451.80,324.17 L452.30,324.95 L452.80,325.69 L453.30,326.37 L453.80,326.98 L454.30,327.51 L454.80,327.96 L455.30,328.31 L455.80,328.57 L456.30,328.72 L456.80,328.77 L457.30,328.74 L457.81,328.63 L458.31,328.46 L458.81,328.23 L459.32,327.93 L459.82,327.57 L460.33,327.16 L460.83,326.70 L461.33,326.19 L461.84,325.66 L462.34,325.09 L462.84,324.51 L463.35,323.91 L463.85,323.31 L464.36,322.72 L464.86,322.13 L465.36,321.57 L465.87,321.03 L466.37,320.53 L466.87,320.07 L467.38,319.66 L467.88,319.30 L468.39,319.00 L468.89,318.77 L469.39,318.59 L469.90,318.49 L470.40,318.45 L470.90,318.49 L471.41,318.58 L471.91,318.74 L472.42,318.95 L472.92,319.23 L473.42,319.55 L473.93,319.92 L474.43,320.33 L474.94,320.78 L475.44,321.25 L475.94,321.74 L476.45,322.24 L476.95,322.75 L477.46,323.25 L477.96,323.75 L478.46,324.22 L478.97,324.66 L479.47,325.07 L479.98,325.44 L480.48,325.77 L480.98,326.04 L481.49,326.25 L481.99,326.41 L482.50,326.51 L483.00,326.54 L483.51,326.51 L484.03,326.44 L484.54,326.31 L485.05,326.14 L485.57,325.93 L486.08,325.68 L486.59,325.39 L487.10,325.08 L487.62,324.74 L488.13,324.38 L488.64,324.01 L489.16,323.64 L489.67,323.28 L490.18,322.92 L490.70,322.58 L491.21,322.27 L491.72,321.98 L492.23,321.73 L492.75,321.51 L493.26,321.34 L493.77,321.22 L494.29,321.15 L494.80,321.12 L495.30,321.13 L495.81,321.18 L496.31,321.25 L496.82,321.35 L497.32,321.47 L497.82,321.62 L498.33,321.79 L498.83,321.98 L499.34,322.18 L499.84,322.40 L500.34,322.62 L500.85,322.85 L501.35,323.09 L501.86,323.32 L502.36,323.54 L502.86,323.76 L503.37,323.96 L503.87,324.15 L504.38,324.32 L504.88,324.46 L505.38,324.59 L505.89,324.69 L506.39,324.76 L506.90,324.80 L507.40,324.82 L507.90,324.81 L508.41,324.78 L508.91,324.73 L509.42,324.66 L509.92,324.57 L510.42,324.47 L510.93,324.35 L511.43,324.22 L511.94,324.08 L512.44,323.93 L512.94,323.77 L513.45,323.61 L513.95,323.45 L514.46,323.29 L514.96,323.13 L515.46,322.98 L515.97,322.84 L516.47,322.71 L516.98,322.59 L517.48,322.48 L517.98,322.40 L518.49,322.33 L518.99,322.28 L519.50,322.25 L520.00,322.24 L520.50,322.24 L521.01,322.26 L521.51,322.30 L522.02,322.34 L522.52,322.39 L523.02,322.46 L523.53,322.53 L524.03,322.62 L524.54,322.71 L525.04,322.80 L525.54,322.90 L526.05,323.00 L526.55,323.11 L527.06,323.21 L527.56,323.31 L528.06,323.40 L528.57,323.49 L529.07,323.58 L529.58,323.65 L530.08,323.72 L530.58,323.77 L531.09,323.81 L531.59,323.85 L532.10,323.87 L532.60,323.87 L533.10,323.87 L533.61,323.85 L534.11,323.83 L534.62,323.80 L535.12,323.77 L535.63,323.73 L536.13,323.68 L536.64,323.63 L537.14,323.57 L537.65,323.51 L538.15,323.46 L538.66,323.40 L539.16,323.34 L539.67,323.29 L540.17,323.24 L540.68,323.20 L541.18,323.17 L541.69,323.14 L542.19,323.12 L542.70,323.10 L543.20,323.10" fill="none" stroke="#4f86d6" stroke-width="0.75" stroke-linejoin="round" stroke-linecap="round" />
<path d="M402.00,316.60 L402.53,317.02 L403.06,318.26 L403.59,320.25 L404.12,322.87 L404.65,325.96 L405.18,329.36 L405.72,332.85 L406.25,336.25 L406.78,339.34 L407.31,341.96 L407.84,343.95 L408.37,345.19 L408.90,345.61 L409.41,345.37 L409.93,344.65 L410.44,343.47 L410.95,341.86 L411.47,339.83 L411.98,337.43 L412.49,334.70 L413.00,331.69 L413.52,328.46 L414.03,325.08 L414.54,321.59 L415.06,318.07 L415.57,314.59 L416.08,311.20 L416.60,307.97 L417.11,304.96 L417.62,302.24 L418.13,299.83 L418.65,297.80 L419.16,296.19 L419.67,295.01 L420.19,294.29 L420.70,294.05 L421.20,294.31 L421.71,295.08 L422.21,296.35 L422.72,298.08 L423.22,300.24 L423.73,302.77 L424.23,305.63 L424.74,308.75 L425.24,312.06 L425.75,315.48 L426.25,318.95 L426.76,322.37 L427.26,325.68 L427.77,328.80 L428.27,331.66 L428.78,334.19 L429.28,336.35 L429.79,338.08 L430.29,339.35 L430.80,340.12 L431.30,340.38 L431.81,340.25 L432.33,339.85 L432.84,339.20 L433.35,338.31 L433.87,337.20 L434.38,335.88 L434.89,334.38 L435.40,332.73 L435.92,330.95 L436.43,329.09 L436.94,327.17 L437.46,325.24 L437.97,323.32 L438.48,321.46 L439.00,319.69 L439.51,318.04 L440.02,316.54 L440.53,315.22 L441.05,314.10 L441.56,313.21 L442.07,312.56 L442.59,312.17 L443.10,312.04 L443.60,312.10 L444.10,312.30 L444.60,312.62 L445.10,313.07 L445.60,313.64 L446.10,314.31 L446.60,315.08 L447.10,315.94 L447.60,316.88 L448.10,317.88 L448.60,318.92 L449.10,319.99 L449.60,321.08 L450.10,322.17 L450.60,323.25 L451.10,324.29 L451.60,325.29 L452.10,326.22 L452.60,327.08 L453.10,327.86 L453.60,328.53 L454.10,329.09 L454.60,329.54 L455.10,329.87 L455.60,330.07 L456.10,330.13 L456.60,330.09 L457.11,329.95 L457.61,329.74 L458.11,329.44 L458.62,329.06 L459.12,328.60 L459.63,328.08 L460.13,327.50 L460.63,326.86 L461.14,326.18 L461.64,325.47 L462.14,324.73 L462.65,323.97 L463.15,323.21 L463.66,322.46 L464.16,321.72 L464.66,321.00 L465.17,320.32 L465.67,319.69 L466.17,319.10 L466.68,318.58 L467.18,318.13 L467.69,317.75 L468.19,317.45 L468.69,317.23 L469.20,317.10 L469.70,317.05 L470.20,317.09 L470.71,317.21 L471.21,317.41 L471.72,317.68 L472.22,318.03 L472.72,318.44 L473.23,318.91 L473.73,319.43 L474.24,319.99 L474.74,320.59 L475.24,321.21 L475.75,321.85 L476.25,322.50 L476.76,323.13 L477.26,323.76 L477.76,324.36 L478.27,324.92 L478.77,325.44 L479.28,325.91 L479.78,326.32 L480.28,326.66 L480.79,326.94 L481.29,327.14 L481.80,327.26 L482.30,327.30 L482.81,327.27 L483.33,327.17 L483.84,327.01 L484.35,326.80 L484.87,326.53 L485.38,326.21 L485.89,325.84 L486.40,325.44 L486.92,325.01 L487.43,324.56 L487.94,324.10 L488.46,323.63 L488.97,323.16 L489.48,322.71 L490.00,322.28 L490.51,321.88 L491.02,321.52 L491.53,321.20 L492.05,320.93 L492.56,320.71 L493.07,320.56 L493.59,320.46 L494.10,320.43 L494.60,320.45 L495.11,320.50 L495.61,320.59 L496.12,320.72 L496.62,320.88 L497.12,321.07 L497.63,321.28 L498.13,321.52 L498.64,321.78 L499.14,322.05 L499.64,322.33 L500.15,322.63 L500.65,322.92 L501.16,323.21 L501.66,323.50 L502.16,323.77 L502.67,324.03 L503.17,324.27 L503.68,324.48 L504.18,324.67 L504.68,324.83 L505.19,324.95 L505.69,325.04 L506.20,325.10 L506.70,325.12 L507.20,325.10 L507.71,325.07 L508.21,325.00 L508.72,324.91 L509.22,324.80 L509.72,324.67 L510.23,324.52 L510.73,324.36 L511.24,324.18 L511.74,323.99 L512.24,323.79 L512.75,323.58 L513.25,323.38 L513.76,323.18 L514.26,322.98 L514.76,322.79 L515.27,322.61 L515.77,322.44 L516.28,322.29 L516.78,322.16 L517.28,322.05 L517.79,321.96 L518.29,321.90 L518.80,321.86 L519.30,321.85 L519.80,321.86 L520.31,321.88 L520.81,321.92 L521.32,321.98 L521.82,322.04 L522.32,322.13 L522.83,322.22 L523.33,322.33 L523.84,322.44 L524.34,322.56 L524.84,322.69 L525.35,322.82 L525.85,322.95 L526.36,323.08 L526.86,323.20 L527.36,323.32 L527.87,323.44 L528.37,323.54 L528.88,323.64 L529.38,323.72 L529.88,323.79 L530.39,323.85 L530.89,323.89 L531.40,323.91 L531.90,323.92 L532.40,323.91 L532.91,323.90 L533.41,323.87 L533.92,323.83 L534.42,323.79 L534.93,323.73 L535.43,323.67 L535.94,323.61 L536.44,323.54 L536.95,323.46 L537.45,323.39 L537.96,323.32 L538.46,323.25 L538.97,323.18 L539.47,323.12 L539.98,323.07 L540.48,323.02 L540.99,322.99 L541.49,322.96 L542.00,322.94 L542.50,322.94" fill="none" stroke="#4f86d6" stroke-width="0.75" stroke-linejoin="round" stroke-linecap="round" />
<path d="M402.00,316.60 L402.53,316.89 L403.05,317.73 L403.58,319.10 L404.11,320.93 L404.63,323.15 L405.16,325.65 L405.69,328.33 L406.21,331.07 L406.74,333.74 L407.27,336.25 L407.79,338.46 L408.32,340.29 L408.85,341.66 L409.37,342.51 L409.90,342.80 L410.41,342.59 L410.93,341.96 L411.44,340.93 L411.95,339.52 L412.47,337.76 L412.98,335.66 L413.49,333.28 L414.00,330.66 L414.52,327.85 L415.03,324.90 L415.54,321.86 L416.06,318.79 L416.57,315.76 L417.08,312.80 L417.60,309.99 L418.11,307.37 L418.62,304.99 L419.13,302.90 L419.65,301.13 L420.16,299.72 L420.67,298.69 L421.19,298.07 L421.70,297.86 L422.20,298.09 L422.71,298.76 L423.21,299.86 L423.72,301.37 L424.22,303.25 L424.73,305.46 L425.23,307.95 L425.74,310.67 L426.24,313.56 L426.75,316.54 L427.25,319.56 L427.76,322.54 L428.26,325.42 L428.77,328.14 L429.27,330.63 L429.78,332.85 L430.28,334.73 L430.79,336.24 L431.29,337.34 L431.80,338.01 L432.30,338.24 L432.81,338.12 L433.33,337.78 L433.84,337.21 L434.35,336.44 L434.87,335.47 L435.38,334.31 L435.89,333.01 L436.40,331.57 L436.92,330.02 L437.43,328.40 L437.94,326.73 L438.46,325.04 L438.97,323.37 L439.48,321.75 L440.00,320.20 L440.51,318.76 L441.02,317.46 L441.53,316.30 L442.05,315.33 L442.56,314.56 L443.07,313.99 L443.59,313.65 L444.10,313.54 L444.60,313.59 L445.10,313.76 L445.60,314.05 L446.10,314.44 L446.60,314.93 L447.10,315.52 L447.60,316.19 L448.10,316.94 L448.60,317.76 L449.10,318.62 L449.60,319.53 L450.10,320.47 L450.60,321.42 L451.10,322.37 L451.60,323.31 L452.10,324.22 L452.60,325.08 L453.10,325.90 L453.60,326.65 L454.10,327.32 L454.60,327.91 L455.10,328.40 L455.60,328.79 L456.10,329.08 L456.60,329.25 L457.10,329.31 L457.60,329.27 L458.11,329.15 L458.61,328.96 L459.11,328.70 L459.62,328.37 L460.12,327.97 L460.63,327.52 L461.13,327.01 L461.63,326.46 L462.14,325.86 L462.64,325.24 L463.14,324.59 L463.65,323.94 L464.15,323.27 L464.66,322.62 L465.16,321.97 L465.66,321.35 L466.17,320.76 L466.67,320.20 L467.17,319.69 L467.68,319.24 L468.18,318.84 L468.69,318.51 L469.19,318.25 L469.69,318.06 L470.20,317.94 L470.70,317.91 L471.20,317.94 L471.71,318.05 L472.21,318.22 L472.72,318.46 L473.22,318.76 L473.72,319.12 L474.23,319.52 L474.73,319.98 L475.24,320.47 L475.74,320.99 L476.24,321.53 L476.75,322.09 L477.25,322.65 L477.76,323.21 L478.26,323.75 L478.76,324.27 L479.27,324.76 L479.77,325.22 L480.28,325.62 L480.78,325.98 L481.28,326.28 L481.79,326.52 L482.29,326.69 L482.80,326.80 L483.30,326.83 L483.81,326.81 L484.33,326.72 L484.84,326.59 L485.35,326.40 L485.87,326.16 L486.38,325.89 L486.89,325.57 L487.40,325.22 L487.92,324.84 L488.43,324.45 L488.94,324.05 L489.46,323.64 L489.97,323.23 L490.48,322.84 L491.00,322.47 L491.51,322.12 L492.02,321.80 L492.53,321.52 L493.05,321.29 L493.56,321.10 L494.07,320.96 L494.59,320.88 L495.10,320.85 L495.60,320.87 L496.11,320.91 L496.61,320.99 L497.12,321.10 L497.62,321.24 L498.12,321.40 L498.63,321.59 L499.13,321.80 L499.64,322.02 L500.14,322.26 L500.64,322.51 L501.15,322.76 L501.65,323.02 L502.16,323.28 L502.66,323.52 L503.16,323.76 L503.67,323.99 L504.17,324.19 L504.68,324.38 L505.18,324.54 L505.68,324.68 L506.19,324.79 L506.69,324.87 L507.20,324.92 L507.70,324.94 L508.20,324.92 L508.71,324.89 L509.21,324.83 L509.72,324.76 L510.22,324.66 L510.72,324.55 L511.23,324.42 L511.73,324.27 L512.24,324.12 L512.74,323.95 L513.24,323.78 L513.75,323.60 L514.25,323.42 L514.76,323.24 L515.26,323.07 L515.76,322.90 L516.27,322.75 L516.77,322.60 L517.28,322.47 L517.78,322.36 L518.28,322.26 L518.79,322.19 L519.29,322.13 L519.80,322.10 L520.30,322.08 L520.80,322.09 L521.31,322.11 L521.81,322.15 L522.32,322.20 L522.82,322.26 L523.32,322.33 L523.83,322.41 L524.33,322.50 L524.84,322.60 L525.34,322.71 L525.84,322.82 L526.35,322.93 L526.85,323.04 L527.36,323.16 L527.86,323.27 L528.36,323.37 L528.87,323.47 L529.37,323.56 L529.88,323.65 L530.38,323.72 L530.88,323.78 L531.39,323.83 L531.89,323.86 L532.40,323.88 L532.90,323.89 L533.40,323.89 L533.91,323.87 L534.41,323.85 L534.92,323.82 L535.42,323.78 L535.93,323.73 L536.43,323.68 L536.94,323.62 L537.44,323.56 L537.95,323.49 L538.45,323.43 L538.96,323.37 L539.46,323.31 L539.97,323.25 L540.47,323.20 L540.98,323.15 L541.48,323.11 L541.99,323.08 L542.49,323.05 L543.00,323.04 L543.50,323.04" fill="none" stroke="#4f86d6" stroke-width="0.75" stroke-linejoin="round" stroke-linecap="round" />
<path d="M402.00,316.60 L402.51,316.94 L403.03,317.95 L403.54,319.57 L404.06,321.72 L404.57,324.30 L405.09,327.17 L405.60,330.20 L406.11,333.23 L406.63,336.10 L407.14,338.68 L407.66,340.83 L408.17,342.45 L408.69,343.46 L409.20,343.80 L409.71,343.58 L410.23,342.92 L410.74,341.84 L411.25,340.36 L411.77,338.50 L412.28,336.29 L412.79,333.79 L413.30,331.03 L413.82,328.07 L414.33,324.96 L414.84,321.76 L415.36,318.54 L415.87,315.34 L416.38,312.23 L416.90,309.27 L417.41,306.51 L417.92,304.01 L418.43,301.80 L418.95,299.94 L419.46,298.46 L419.97,297.38 L420.49,296.72 L421.00,296.50 L421.50,296.74 L422.01,297.44 L422.51,298.60 L423.02,300.19 L423.52,302.17 L424.03,304.50 L424.53,307.12 L425.04,309.99 L425.54,313.02 L426.05,316.16 L426.55,319.34 L427.06,322.48 L427.56,325.51 L428.07,328.38 L428.57,331.00 L429.08,333.33 L429.58,335.31 L430.09,336.90 L430.59,338.06 L431.10,338.76 L431.60,339.00 L432.11,338.88 L432.63,338.52 L433.14,337.92 L433.65,337.11 L434.17,336.08 L434.68,334.87 L435.19,333.50 L435.70,331.98 L436.22,330.35 L436.73,328.64 L437.24,326.89 L437.76,325.11 L438.27,323.36 L438.78,321.65 L439.30,320.02 L439.81,318.50 L440.32,317.13 L440.83,315.92 L441.35,314.89 L441.86,314.08 L442.37,313.48 L442.89,313.12 L443.40,313.00 L443.90,313.06 L444.40,313.24 L444.90,313.54 L445.40,313.95 L445.90,314.47 L446.40,315.09 L446.90,315.80 L447.40,316.59 L447.90,317.44 L448.40,318.36 L448.90,319.31 L449.40,320.30 L449.90,321.30 L450.40,322.30 L450.90,323.29 L451.40,324.24 L451.90,325.16 L452.40,326.01 L452.90,326.80 L453.40,327.51 L453.90,328.13 L454.40,328.65 L454.90,329.06 L455.40,329.36 L455.90,329.54 L456.40,329.60 L456.90,329.56 L457.41,329.44 L457.91,329.24 L458.41,328.96 L458.92,328.61 L459.42,328.20 L459.93,327.72 L460.43,327.18 L460.93,326.60 L461.44,325.98 L461.94,325.32 L462.44,324.64 L462.95,323.95 L463.45,323.25 L463.96,322.56 L464.46,321.88 L464.96,321.22 L465.47,320.60 L465.97,320.02 L466.47,319.48 L466.98,319.00 L467.48,318.59 L467.99,318.24 L468.49,317.96 L468.99,317.76 L469.50,317.64 L470.00,317.60 L470.50,317.64 L471.01,317.75 L471.51,317.93 L472.02,318.18 L472.52,318.50 L473.02,318.87 L473.53,319.30 L474.03,319.78 L474.54,320.30 L475.04,320.85 L475.54,321.42 L476.05,322.00 L476.55,322.60 L477.06,323.18 L477.56,323.75 L478.06,324.30 L478.57,324.82 L479.07,325.30 L479.58,325.73 L480.08,326.10 L480.58,326.42 L481.09,326.67 L481.59,326.85 L482.10,326.96 L482.60,327.00 L483.11,326.97 L483.63,326.88 L484.14,326.74 L484.65,326.54 L485.17,326.29 L485.68,326.00 L486.19,325.67 L486.70,325.30 L487.22,324.90 L487.73,324.49 L488.24,324.06 L488.76,323.64 L489.27,323.21 L489.78,322.80 L490.30,322.40 L490.81,322.03 L491.32,321.70 L491.83,321.41 L492.35,321.16 L492.86,320.96 L493.37,320.82 L493.89,320.73 L494.40,320.70 L494.90,320.72 L495.41,320.77 L495.91,320.85 L496.42,320.97 L496.92,321.11 L497.42,321.28 L497.93,321.48 L498.43,321.70 L498.94,321.93 L499.44,322.19 L499.94,322.45 L500.45,322.72 L500.95,322.98 L501.46,323.25 L501.96,323.51 L502.46,323.77 L502.97,324.00 L503.47,324.22 L503.98,324.42 L504.48,324.59 L504.98,324.73 L505.49,324.85 L505.99,324.93 L506.50,324.98 L507.00,325.00 L507.50,324.99 L508.01,324.95 L508.51,324.89 L509.02,324.81 L509.52,324.71 L510.02,324.59 L510.53,324.46 L511.03,324.30 L511.54,324.14 L512.04,323.96 L512.54,323.78 L513.05,323.59 L513.55,323.41 L514.06,323.22 L514.56,323.04 L515.06,322.86 L515.57,322.70 L516.07,322.54 L516.58,322.41 L517.08,322.29 L517.58,322.19 L518.09,322.11 L518.59,322.05 L519.10,322.01 L519.60,322.00 L520.10,322.01 L520.61,322.03 L521.11,322.07 L521.62,322.12 L522.12,322.18 L522.62,322.26 L523.13,322.34 L523.63,322.44 L524.14,322.55 L524.64,322.66 L525.14,322.77 L525.65,322.89 L526.15,323.01 L526.66,323.13 L527.16,323.24 L527.66,323.35 L528.17,323.46 L528.67,323.56 L529.18,323.64 L529.68,323.72 L530.18,323.78 L530.69,323.83 L531.19,323.87 L531.70,323.89 L532.20,323.90 L532.70,323.89 L533.21,323.88 L533.71,323.86 L534.22,323.82 L534.72,323.78 L535.23,323.73 L535.73,323.68 L536.24,323.61 L536.74,323.55 L537.25,323.48 L537.75,323.42 L538.26,323.35 L538.76,323.29 L539.27,323.23 L539.77,323.17 L540.28,323.12 L540.78,323.08 L541.29,323.04 L541.79,323.02 L542.30,323.01 L542.80,323.00" fill="none" stroke="#4f86d6" stroke-width="0.75" stroke-linejoin="round" stroke-linecap="round" />
<path d="M402.00,316.60 L402.50,316.91 L403.00,317.81 L403.50,319.27 L404.00,321.23 L404.50,323.60 L405.00,326.28 L405.50,329.14 L406.00,332.07 L406.50,334.93 L407.00,337.60 L407.50,339.97 L408.00,341.93 L408.50,343.39 L409.00,344.30 L409.50,344.60 L410.01,344.37 L410.53,343.69 L411.04,342.57 L411.55,341.02 L412.07,339.09 L412.58,336.80 L413.09,334.19 L413.60,331.32 L414.12,328.24 L414.63,325.01 L415.14,321.69 L415.66,318.33 L416.17,315.00 L416.68,311.77 L417.20,308.69 L417.71,305.82 L418.22,303.22 L418.73,300.93 L419.25,298.99 L419.76,297.45 L420.27,296.32 L420.79,295.64 L421.30,295.41 L421.80,295.66 L422.31,296.39 L422.81,297.60 L423.32,299.25 L423.82,301.31 L424.33,303.73 L424.83,306.46 L425.34,309.44 L425.84,312.59 L426.35,315.86 L426.85,319.16 L427.36,322.43 L427.86,325.59 L428.37,328.56 L428.87,331.29 L429.38,333.71 L429.88,335.77 L430.39,337.42 L430.89,338.63 L431.40,339.37 L431.90,339.61 L432.41,339.49 L432.93,339.11 L433.44,338.49 L433.95,337.64 L434.47,336.58 L434.98,335.32 L435.49,333.89 L436.00,332.31 L436.52,330.62 L437.03,328.84 L437.54,327.01 L438.06,325.17 L438.57,323.34 L439.08,321.56 L439.60,319.87 L440.11,318.30 L440.62,316.86 L441.13,315.60 L441.65,314.54 L442.16,313.69 L442.67,313.07 L443.19,312.70 L443.70,312.57 L444.20,312.63 L444.70,312.82 L445.20,313.13 L445.70,313.56 L446.20,314.10 L446.70,314.74 L447.20,315.48 L447.70,316.30 L448.20,317.19 L448.70,318.14 L449.20,319.14 L449.70,320.16 L450.20,321.20 L450.70,322.24 L451.20,323.27 L451.70,324.26 L452.20,325.22 L452.70,326.11 L453.20,326.93 L453.70,327.67 L454.20,328.31 L454.70,328.85 L455.20,329.28 L455.70,329.59 L456.20,329.77 L456.70,329.84 L457.20,329.79 L457.71,329.67 L458.21,329.46 L458.71,329.17 L459.22,328.81 L459.72,328.38 L460.23,327.88 L460.73,327.32 L461.23,326.72 L461.74,326.07 L462.24,325.39 L462.74,324.68 L463.25,323.96 L463.75,323.23 L464.26,322.51 L464.76,321.81 L465.26,321.12 L465.77,320.48 L466.27,319.87 L466.77,319.31 L467.28,318.82 L467.78,318.38 L468.29,318.02 L468.79,317.73 L469.29,317.52 L469.80,317.40 L470.30,317.36 L470.80,317.39 L471.31,317.51 L471.81,317.70 L472.32,317.96 L472.82,318.29 L473.32,318.68 L473.83,319.13 L474.33,319.62 L474.84,320.16 L475.34,320.73 L475.84,321.33 L476.35,321.94 L476.85,322.55 L477.36,323.16 L477.86,323.75 L478.36,324.33 L478.87,324.86 L479.37,325.36 L479.88,325.81 L480.38,326.20 L480.88,326.53 L481.39,326.79 L481.89,326.98 L482.40,327.09 L482.90,327.13 L483.41,327.10 L483.93,327.01 L484.44,326.86 L484.95,326.66 L485.47,326.40 L485.98,326.09 L486.49,325.75 L487.00,325.36 L487.52,324.95 L488.03,324.52 L488.54,324.08 L489.06,323.63 L489.57,323.19 L490.08,322.76 L490.60,322.35 L491.11,321.97 L491.62,321.62 L492.13,321.31 L492.65,321.06 L493.16,320.85 L493.67,320.70 L494.19,320.61 L494.70,320.58 L495.20,320.60 L495.71,320.65 L496.21,320.74 L496.72,320.86 L497.22,321.01 L497.72,321.19 L498.23,321.39 L498.73,321.62 L499.24,321.86 L499.74,322.13 L500.24,322.40 L500.75,322.68 L501.25,322.96 L501.76,323.23 L502.26,323.51 L502.76,323.77 L503.27,324.01 L503.77,324.24 L504.28,324.45 L504.78,324.62 L505.28,324.78 L505.79,324.89 L506.29,324.98 L506.80,325.03 L507.30,325.05 L507.80,325.04 L508.31,325.00 L508.81,324.94 L509.32,324.86 L509.82,324.75 L510.32,324.63 L510.83,324.49 L511.33,324.33 L511.84,324.16 L512.34,323.97 L512.84,323.78 L513.35,323.59 L513.85,323.39 L514.36,323.20 L514.86,323.01 L515.36,322.83 L515.87,322.66 L516.37,322.50 L516.88,322.35 L517.38,322.23 L517.88,322.12 L518.39,322.04 L518.89,321.98 L519.40,321.94 L519.90,321.93 L520.40,321.94 L520.91,321.96 L521.41,322.00 L521.92,322.05 L522.42,322.12 L522.92,322.20 L523.43,322.29 L523.93,322.39 L524.44,322.50 L524.94,322.61 L525.44,322.73 L525.95,322.86 L526.45,322.98 L526.96,323.11 L527.46,323.23 L527.96,323.34 L528.47,323.45 L528.97,323.55 L529.48,323.64 L529.98,323.72 L530.48,323.79 L530.99,323.84 L531.49,323.88 L532.00,323.90 L532.50,323.91 L533.00,323.90 L533.51,323.89 L534.01,323.86 L534.52,323.83 L535.02,323.78 L535.53,323.73 L536.03,323.67 L536.54,323.61 L537.04,323.54 L537.55,323.47 L538.05,323.41 L538.56,323.34 L539.06,323.27 L539.57,323.21 L540.07,323.15 L540.58,323.10 L541.08,323.05 L541.59,323.02 L542.09,322.99 L542.60,322.98 L543.10,322.97" fill="none" stroke="#4f86d6" stroke-width="0.75" stroke-linejoin="round" stroke-linecap="round" />
<path d="M402.10,291.80 L402.63,292.54 L403.16,294.74 L403.69,298.27 L404.21,302.97 L404.74,308.60 L405.27,314.87 L405.80,321.47 L406.33,328.07 L406.86,334.34 L407.39,339.97 L407.91,344.67 L408.44,348.20 L408.97,350.40 L409.50,351.14 L410.00,350.89 L410.51,350.15 L411.01,348.94 L411.52,347.28 L412.02,345.20 L412.53,342.77 L413.03,340.02 L413.54,337.03 L414.04,333.85 L414.55,330.56 L415.05,327.24 L415.56,323.95 L416.06,320.77 L416.57,317.78 L417.07,315.03 L417.58,312.60 L418.08,310.52 L418.59,308.86 L419.09,307.65 L419.60,306.91 L420.10,306.66 L420.61,306.80 L421.13,307.22 L421.64,307.91 L422.15,308.86 L422.67,310.05 L423.18,311.46 L423.69,313.06 L424.20,314.82 L424.72,316.72 L425.23,318.70 L425.74,320.75 L426.26,322.81 L426.77,324.86 L427.28,326.84 L427.80,328.74 L428.31,330.50 L428.82,332.10 L429.33,333.51 L429.85,334.70 L430.36,335.65 L430.87,336.34 L431.39,336.76 L431.90,336.90 L432.40,336.77 L432.91,336.40 L433.41,335.78 L433.92,334.93 L434.42,333.88 L434.93,332.64 L435.43,331.24 L435.94,329.72 L436.44,328.10 L436.95,326.43 L437.45,324.73 L437.96,323.06 L438.46,321.44 L438.97,319.92 L439.47,318.52 L439.98,317.28 L440.48,316.23 L440.99,315.38 L441.49,314.76 L442.00,314.39 L442.50,314.26 L443.02,314.34 L443.53,314.58 L444.05,314.97 L444.57,315.50 L445.09,316.17 L445.60,316.96 L446.12,317.87 L446.64,318.86 L447.16,319.93 L447.67,321.05 L448.19,322.20 L448.71,323.36 L449.23,324.51 L449.74,325.63 L450.26,326.70 L450.78,327.69 L451.30,328.60 L451.81,329.39 L452.33,330.06 L452.85,330.59 L453.37,330.98 L453.88,331.22 L454.40,331.30 L454.91,331.23 L455.43,331.01 L455.94,330.64 L456.45,330.14 L456.97,329.52 L457.48,328.79 L458.00,327.96 L458.51,327.04 L459.02,326.07 L459.54,325.06 L460.05,324.02 L460.56,322.98 L461.08,321.97 L461.59,321.00 L462.10,320.08 L462.62,319.25 L463.13,318.52 L463.65,317.90 L464.16,317.40 L464.67,317.03 L465.19,316.81 L465.70,316.74 L466.21,316.80 L466.72,316.97 L467.23,317.24 L467.73,317.63 L468.24,318.10 L468.75,318.67 L469.26,319.31 L469.77,320.02 L470.28,320.78 L470.79,321.58 L471.30,322.41 L471.80,323.23 L472.31,324.06 L472.82,324.86 L473.33,325.62 L473.84,326.33 L474.35,326.97 L474.86,327.54 L475.37,328.01 L475.87,328.40 L476.38,328.67 L476.89,328.84 L477.40,328.90 L477.90,328.85 L478.40,328.71 L478.90,328.48 L479.40,328.17 L479.90,327.77 L480.40,327.30 L480.90,326.77 L481.40,326.18 L481.90,325.55 L482.40,324.89 L482.90,324.20 L483.40,323.52 L483.90,322.83 L484.40,322.17 L484.90,321.54 L485.40,320.95 L485.90,320.42 L486.40,319.95 L486.90,319.55 L487.40,319.24 L487.90,319.01 L488.40,318.87 L488.90,318.82 L489.41,318.86 L489.93,318.99 L490.44,319.19 L490.95,319.47 L491.47,319.82 L491.98,320.23 L492.50,320.69 L493.01,321.21 L493.52,321.75 L494.04,322.32 L494.55,322.90 L495.06,323.48 L495.58,324.05 L496.09,324.59 L496.60,325.11 L497.12,325.57 L497.63,325.98 L498.15,326.33 L498.66,326.61 L499.17,326.81 L499.69,326.94 L500.20,326.98 L500.72,326.95 L501.24,326.85 L501.75,326.70 L502.27,326.48 L502.79,326.22 L503.31,325.90 L503.83,325.55 L504.35,325.16 L504.86,324.74 L505.38,324.30 L505.90,323.86 L506.42,323.42 L506.94,322.98 L507.45,322.56 L507.97,322.17 L508.49,321.82 L509.01,321.50 L509.53,321.24 L510.05,321.02 L510.56,320.87 L511.08,320.77 L511.60,320.74 L512.12,320.76 L512.63,320.83 L513.15,320.94 L513.67,321.08 L514.19,321.27 L514.70,321.49 L515.22,321.74 L515.74,322.01 L516.26,322.31 L516.77,322.62 L517.29,322.94 L517.81,323.26 L518.33,323.58 L518.84,323.89 L519.36,324.19 L519.88,324.46 L520.40,324.71 L520.91,324.93 L521.43,325.12 L521.95,325.26 L522.47,325.37 L522.98,325.44 L523.50,325.46 L524.00,325.44 L524.51,325.38 L525.01,325.27 L525.52,325.13 L526.02,324.96 L526.53,324.75 L527.03,324.52 L527.54,324.27 L528.04,324.00 L528.55,323.72 L529.05,323.44 L529.56,323.16 L530.06,322.89 L530.57,322.64 L531.07,322.41 L531.58,322.20 L532.08,322.03 L532.59,321.89 L533.09,321.78 L533.60,321.72 L534.10,321.70 L534.60,321.72 L535.10,321.78 L535.60,321.88 L536.10,322.02 L536.60,322.19 L537.10,322.38 L537.60,322.59 L538.10,322.82 L538.60,323.06 L539.10,323.30 L539.60,323.53 L540.10,323.74 L540.60,323.93 L541.10,324.10 L541.60,324.24 L542.10,324.34 L542.60,324.40 L543.10,324.42" fill="none" stroke="#c8141e" stroke-width="0.85" stroke-linejoin="round" stroke-linecap="round" />
<path d="M402.10,291.80 L402.62,292.79 L403.15,295.71 L403.67,300.38 L404.19,306.54 L404.72,313.83 L405.24,321.82 L405.76,330.04 L406.28,338.03 L406.81,345.32 L407.33,351.47 L407.85,356.15 L408.38,359.07 L408.90,360.06 L409.40,359.73 L409.91,358.75 L410.41,357.14 L410.92,354.94 L411.42,352.19 L411.93,348.96 L412.43,345.32 L412.94,341.36 L413.44,337.15 L413.95,332.79 L414.45,328.39 L414.96,324.03 L415.46,319.82 L415.97,315.86 L416.47,312.22 L416.98,308.99 L417.48,306.24 L417.99,304.04 L418.49,302.43 L419.00,301.45 L419.50,301.12 L420.01,301.31 L420.53,301.86 L421.04,302.78 L421.55,304.04 L422.07,305.62 L422.58,307.48 L423.09,309.60 L423.60,311.94 L424.12,314.45 L424.63,317.08 L425.14,319.79 L425.66,322.52 L426.17,325.23 L426.68,327.86 L427.20,330.37 L427.71,332.71 L428.22,334.83 L428.73,336.70 L429.25,338.27 L429.76,339.53 L430.27,340.45 L430.79,341.00 L431.30,341.19 L431.80,341.02 L432.31,340.52 L432.81,339.70 L433.32,338.58 L433.82,337.19 L434.33,335.54 L434.83,333.69 L435.34,331.67 L435.84,329.53 L436.35,327.31 L436.85,325.07 L437.36,322.85 L437.86,320.71 L438.37,318.69 L438.87,316.84 L439.38,315.20 L439.88,313.80 L440.39,312.68 L440.89,311.86 L441.40,311.36 L441.90,311.19 L442.42,311.30 L442.93,311.61 L443.45,312.13 L443.97,312.84 L444.49,313.72 L445.00,314.78 L445.52,315.97 L446.04,317.29 L446.56,318.70 L447.07,320.18 L447.59,321.71 L448.11,323.25 L448.63,324.78 L449.14,326.26 L449.66,327.67 L450.18,328.99 L450.70,330.19 L451.21,331.24 L451.73,332.13 L452.25,332.84 L452.77,333.35 L453.28,333.66 L453.80,333.77 L454.31,333.67 L454.83,333.38 L455.34,332.90 L455.85,332.24 L456.37,331.41 L456.88,330.44 L457.40,329.34 L457.91,328.13 L458.42,326.84 L458.94,325.50 L459.45,324.12 L459.96,322.75 L460.48,321.41 L460.99,320.12 L461.50,318.91 L462.02,317.81 L462.53,316.83 L463.05,316.01 L463.56,315.35 L464.07,314.87 L464.59,314.58 L465.10,314.48 L465.61,314.55 L466.12,314.78 L466.63,315.14 L467.13,315.65 L467.64,316.28 L468.15,317.04 L468.66,317.89 L469.17,318.83 L469.68,319.84 L470.19,320.89 L470.70,321.98 L471.20,323.08 L471.71,324.17 L472.22,325.23 L472.73,326.24 L473.24,327.18 L473.75,328.03 L474.26,328.78 L474.77,329.42 L475.27,329.92 L475.78,330.29 L476.29,330.51 L476.80,330.59 L477.30,330.53 L477.80,330.34 L478.30,330.04 L478.80,329.62 L479.30,329.09 L479.80,328.47 L480.30,327.76 L480.80,326.98 L481.30,326.15 L481.80,325.27 L482.30,324.37 L482.80,323.46 L483.30,322.55 L483.80,321.68 L484.30,320.84 L484.80,320.06 L485.30,319.35 L485.80,318.73 L486.30,318.21 L486.80,317.79 L487.30,317.48 L487.80,317.30 L488.30,317.23 L488.81,317.29 L489.33,317.45 L489.84,317.72 L490.35,318.09 L490.87,318.55 L491.38,319.10 L491.90,319.72 L492.41,320.39 L492.92,321.12 L493.44,321.87 L493.95,322.64 L494.46,323.41 L494.98,324.16 L495.49,324.89 L496.00,325.56 L496.52,326.18 L497.03,326.73 L497.55,327.19 L498.06,327.56 L498.57,327.83 L499.09,327.99 L499.60,328.05 L500.12,328.00 L500.64,327.88 L501.15,327.67 L501.67,327.39 L502.19,327.04 L502.71,326.62 L503.23,326.15 L503.75,325.63 L504.26,325.08 L504.78,324.50 L505.30,323.91 L505.82,323.32 L506.34,322.75 L506.85,322.19 L507.37,321.68 L507.89,321.20 L508.41,320.79 L508.93,320.43 L509.45,320.15 L509.96,319.95 L510.48,319.82 L511.00,319.78 L511.52,319.81 L512.03,319.89 L512.55,320.04 L513.07,320.23 L513.59,320.48 L514.10,320.77 L514.62,321.10 L515.14,321.47 L515.66,321.86 L516.17,322.27 L516.69,322.69 L517.21,323.12 L517.73,323.54 L518.24,323.95 L518.76,324.34 L519.28,324.71 L519.80,325.04 L520.31,325.33 L520.83,325.58 L521.35,325.77 L521.87,325.92 L522.38,326.00 L522.90,326.03 L523.40,326.00 L523.91,325.92 L524.41,325.79 L524.92,325.60 L525.42,325.37 L525.93,325.09 L526.43,324.79 L526.94,324.45 L527.44,324.10 L527.95,323.73 L528.45,323.35 L528.96,322.99 L529.46,322.63 L529.97,322.30 L530.47,321.99 L530.98,321.71 L531.48,321.48 L531.99,321.30 L532.49,321.16 L533.00,321.08 L533.50,321.05 L534.00,321.08 L534.50,321.16 L535.00,321.29 L535.50,321.47 L536.00,321.69 L536.50,321.95 L537.00,322.24 L537.50,322.54 L538.00,322.85 L538.50,323.16 L539.00,323.47 L539.50,323.75 L540.00,324.01 L540.50,324.23 L541.00,324.41 L541.50,324.55 L542.00,324.63 L542.50,324.65" fill="none" stroke="#c8141e" stroke-width="0.85" stroke-linejoin="round" stroke-linecap="round" />
<path d="M402.10,291.80 L402.61,292.49 L403.13,294.51 L403.64,297.79 L404.15,302.18 L404.67,307.49 L405.18,313.49 L405.69,319.90 L406.21,326.47 L406.72,332.88 L407.23,338.88 L407.75,344.19 L408.26,348.58 L408.77,351.86 L409.29,353.88 L409.80,354.57 L410.30,354.29 L410.81,353.46 L411.31,352.09 L411.82,350.22 L412.32,347.89 L412.83,345.15 L413.33,342.06 L413.84,338.69 L414.34,335.12 L414.85,331.42 L415.35,327.68 L415.86,323.98 L416.36,320.41 L416.87,317.04 L417.37,313.95 L417.88,311.21 L418.38,308.88 L418.89,307.01 L419.39,305.64 L419.90,304.81 L420.40,304.53 L420.91,304.69 L421.43,305.16 L421.94,305.94 L422.45,307.01 L422.97,308.35 L423.48,309.93 L423.99,311.73 L424.50,313.71 L425.02,315.84 L425.53,318.08 L426.04,320.38 L426.56,322.70 L427.07,325.00 L427.58,327.24 L428.10,329.37 L428.61,331.35 L429.12,333.15 L429.63,334.73 L430.15,336.07 L430.66,337.14 L431.17,337.92 L431.69,338.39 L432.20,338.55 L432.70,338.41 L433.21,337.98 L433.71,337.29 L434.22,336.34 L434.72,335.15 L435.23,333.76 L435.73,332.18 L436.24,330.47 L436.74,328.65 L437.25,326.77 L437.75,324.86 L438.26,322.98 L438.76,321.16 L439.27,319.45 L439.77,317.87 L440.28,316.48 L440.78,315.29 L441.29,314.34 L441.79,313.65 L442.30,313.22 L442.80,313.08 L443.32,313.17 L443.83,313.44 L444.35,313.87 L444.87,314.48 L445.39,315.23 L445.90,316.12 L446.42,317.14 L446.94,318.26 L447.46,319.46 L447.97,320.71 L448.49,322.01 L449.01,323.32 L449.53,324.62 L450.04,325.87 L450.56,327.07 L451.08,328.19 L451.60,329.21 L452.11,330.10 L452.63,330.85 L453.15,331.46 L453.67,331.89 L454.18,332.16 L454.70,332.25 L455.21,332.17 L455.73,331.92 L456.24,331.51 L456.75,330.95 L457.27,330.25 L457.78,329.42 L458.30,328.49 L458.81,327.46 L459.32,326.37 L459.84,325.23 L460.35,324.06 L460.86,322.89 L461.38,321.75 L461.89,320.66 L462.40,319.63 L462.92,318.70 L463.43,317.87 L463.95,317.17 L464.46,316.61 L464.97,316.20 L465.49,315.95 L466.00,315.87 L466.51,315.93 L467.02,316.12 L467.53,316.44 L468.03,316.87 L468.54,317.40 L469.05,318.04 L469.56,318.77 L470.07,319.56 L470.58,320.42 L471.09,321.32 L471.60,322.24 L472.10,323.18 L472.61,324.10 L473.12,325.00 L473.63,325.86 L474.14,326.65 L474.65,327.38 L475.16,328.02 L475.67,328.55 L476.17,328.98 L476.68,329.30 L477.19,329.49 L477.70,329.55 L478.20,329.50 L478.70,329.34 L479.20,329.08 L479.70,328.72 L480.20,328.28 L480.70,327.75 L481.20,327.15 L481.70,326.49 L482.20,325.78 L482.70,325.03 L483.20,324.27 L483.70,323.49 L484.20,322.73 L484.70,321.98 L485.20,321.27 L485.70,320.61 L486.20,320.01 L486.70,319.48 L487.20,319.04 L487.70,318.68 L488.20,318.42 L488.70,318.26 L489.20,318.21 L489.71,318.26 L490.23,318.40 L490.74,318.62 L491.25,318.94 L491.77,319.33 L492.28,319.79 L492.80,320.32 L493.31,320.89 L493.82,321.51 L494.34,322.15 L494.85,322.80 L495.36,323.45 L495.88,324.09 L496.39,324.71 L496.90,325.28 L497.42,325.81 L497.93,326.27 L498.45,326.66 L498.96,326.98 L499.47,327.20 L499.99,327.34 L500.50,327.39 L501.02,327.35 L501.54,327.25 L502.05,327.07 L502.57,326.83 L503.09,326.53 L503.61,326.18 L504.13,325.78 L504.65,325.34 L505.16,324.87 L505.68,324.38 L506.20,323.88 L506.72,323.38 L507.24,322.89 L507.75,322.42 L508.27,321.98 L508.79,321.58 L509.31,321.23 L509.83,320.93 L510.35,320.69 L510.86,320.51 L511.38,320.41 L511.90,320.37 L512.42,320.39 L512.93,320.47 L513.45,320.59 L513.97,320.76 L514.49,320.97 L515.00,321.21 L515.52,321.49 L516.04,321.80 L516.56,322.14 L517.07,322.48 L517.59,322.84 L518.11,323.21 L518.63,323.57 L519.14,323.91 L519.66,324.25 L520.18,324.56 L520.70,324.84 L521.21,325.08 L521.73,325.29 L522.25,325.46 L522.77,325.58 L523.28,325.66 L523.80,325.68 L524.30,325.66 L524.81,325.59 L525.31,325.47 L525.82,325.31 L526.32,325.12 L526.83,324.88 L527.33,324.62 L527.84,324.34 L528.34,324.04 L528.85,323.72 L529.35,323.41 L529.86,323.09 L530.36,322.79 L530.87,322.51 L531.37,322.25 L531.88,322.01 L532.38,321.82 L532.89,321.66 L533.39,321.54 L533.90,321.47 L534.40,321.45 L534.90,321.47 L535.40,321.54 L535.90,321.65 L536.40,321.81 L536.90,322.00 L537.40,322.21 L537.90,322.46 L538.40,322.71 L538.90,322.98 L539.40,323.25 L539.90,323.50 L540.40,323.75 L540.90,323.96 L541.40,324.15 L541.90,324.31 L542.40,324.42 L542.90,324.49 L543.40,324.51" fill="none" stroke="#c8141e" stroke-width="0.85" stroke-linejoin="round" stroke-linecap="round" />
<path d="M402.10,291.80 L402.64,292.75 L403.18,295.53 L403.72,299.99 L404.25,305.87 L404.79,312.83 L405.33,320.46 L405.87,328.31 L406.41,335.94 L406.95,342.90 L407.48,348.78 L408.02,353.24 L408.56,356.02 L409.10,356.97 L409.60,356.67 L410.11,355.77 L410.61,354.30 L411.12,352.29 L411.62,349.77 L412.13,346.82 L412.63,343.49 L413.14,339.86 L413.64,336.01 L414.15,332.02 L414.65,327.99 L415.16,324.00 L415.66,320.15 L416.17,316.52 L416.67,313.19 L417.18,310.24 L417.68,307.72 L418.19,305.71 L418.69,304.24 L419.20,303.34 L419.70,303.04 L420.21,303.21 L420.73,303.72 L421.24,304.56 L421.75,305.71 L422.27,307.15 L422.78,308.86 L423.29,310.80 L423.80,312.94 L424.32,315.23 L424.83,317.64 L425.34,320.12 L425.86,322.62 L426.37,325.10 L426.88,327.51 L427.40,329.81 L427.91,331.94 L428.42,333.89 L428.93,335.59 L429.45,337.04 L429.96,338.19 L430.47,339.03 L430.99,339.53 L431.50,339.70 L432.00,339.55 L432.51,339.10 L433.01,338.35 L433.52,337.32 L434.02,336.04 L434.53,334.54 L435.03,332.84 L435.54,330.99 L436.04,329.03 L436.55,327.01 L437.05,324.95 L437.56,322.93 L438.06,320.97 L438.57,319.12 L439.07,317.42 L439.58,315.92 L440.08,314.64 L440.59,313.61 L441.09,312.86 L441.60,312.41 L442.10,312.25 L442.62,312.35 L443.13,312.64 L443.65,313.11 L444.17,313.76 L444.69,314.57 L445.20,315.53 L445.72,316.63 L446.24,317.83 L446.76,319.13 L447.27,320.48 L447.79,321.88 L448.31,323.29 L448.83,324.69 L449.34,326.04 L449.86,327.34 L450.38,328.54 L450.90,329.64 L451.41,330.60 L451.93,331.41 L452.45,332.06 L452.97,332.53 L453.48,332.82 L454.00,332.91 L454.51,332.83 L455.03,332.56 L455.54,332.12 L456.05,331.51 L456.57,330.76 L457.08,329.87 L457.60,328.86 L458.11,327.75 L458.62,326.57 L459.14,325.34 L459.65,324.09 L460.16,322.83 L460.68,321.60 L461.19,320.42 L461.70,319.32 L462.22,318.31 L462.73,317.42 L463.25,316.66 L463.76,316.06 L464.27,315.62 L464.79,315.35 L465.30,315.26 L465.81,315.33 L466.32,315.53 L466.83,315.87 L467.33,316.33 L467.84,316.91 L468.35,317.60 L468.86,318.38 L469.37,319.24 L469.88,320.16 L470.39,321.13 L470.90,322.13 L471.40,323.14 L471.91,324.13 L472.42,325.10 L472.93,326.02 L473.44,326.88 L473.95,327.66 L474.46,328.35 L474.97,328.93 L475.47,329.39 L475.98,329.73 L476.49,329.94 L477.00,330.00 L477.50,329.95 L478.00,329.78 L478.50,329.50 L479.00,329.12 L479.50,328.63 L480.00,328.07 L480.50,327.42 L481.00,326.71 L481.50,325.94 L482.00,325.14 L482.50,324.31 L483.00,323.48 L483.50,322.65 L484.00,321.85 L484.50,321.08 L485.00,320.37 L485.50,319.72 L486.00,319.15 L486.50,318.67 L487.00,318.29 L487.50,318.01 L488.00,317.84 L488.50,317.78 L489.01,317.83 L489.53,317.98 L490.04,318.23 L490.55,318.57 L491.07,318.99 L491.58,319.49 L492.10,320.06 L492.61,320.67 L493.12,321.34 L493.64,322.03 L494.15,322.73 L494.66,323.43 L495.18,324.12 L495.69,324.79 L496.20,325.40 L496.72,325.97 L497.23,326.47 L497.75,326.89 L498.26,327.23 L498.77,327.48 L499.29,327.63 L499.80,327.68 L500.32,327.64 L500.84,327.52 L501.35,327.34 L501.87,327.08 L502.39,326.75 L502.91,326.37 L503.43,325.94 L503.95,325.47 L504.46,324.96 L504.98,324.43 L505.50,323.89 L506.02,323.36 L506.54,322.83 L507.05,322.32 L507.57,321.85 L508.09,321.42 L508.61,321.03 L509.13,320.71 L509.65,320.45 L510.16,320.26 L510.68,320.15 L511.20,320.11 L511.72,320.14 L512.23,320.22 L512.75,320.35 L513.27,320.53 L513.79,320.75 L514.30,321.02 L514.82,321.32 L515.34,321.66 L515.86,322.01 L516.37,322.39 L516.89,322.78 L517.41,323.17 L517.93,323.55 L518.44,323.93 L518.96,324.29 L519.48,324.62 L520.00,324.93 L520.51,325.19 L521.03,325.42 L521.55,325.60 L522.07,325.73 L522.58,325.81 L523.10,325.83 L523.60,325.81 L524.11,325.73 L524.61,325.61 L525.12,325.44 L525.62,325.23 L526.13,324.98 L526.63,324.69 L527.14,324.39 L527.64,324.06 L528.15,323.72 L528.65,323.38 L529.16,323.05 L529.66,322.72 L530.17,322.41 L530.67,322.13 L531.18,321.88 L531.68,321.67 L532.19,321.50 L532.69,321.38 L533.20,321.30 L533.70,321.27 L534.20,321.30 L534.70,321.37 L535.20,321.50 L535.70,321.66 L536.20,321.86 L536.70,322.10 L537.20,322.36 L537.70,322.64 L538.20,322.92 L538.70,323.21 L539.20,323.49 L539.70,323.75 L540.20,323.98 L540.70,324.19 L541.20,324.35 L541.70,324.47 L542.20,324.55 L542.70,324.57" fill="none" stroke="#c8141e" stroke-width="0.85" stroke-linejoin="round" stroke-linecap="round" />
<path d="M402.10,291.80 L402.62,292.63 L403.14,295.08 L403.66,299.02 L404.19,304.26 L404.71,310.54 L405.23,317.53 L405.75,324.90 L406.27,332.27 L406.79,339.26 L407.31,345.54 L407.84,350.78 L408.36,354.72 L408.88,357.17 L409.40,358.00 L409.90,357.69 L410.41,356.76 L410.91,355.25 L411.42,353.17 L411.92,350.58 L412.43,347.53 L412.93,344.10 L413.44,340.36 L413.94,336.39 L414.45,332.28 L414.95,328.12 L415.46,324.01 L415.96,320.04 L416.47,316.30 L416.97,312.87 L417.48,309.82 L417.98,307.23 L418.49,305.15 L418.99,303.64 L419.50,302.71 L420.00,302.40 L420.51,302.58 L421.03,303.10 L421.54,303.96 L422.05,305.15 L422.57,306.64 L423.08,308.40 L423.59,310.40 L424.10,312.60 L424.62,314.97 L425.13,317.45 L425.64,320.01 L426.16,322.59 L426.67,325.15 L427.18,327.63 L427.70,330.00 L428.21,332.20 L428.72,334.20 L429.23,335.96 L429.75,337.45 L430.26,338.64 L430.77,339.50 L431.29,340.02 L431.80,340.20 L432.30,340.04 L432.81,339.57 L433.31,338.80 L433.82,337.74 L434.32,336.42 L434.83,334.87 L435.33,333.12 L435.84,331.22 L436.34,329.20 L436.85,327.11 L437.35,324.99 L437.86,322.90 L438.36,320.88 L438.87,318.97 L439.37,317.23 L439.88,315.68 L440.38,314.36 L440.89,313.30 L441.39,312.53 L441.90,312.06 L442.40,311.90 L442.92,312.00 L443.43,312.29 L443.95,312.78 L444.47,313.45 L444.99,314.29 L445.50,315.28 L446.02,316.41 L446.54,317.65 L447.06,318.98 L447.57,320.38 L448.09,321.82 L448.61,323.28 L449.13,324.72 L449.64,326.12 L450.16,327.45 L450.68,328.69 L451.20,329.82 L451.71,330.81 L452.23,331.65 L452.75,332.32 L453.27,332.81 L453.78,333.10 L454.30,333.20 L454.81,333.11 L455.33,332.83 L455.84,332.38 L456.35,331.76 L456.87,330.98 L457.38,330.06 L457.90,329.02 L458.41,327.88 L458.92,326.66 L459.44,325.40 L459.95,324.10 L460.46,322.80 L460.98,321.54 L461.49,320.32 L462.00,319.18 L462.52,318.14 L463.03,317.22 L463.55,316.44 L464.06,315.82 L464.57,315.37 L465.09,315.09 L465.60,315.00 L466.11,315.07 L466.62,315.28 L467.13,315.63 L467.63,316.11 L468.14,316.70 L468.65,317.41 L469.16,318.22 L469.67,319.10 L470.18,320.05 L470.69,321.05 L471.20,322.08 L471.70,323.12 L472.21,324.15 L472.72,325.15 L473.23,326.10 L473.74,326.98 L474.25,327.79 L474.76,328.50 L475.27,329.09 L475.77,329.57 L476.28,329.92 L476.79,330.13 L477.30,330.20 L477.80,330.14 L478.30,329.97 L478.80,329.68 L479.30,329.28 L479.80,328.79 L480.30,328.20 L480.80,327.53 L481.30,326.80 L481.80,326.01 L482.30,325.18 L482.80,324.33 L483.30,323.47 L483.80,322.62 L484.30,321.79 L484.80,321.00 L485.30,320.27 L485.80,319.60 L486.30,319.01 L486.80,318.52 L487.30,318.12 L487.80,317.83 L488.30,317.66 L488.80,317.60 L489.31,317.65 L489.83,317.81 L490.34,318.06 L490.85,318.41 L491.37,318.85 L491.88,319.36 L492.40,319.94 L492.91,320.58 L493.42,321.26 L493.94,321.97 L494.45,322.70 L494.96,323.43 L495.48,324.14 L495.99,324.82 L496.50,325.46 L497.02,326.04 L497.53,326.55 L498.05,326.99 L498.56,327.34 L499.07,327.59 L499.59,327.75 L500.10,327.80 L500.62,327.76 L501.14,327.64 L501.65,327.45 L502.17,327.18 L502.69,326.85 L503.21,326.45 L503.73,326.01 L504.25,325.52 L504.76,325.00 L505.28,324.46 L505.80,323.90 L506.32,323.34 L506.84,322.80 L507.35,322.28 L507.87,321.79 L508.39,321.35 L508.91,320.95 L509.43,320.62 L509.95,320.35 L510.46,320.16 L510.98,320.04 L511.50,320.00 L512.02,320.03 L512.53,320.11 L513.05,320.24 L513.57,320.43 L514.09,320.66 L514.60,320.94 L515.12,321.25 L515.64,321.59 L516.16,321.96 L516.67,322.35 L517.19,322.75 L517.71,323.15 L518.23,323.55 L518.74,323.94 L519.26,324.31 L519.78,324.65 L520.30,324.96 L520.81,325.24 L521.33,325.47 L521.85,325.66 L522.37,325.79 L522.88,325.87 L523.40,325.90 L523.90,325.87 L524.41,325.80 L524.91,325.67 L525.42,325.49 L525.92,325.27 L526.43,325.02 L526.93,324.72 L527.44,324.41 L527.94,324.07 L528.45,323.73 L528.95,323.37 L529.46,323.03 L529.96,322.69 L530.47,322.38 L530.97,322.08 L531.48,321.83 L531.98,321.61 L532.49,321.43 L532.99,321.30 L533.50,321.23 L534.00,321.20 L534.50,321.23 L535.00,321.30 L535.50,321.43 L536.00,321.60 L536.50,321.81 L537.00,322.05 L537.50,322.32 L538.00,322.60 L538.50,322.90 L539.00,323.20 L539.50,323.48 L540.00,323.75 L540.50,323.99 L541.00,324.20 L541.50,324.37 L542.00,324.50 L542.50,324.57 L543.00,324.60" fill="none" stroke="#c8141e" stroke-width="0.85" stroke-linejoin="round" stroke-linecap="round" />
<path d="M402.10,291.80 L402.61,292.57 L403.11,294.84 L403.62,298.50 L404.13,303.36 L404.64,309.18 L405.14,315.67 L405.65,322.50 L406.16,329.33 L406.66,335.82 L407.17,341.64 L407.68,346.50 L408.19,350.16 L408.69,352.43 L409.20,353.20 L409.70,352.93 L410.21,352.14 L410.71,350.83 L411.22,349.04 L411.72,346.82 L412.23,344.20 L412.73,341.24 L413.24,338.02 L413.74,334.61 L414.25,331.08 L414.75,327.50 L415.26,323.97 L415.76,320.56 L416.27,317.34 L416.77,314.38 L417.28,311.76 L417.78,309.54 L418.29,307.75 L418.79,306.44 L419.30,305.65 L419.80,305.38 L420.31,305.53 L420.83,305.98 L421.34,306.73 L421.85,307.75 L422.37,309.03 L422.88,310.54 L423.39,312.26 L423.90,314.16 L424.42,316.19 L424.93,318.33 L425.44,320.53 L425.96,322.75 L426.47,324.94 L426.98,327.08 L427.50,329.11 L428.01,331.01 L428.52,332.73 L429.03,334.24 L429.55,335.52 L430.06,336.54 L430.57,337.29 L431.09,337.74 L431.60,337.89 L432.10,337.75 L432.61,337.35 L433.11,336.68 L433.62,335.78 L434.12,334.64 L434.63,333.31 L435.13,331.81 L435.64,330.17 L436.14,328.43 L436.65,326.63 L437.15,324.81 L437.66,323.01 L438.16,321.28 L438.67,319.64 L439.17,318.13 L439.68,316.80 L440.18,315.67 L440.69,314.76 L441.19,314.09 L441.70,313.69 L442.20,313.55 L442.72,313.64 L443.23,313.89 L443.75,314.31 L444.27,314.89 L444.79,315.61 L445.30,316.46 L445.82,317.43 L446.34,318.50 L446.86,319.64 L447.37,320.85 L447.89,322.09 L448.41,323.34 L448.93,324.57 L449.44,325.78 L449.96,326.92 L450.48,327.99 L451.00,328.96 L451.51,329.82 L452.03,330.54 L452.55,331.11 L453.07,331.53 L453.58,331.78 L454.10,331.87 L454.61,331.79 L455.13,331.55 L455.64,331.16 L456.15,330.63 L456.67,329.96 L457.18,329.17 L457.70,328.28 L458.21,327.30 L458.72,326.25 L459.24,325.16 L459.75,324.04 L460.26,322.93 L460.78,321.84 L461.29,320.79 L461.80,319.81 L462.32,318.92 L462.83,318.13 L463.35,317.46 L463.86,316.93 L464.37,316.54 L464.89,316.30 L465.40,316.22 L465.91,316.28 L466.42,316.46 L466.93,316.76 L467.43,317.17 L467.94,317.68 L468.45,318.29 L468.96,318.98 L469.47,319.75 L469.98,320.57 L470.49,321.42 L471.00,322.31 L471.50,323.20 L472.01,324.08 L472.52,324.94 L473.03,325.76 L473.54,326.52 L474.05,327.22 L474.56,327.82 L475.07,328.34 L475.57,328.75 L476.08,329.05 L476.59,329.23 L477.10,329.29 L477.60,329.24 L478.10,329.09 L478.60,328.84 L479.10,328.50 L479.60,328.07 L480.10,327.57 L480.60,327.00 L481.10,326.36 L481.60,325.69 L482.10,324.97 L482.60,324.24 L483.10,323.50 L483.60,322.77 L484.10,322.06 L484.60,321.38 L485.10,320.75 L485.60,320.17 L486.10,319.67 L486.60,319.24 L487.10,318.90 L487.60,318.65 L488.10,318.50 L488.60,318.45 L489.11,318.50 L489.63,318.63 L490.14,318.85 L490.65,319.15 L491.17,319.53 L491.68,319.97 L492.20,320.47 L492.71,321.02 L493.22,321.60 L493.74,322.22 L494.25,322.84 L494.76,323.46 L495.28,324.08 L495.79,324.66 L496.30,325.21 L496.82,325.71 L497.33,326.15 L497.85,326.53 L498.36,326.83 L498.87,327.05 L499.39,327.18 L499.90,327.23 L500.42,327.19 L500.94,327.09 L501.45,326.92 L501.97,326.69 L502.49,326.41 L503.01,326.07 L503.53,325.69 L504.05,325.27 L504.56,324.82 L505.08,324.35 L505.60,323.87 L506.12,323.39 L506.64,322.93 L507.15,322.48 L507.67,322.06 L508.19,321.68 L508.71,321.34 L509.23,321.05 L509.75,320.82 L510.26,320.65 L510.78,320.55 L511.30,320.52 L511.82,320.54 L512.33,320.61 L512.85,320.73 L513.37,320.89 L513.89,321.09 L514.40,321.32 L514.92,321.59 L515.44,321.89 L515.96,322.21 L516.47,322.54 L516.99,322.88 L517.51,323.23 L518.03,323.57 L518.54,323.90 L519.06,324.22 L519.58,324.52 L520.10,324.79 L520.61,325.02 L521.13,325.22 L521.65,325.38 L522.17,325.50 L522.68,325.57 L523.20,325.59 L523.70,325.57 L524.21,325.50 L524.71,325.39 L525.22,325.24 L525.72,325.05 L526.23,324.83 L526.73,324.58 L527.24,324.31 L527.74,324.02 L528.25,323.72 L528.75,323.42 L529.26,323.12 L529.76,322.83 L530.27,322.56 L530.77,322.31 L531.28,322.09 L531.78,321.90 L532.29,321.75 L532.79,321.64 L533.30,321.57 L533.80,321.55 L534.30,321.57 L534.80,321.64 L535.30,321.75 L535.80,321.89 L536.30,322.07 L536.80,322.28 L537.30,322.51 L537.80,322.76 L538.30,323.01 L538.80,323.27 L539.30,323.51 L539.80,323.74 L540.30,323.95 L540.80,324.13 L541.30,324.28 L541.80,324.39 L542.30,324.45 L542.80,324.47" fill="none" stroke="#c8141e" stroke-width="0.85" stroke-linejoin="round" stroke-linecap="round" />
<text x="450.9" y="281.0" font-size="6.3" font-weight="bold" text-anchor="start" fill="#3a86d6" stroke="#3a86d6" stroke-width="0.14" >H3.3 WT</text>
<text x="480.8" y="281.0" font-size="6.3" font-weight="bold" text-anchor="start" fill="#3a86d6" stroke="#3a86d6" stroke-width="0.14" >(- Tam)</text>
<text x="450.9" y="287.7" font-size="6.3" font-weight="bold" text-anchor="start" fill="#d0202c" stroke="#d0202c" stroke-width="0.14" >H3.3 DKD</text>
<text x="479.6" y="287.7" font-size="6.3" font-weight="bold" text-anchor="start" fill="#d0202c" stroke="#d0202c" stroke-width="0.14" >(+ Tam)</text>
<text x="569.3" y="287.2" font-size="7.6" font-weight="normal" text-anchor="end" fill="#222" stroke="#222" stroke-width="0.08" >25</text>
<text x="569.3" y="304.65" font-size="7.6" font-weight="normal" text-anchor="end" fill="#222" stroke="#222" stroke-width="0.08" >24</text>
<text x="569.3" y="322.09999999999997" font-size="7.6" font-weight="normal" text-anchor="end" fill="#222" stroke="#222" stroke-width="0.08" >23</text>
<text x="569.3" y="339.55" font-size="7.6" font-weight="normal" text-anchor="end" fill="#222" stroke="#222" stroke-width="0.08" >22</text>
<text x="569.3" y="357.0" font-size="7.6" font-weight="normal" text-anchor="end" fill="#222" stroke="#222" stroke-width="0.08" >21</text>
<text x="555.6" y="317.6" font-size="7.45" text-anchor="middle" fill="#333" stroke="#333" stroke-width="0.08" transform="rotate(-90 555.6 317.6)">Period (hours)</text>
<line x1="577.6" y1="283.9" x2="577.6" y2="355.4" stroke="#3a8ad8" stroke-width="1.0" />
<line x1="586.2" y1="283.9" x2="586.2" y2="355.4" stroke="#3a8ad8" stroke-width="1.0" />
<line x1="577.6" y1="284.2" x2="586.2" y2="284.2" stroke="#3a8ad8" stroke-width="1.0" />
<line x1="577.6" y1="355.4" x2="586.2" y2="355.4" stroke="#a8c8ec" stroke-width="0.8" />
<line x1="590.4" y1="319.4" x2="590.4" y2="355.4" stroke="#d04545" stroke-width="1.0" />
<line x1="600.2" y1="319.4" x2="600.2" y2="355.4" stroke="#e8a0a0" stroke-width="1.0" />
<line x1="590.4" y1="319.4" x2="600.2" y2="319.4" stroke="#d04545" stroke-width="1.0" />
<line x1="590.4" y1="355.4" x2="600.2" y2="355.4" stroke="#eab0b0" stroke-width="0.8" />
<line x1="595.3" y1="312.7" x2="595.3" y2="327" stroke="#333" stroke-width="0.7" />
<line x1="593.8" y1="312.7" x2="596.8" y2="312.7" stroke="#333" stroke-width="0.7" />
<line x1="593.8" y1="327" x2="596.8" y2="327" stroke="#333" stroke-width="0.5" />
<circle cx="591.8" cy="320.5" r="0.9" fill="none" stroke="#222" stroke-width="0.5"/>
<circle cx="594.2" cy="320" r="0.9" fill="none" stroke="#222" stroke-width="0.5"/>
<circle cx="597.5" cy="319.8" r="0.9" fill="none" stroke="#222" stroke-width="0.5"/>
<circle cx="595" cy="322.5" r="0.9" fill="none" stroke="#222" stroke-width="0.5"/>
<circle cx="579" cy="285" r="0.9" fill="none" stroke="#222" stroke-width="0.5"/>
<circle cx="581" cy="284.6" r="0.9" fill="none" stroke="#222" stroke-width="0.5"/>
<circle cx="583.5" cy="285" r="0.9" fill="none" stroke="#222" stroke-width="0.5"/>
<circle cx="585" cy="285.3" r="0.9" fill="none" stroke="#222" stroke-width="0.5"/>
<circle cx="581.8" cy="287.3" r="0.9" fill="none" stroke="#222" stroke-width="0.5"/>
<line x1="578" y1="284.8" x2="586" y2="284.8" stroke="#333" stroke-width="0.6" />
<line x1="581.8" y1="284.2" x2="581.8" y2="288.5" stroke="#333" stroke-width="0.6" />
<line x1="577.9" y1="279.5" x2="600.7" y2="279.5" stroke="#777" stroke-width="0.9" />
<text x="589.3" y="280.2" font-size="5.6" font-weight="bold" text-anchor="middle" fill="#333" stroke="#333" stroke-width="0.08" >***</text>
<text x="573.8" y="271.8" font-size="6.1" fill="#333" stroke="#333" stroke-width="0.08" letter-spacing="-0.1"><tspan font-style="italic">P</tspan> = 0.00001</text>
<text x="581.8" y="364.2" font-size="8.0" font-weight="normal" text-anchor="middle" fill="#333" stroke="#333" stroke-width="0.08" >-</text>
<text x="592.6" y="364.3" font-size="8.0" font-weight="normal" text-anchor="start" fill="#222" stroke="#222" stroke-width="0.08" >+ Tam</text>
<text x="634.6" y="289.4" font-size="6.4" font-weight="bold" text-anchor="middle" fill="#111" stroke="#111" stroke-width="0.14" textLength="28.6" lengthAdjust="spacingAndGlyphs">Whole cell</text>
<text x="634.8" y="296.7" font-size="6.4" font-weight="bold" text-anchor="middle" fill="#111" stroke="#111" stroke-width="0.14" textLength="19.6" lengthAdjust="spacingAndGlyphs">extract</text>
<text x="619.8" y="300.2" font-size="5.0" font-weight="normal" text-anchor="end" fill="#333" stroke="#333" stroke-width="0.08" >kDa</text>
<text x="618.5" y="307.2" font-size="5.0" font-weight="normal" text-anchor="end" fill="#333" stroke="#333" stroke-width="0.08" >25</text>
<text x="618.5" y="340.3" font-size="5.0" font-weight="normal" text-anchor="end" fill="#333" stroke="#333" stroke-width="0.08" >15</text>
<rect x="621.6" y="298.4" width="26.8" height="13.600000000000023" fill="#dcdcdc" stroke="#1a1a1a" stroke-width="1.3" />
<rect x="621.6" y="313.2" width="26.8" height="13.199999999999989" fill="#cfcfcf" stroke="#1a1a1a" stroke-width="1.3" />
<rect x="621.6" y="327.7" width="26.8" height="12.800000000000011" fill="#d6d6d6" stroke="#1a1a1a" stroke-width="1.3" />
<rect x="627.90" y="303.90" width="7.60" height="1.60" rx="0.80" fill="#000" opacity="1" filter="url(#b1)"/>
<rect x="624.00" y="315.55" width="13.00" height="8.50" rx="4.25" fill="#000" opacity="1" filter="url(#b2)"/>
<rect x="624.50" y="318.50" width="7.00" height="5.00" rx="2.50" fill="#000" opacity="1" filter="url(#b4)"/>
<rect x="637.00" y="318.50" width="8.00" height="2.00" rx="1.00" fill="#888" opacity="0.7" filter="url(#b1)"/>
<rect x="623.50" y="333.30" width="23.00" height="1.80" rx="0.90" fill="#333" opacity="1" filter="url(#b1)"/>
<rect x="625.00" y="333.20" width="10.00" height="1.60" rx="0.80" fill="#111" opacity="1" filter="url(#b1)"/>
<text x="650.4" y="305" font-size="6.0" font-weight="bold" text-anchor="start" fill="#111" stroke="#111" stroke-width="0.14" textLength="16.8" lengthAdjust="spacingAndGlyphs">HA tag</text>
<text x="650.4" y="311.8" font-size="6.0" font-weight="bold" text-anchor="start" fill="#111" stroke="#111" stroke-width="0.14" textLength="22.4" lengthAdjust="spacingAndGlyphs">(FH-H3.3)</text>
<text x="650.4" y="318.8" font-size="6.0" font-weight="normal" text-anchor="start" fill="#444" stroke="#444" stroke-width="0.1" textLength="15.2" lengthAdjust="spacingAndGlyphs">Higher</text>
<text x="650.4" y="325.2" font-size="6.0" font-weight="normal" text-anchor="start" fill="#444" stroke="#444" stroke-width="0.1" textLength="20.8" lengthAdjust="spacingAndGlyphs">exposure</text>
<text x="650.4" y="336" font-size="6.0" font-weight="bold" text-anchor="start" fill="#111" stroke="#111" stroke-width="0.14" textLength="22.2" lengthAdjust="spacingAndGlyphs">Total H3</text>
<text x="628.4" y="348.5" font-size="7.5" font-weight="normal" text-anchor="middle" fill="#222" stroke="#222" stroke-width="0.08" >-</text>
<text x="640.3" y="348.5" font-size="7.5" font-weight="normal" text-anchor="middle" fill="#222" stroke="#222" stroke-width="0.08" >+</text>
<text x="650.5" y="348.9" font-size="7.3" font-weight="normal" text-anchor="start" fill="#222" stroke="#222" stroke-width="0.08" >Tam</text>
</svg>
</body></html>
